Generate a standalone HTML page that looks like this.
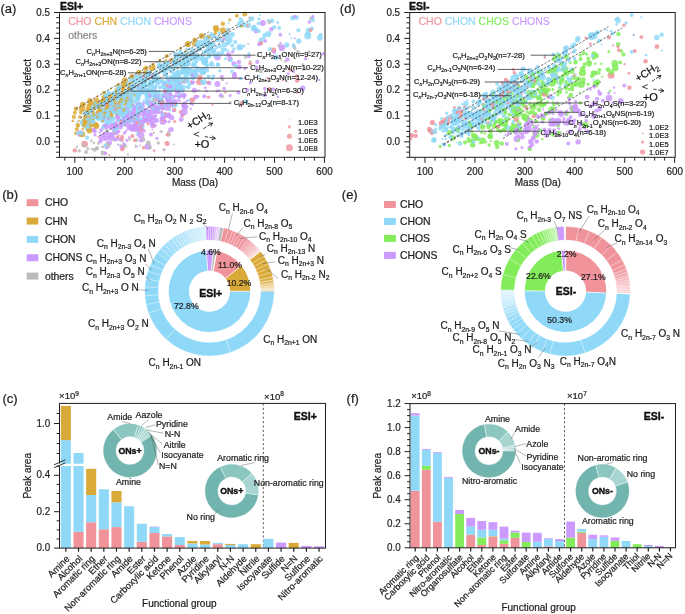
<!DOCTYPE html>
<html><head><meta charset="utf-8"><style>
html,body{margin:0;padding:0;background:#fff;}
svg{display:block;}
text{font-family:"Liberation Sans", sans-serif;}
svg{will-change:transform;}
</style></head><body>
<svg width="685" height="614" viewBox="0 0 685 614" font-family='"Liberation Sans", sans-serif'>
<rect x="0" y="0" width="685" height="614" fill="#fff"/>
<g fill-opacity="0.85">
<circle cx="168.5" cy="91.1" r="3.70" fill="#8FD8F8"/>
<circle cx="132.4" cy="78.4" r="3.69" fill="#8FD8F8"/>
<circle cx="122.2" cy="121.4" r="3.68" fill="#8FD8F8"/>
<circle cx="156.2" cy="110.8" r="3.67" fill="#CC99FF"/>
<circle cx="203.0" cy="71.2" r="3.65" fill="#8FD8F8"/>
<circle cx="226.4" cy="34.9" r="3.64" fill="#8FD8F8"/>
<circle cx="141.0" cy="125.9" r="3.63" fill="#8FD8F8"/>
<circle cx="181.3" cy="80.4" r="3.63" fill="#8FD8F8"/>
<circle cx="170.4" cy="87.5" r="3.62" fill="#8FD8F8"/>
<circle cx="124.4" cy="114.7" r="3.62" fill="#8FD8F8"/>
<circle cx="186.0" cy="80.2" r="3.60" fill="#8FD8F8"/>
<circle cx="581.2" cy="84.5" r="3.60" fill="#82EC5A"/>
<circle cx="148.6" cy="91.3" r="3.58" fill="#8FD8F8"/>
<circle cx="147.7" cy="119.3" r="3.58" fill="#CC99FF"/>
<circle cx="126.2" cy="83.9" r="3.58" fill="#8FD8F8"/>
<circle cx="459.8" cy="113.0" r="3.58" fill="#F0939B"/>
<circle cx="494.6" cy="97.8" r="3.58" fill="#8FD8F8"/>
<circle cx="593.9" cy="35.7" r="3.58" fill="#8FD8F8"/>
<circle cx="127.6" cy="102.2" r="3.57" fill="#8FD8F8"/>
<circle cx="536.0" cy="134.4" r="3.55" fill="#82EC5A"/>
<circle cx="97.3" cy="114.5" r="3.55" fill="#8FD8F8"/>
<circle cx="147.4" cy="73.7" r="3.55" fill="#8FD8F8"/>
<circle cx="202.5" cy="71.0" r="3.55" fill="#8FD8F8"/>
<circle cx="582.6" cy="72.7" r="3.55" fill="#82EC5A"/>
<circle cx="551.6" cy="110.4" r="3.54" fill="#82EC5A"/>
<circle cx="514.1" cy="78.1" r="3.53" fill="#8FD8F8"/>
<circle cx="144.3" cy="78.6" r="3.53" fill="#8FD8F8"/>
<circle cx="591.4" cy="36.5" r="3.53" fill="#8FD8F8"/>
<circle cx="194.0" cy="73.7" r="3.53" fill="#CC99FF"/>
<circle cx="521.5" cy="101.8" r="3.53" fill="#82EC5A"/>
<circle cx="469.5" cy="125.6" r="3.52" fill="#8FD8F8"/>
<circle cx="517.1" cy="138.7" r="3.51" fill="#CC99FF"/>
<circle cx="614.9" cy="63.4" r="3.51" fill="#82EC5A"/>
<circle cx="553.0" cy="121.2" r="3.51" fill="#CC99FF"/>
<circle cx="446.5" cy="120.4" r="3.49" fill="#F0939B"/>
<circle cx="174.2" cy="78.8" r="3.49" fill="#8FD8F8"/>
<circle cx="240.6" cy="24.2" r="3.49" fill="#8FD8F8"/>
<circle cx="611.1" cy="75.3" r="3.48" fill="#F0939B"/>
<circle cx="178.2" cy="85.3" r="3.48" fill="#CC99FF"/>
<circle cx="475.0" cy="116.1" r="3.48" fill="#8FD8F8"/>
<circle cx="102.3" cy="137.6" r="3.47" fill="#CC99FF"/>
<circle cx="307.7" cy="35.9" r="3.46" fill="#8FD8F8"/>
<circle cx="454.4" cy="119.4" r="3.46" fill="#8FD8F8"/>
<circle cx="526.0" cy="130.8" r="3.45" fill="#CC99FF"/>
<circle cx="184.2" cy="111.7" r="3.45" fill="#CC99FF"/>
<circle cx="541.7" cy="92.3" r="3.45" fill="#82EC5A"/>
<circle cx="131.6" cy="113.7" r="3.45" fill="#CC99FF"/>
<circle cx="172.5" cy="88.4" r="3.44" fill="#8FD8F8"/>
<circle cx="467.1" cy="125.4" r="3.44" fill="#8FD8F8"/>
<circle cx="525.9" cy="117.4" r="3.44" fill="#82EC5A"/>
<circle cx="457.1" cy="120.3" r="3.44" fill="#8FD8F8"/>
<circle cx="511.9" cy="129.3" r="3.43" fill="#82EC5A"/>
<circle cx="168.5" cy="99.3" r="3.42" fill="#CC99FF"/>
<circle cx="552.2" cy="83.2" r="3.41" fill="#82EC5A"/>
<circle cx="528.4" cy="128.8" r="3.40" fill="#CC99FF"/>
<circle cx="585.2" cy="124.8" r="3.40" fill="#82EC5A"/>
<circle cx="527.2" cy="125.1" r="3.40" fill="#CC99FF"/>
<circle cx="453.8" cy="122.0" r="3.39" fill="#8FD8F8"/>
<circle cx="281.8" cy="47.6" r="3.38" fill="#CC99FF"/>
<circle cx="139.9" cy="129.9" r="3.38" fill="#F0939B"/>
<circle cx="147.9" cy="146.4" r="3.38" fill="#CC99FF"/>
<circle cx="136.5" cy="126.4" r="3.38" fill="#CC99FF"/>
<circle cx="95.1" cy="105.7" r="3.37" fill="#8FD8F8"/>
<circle cx="83.3" cy="122.4" r="3.37" fill="#8FD8F8"/>
<circle cx="152.8" cy="117.5" r="3.37" fill="#CC99FF"/>
<circle cx="523.6" cy="88.8" r="3.37" fill="#8FD8F8"/>
<circle cx="174.6" cy="104.3" r="3.37" fill="#8FD8F8"/>
<circle cx="530.5" cy="71.7" r="3.37" fill="#8FD8F8"/>
<circle cx="162.8" cy="121.5" r="3.37" fill="#CC99FF"/>
<circle cx="111.7" cy="137.5" r="3.37" fill="#CC99FF"/>
<circle cx="80.2" cy="133.6" r="3.36" fill="#CC99FF"/>
<circle cx="487.1" cy="113.4" r="3.36" fill="#8FD8F8"/>
<circle cx="229.3" cy="40.0" r="3.36" fill="#8FD8F8"/>
<circle cx="193.2" cy="76.0" r="3.35" fill="#8FD8F8"/>
<circle cx="180.3" cy="87.4" r="3.35" fill="#8FD8F8"/>
<circle cx="84.6" cy="144.1" r="3.34" fill="#F0939B"/>
<circle cx="192.1" cy="56.6" r="3.34" fill="#8FD8F8"/>
<circle cx="464.8" cy="123.7" r="3.34" fill="#8FD8F8"/>
<circle cx="182.9" cy="64.0" r="3.32" fill="#8FD8F8"/>
<circle cx="167.5" cy="107.6" r="3.31" fill="#CC99FF"/>
<circle cx="114.6" cy="125.4" r="3.31" fill="#CC99FF"/>
<circle cx="112.0" cy="110.8" r="3.30" fill="#8FD8F8"/>
<circle cx="482.7" cy="140.8" r="3.30" fill="#82EC5A"/>
<circle cx="105.7" cy="99.6" r="3.30" fill="#8FD8F8"/>
<circle cx="609.0" cy="98.0" r="3.30" fill="#CC99FF"/>
<circle cx="615.3" cy="68.1" r="3.30" fill="#82EC5A"/>
<circle cx="141.1" cy="135.5" r="3.30" fill="#CC99FF"/>
<circle cx="209.4" cy="44.1" r="3.29" fill="#8FD8F8"/>
<circle cx="125.2" cy="120.7" r="3.29" fill="#CC99FF"/>
<circle cx="479.8" cy="122.2" r="3.29" fill="#8FD8F8"/>
<circle cx="508.9" cy="88.0" r="3.29" fill="#8FD8F8"/>
<circle cx="239.8" cy="47.3" r="3.27" fill="#8FD8F8"/>
<circle cx="471.7" cy="124.9" r="3.27" fill="#82EC5A"/>
<circle cx="512.9" cy="100.9" r="3.27" fill="#82EC5A"/>
<circle cx="217.6" cy="57.3" r="3.27" fill="#CC99FF"/>
<circle cx="558.2" cy="121.0" r="3.27" fill="#CC99FF"/>
<circle cx="495.6" cy="106.4" r="3.26" fill="#8FD8F8"/>
<circle cx="199.4" cy="82.1" r="3.25" fill="#F0939B"/>
<circle cx="125.7" cy="109.6" r="3.25" fill="#CC99FF"/>
<circle cx="140.6" cy="88.5" r="3.24" fill="#8FD8F8"/>
<circle cx="129.6" cy="127.2" r="3.24" fill="#CC99FF"/>
<circle cx="519.0" cy="129.6" r="3.24" fill="#82EC5A"/>
<circle cx="176.0" cy="62.9" r="3.24" fill="#8FD8F8"/>
<circle cx="206.3" cy="39.1" r="3.22" fill="#8FD8F8"/>
<circle cx="164.7" cy="115.2" r="3.21" fill="#F0939B"/>
<circle cx="442.1" cy="123.5" r="3.21" fill="#F0939B"/>
<circle cx="534.1" cy="94.1" r="3.21" fill="#82EC5A"/>
<circle cx="532.8" cy="93.0" r="3.20" fill="#8FD8F8"/>
<circle cx="517.1" cy="87.0" r="3.20" fill="#8FD8F8"/>
<circle cx="161.3" cy="102.1" r="3.20" fill="#CC99FF"/>
<circle cx="504.3" cy="87.1" r="3.20" fill="#8FD8F8"/>
<circle cx="544.9" cy="93.6" r="3.20" fill="#F0939B"/>
<circle cx="595.8" cy="83.9" r="3.20" fill="#82EC5A"/>
<circle cx="134.0" cy="127.5" r="3.19" fill="#CC99FF"/>
<circle cx="81.9" cy="108.8" r="3.17" fill="#DAAA38"/>
<circle cx="537.7" cy="78.8" r="3.17" fill="#82EC5A"/>
<circle cx="176.4" cy="54.8" r="3.17" fill="#8FD8F8"/>
<circle cx="532.6" cy="95.4" r="3.16" fill="#82EC5A"/>
<circle cx="213.3" cy="51.0" r="3.16" fill="#8FD8F8"/>
<circle cx="121.3" cy="97.9" r="3.16" fill="#DAAA38"/>
<circle cx="114.9" cy="93.4" r="3.15" fill="#8FD8F8"/>
<circle cx="174.1" cy="78.2" r="3.13" fill="#8FD8F8"/>
<circle cx="138.3" cy="108.0" r="3.13" fill="#8FD8F8"/>
<circle cx="123.8" cy="84.5" r="3.13" fill="#DAAA38"/>
<circle cx="466.1" cy="114.0" r="3.13" fill="#8FD8F8"/>
<circle cx="204.6" cy="61.3" r="3.13" fill="#8FD8F8"/>
<circle cx="268.3" cy="34.0" r="3.12" fill="#8FD8F8"/>
<circle cx="222.8" cy="30.3" r="3.12" fill="#DAAA38"/>
<circle cx="216.3" cy="29.1" r="3.12" fill="#DAAA38"/>
<circle cx="95.8" cy="125.0" r="3.11" fill="#DAAA38"/>
<circle cx="89.3" cy="130.3" r="3.10" fill="#DAAA38"/>
<circle cx="117.8" cy="108.8" r="3.10" fill="#DAAA38"/>
<circle cx="589.0" cy="63.4" r="3.10" fill="#82EC5A"/>
<circle cx="144.3" cy="82.3" r="3.10" fill="#8FD8F8"/>
<circle cx="120.8" cy="96.7" r="3.09" fill="#DAAA38"/>
<circle cx="131.5" cy="118.1" r="3.09" fill="#8FD8F8"/>
<circle cx="555.2" cy="59.0" r="3.09" fill="#82EC5A"/>
<circle cx="187.8" cy="44.0" r="3.08" fill="#DAAA38"/>
<circle cx="86.8" cy="112.8" r="3.08" fill="#DAAA38"/>
<circle cx="532.1" cy="84.4" r="3.08" fill="#82EC5A"/>
<circle cx="91.8" cy="123.4" r="3.08" fill="#DAAA38"/>
<circle cx="86.3" cy="118.1" r="3.08" fill="#DAAA38"/>
<circle cx="490.1" cy="117.3" r="3.07" fill="#8FD8F8"/>
<circle cx="541.6" cy="75.7" r="3.07" fill="#8FD8F8"/>
<circle cx="93.3" cy="106.7" r="3.07" fill="#8FD8F8"/>
<circle cx="247.8" cy="25.3" r="3.06" fill="#8FD8F8"/>
<circle cx="98.8" cy="112.8" r="3.05" fill="#DAAA38"/>
<circle cx="520.1" cy="92.7" r="3.05" fill="#F0939B"/>
<circle cx="91.8" cy="116.9" r="3.04" fill="#DAAA38"/>
<circle cx="82.3" cy="134.3" r="3.04" fill="#DAAA38"/>
<circle cx="90.9" cy="103.2" r="3.04" fill="#DAAA38"/>
<circle cx="112.8" cy="111.3" r="3.04" fill="#DAAA38"/>
<circle cx="262.9" cy="23.0" r="3.03" fill="#CC99FF"/>
<circle cx="134.3" cy="93.8" r="3.03" fill="#DAAA38"/>
<circle cx="532.2" cy="82.0" r="3.01" fill="#8FD8F8"/>
<circle cx="524.2" cy="117.1" r="3.00" fill="#82EC5A"/>
<circle cx="515.9" cy="130.3" r="3.00" fill="#CC99FF"/>
<circle cx="122.3" cy="93.8" r="3.00" fill="#DAAA38"/>
<circle cx="92.3" cy="118.1" r="3.00" fill="#DAAA38"/>
<circle cx="217.4" cy="83.9" r="2.99" fill="#CC99FF"/>
<circle cx="124.8" cy="80.5" r="2.99" fill="#DAAA38"/>
<circle cx="126.4" cy="116.2" r="2.98" fill="#8FD8F8"/>
<circle cx="444.6" cy="123.3" r="2.98" fill="#8FD8F8"/>
<circle cx="319.9" cy="37.7" r="2.97" fill="#8FD8F8"/>
<circle cx="508.3" cy="101.0" r="2.97" fill="#8FD8F8"/>
<circle cx="516.9" cy="85.8" r="2.97" fill="#82EC5A"/>
<circle cx="82.9" cy="104.7" r="2.95" fill="#DAAA38"/>
<circle cx="558.3" cy="56.1" r="2.95" fill="#82EC5A"/>
<circle cx="218.1" cy="39.4" r="2.95" fill="#8FD8F8"/>
<circle cx="501.9" cy="123.5" r="2.95" fill="#82EC5A"/>
<circle cx="94.5" cy="116.6" r="2.95" fill="#8FD8F8"/>
<circle cx="474.9" cy="136.7" r="2.94" fill="#82EC5A"/>
<circle cx="573.8" cy="109.6" r="2.94" fill="#CC99FF"/>
<circle cx="163.9" cy="95.4" r="2.93" fill="#8FD8F8"/>
<circle cx="566.4" cy="73.2" r="2.93" fill="#82EC5A"/>
<circle cx="99.3" cy="114.1" r="2.93" fill="#DAAA38"/>
<circle cx="86.8" cy="119.4" r="2.93" fill="#DAAA38"/>
<circle cx="84.6" cy="124.6" r="2.92" fill="#8FD8F8"/>
<circle cx="485.7" cy="98.5" r="2.92" fill="#F0939B"/>
<circle cx="96.3" cy="126.2" r="2.91" fill="#DAAA38"/>
<circle cx="89.8" cy="125.0" r="2.91" fill="#DAAA38"/>
<circle cx="201.8" cy="35.9" r="2.91" fill="#DAAA38"/>
<circle cx="493.6" cy="117.4" r="2.91" fill="#8FD8F8"/>
<circle cx="156.6" cy="80.8" r="2.91" fill="#8FD8F8"/>
<circle cx="153.0" cy="125.4" r="2.90" fill="#CC99FF"/>
<circle cx="512.0" cy="100.0" r="2.90" fill="#8FD8F8"/>
<circle cx="474.6" cy="124.5" r="2.89" fill="#8FD8F8"/>
<circle cx="144.4" cy="113.1" r="2.89" fill="#CC99FF"/>
<circle cx="137.7" cy="81.0" r="2.87" fill="#8FD8F8"/>
<circle cx="137.4" cy="121.4" r="2.87" fill="#CC99FF"/>
<circle cx="620.8" cy="101.1" r="2.87" fill="#CC99FF"/>
<circle cx="496.7" cy="142.9" r="2.87" fill="#82EC5A"/>
<circle cx="500.0" cy="120.7" r="2.86" fill="#82EC5A"/>
<circle cx="151.8" cy="68.3" r="2.86" fill="#DAAA38"/>
<circle cx="105.3" cy="114.1" r="2.85" fill="#DAAA38"/>
<circle cx="215.8" cy="27.8" r="2.85" fill="#DAAA38"/>
<circle cx="520.0" cy="110.7" r="2.85" fill="#82EC5A"/>
<circle cx="120.1" cy="106.8" r="2.84" fill="#8FD8F8"/>
<circle cx="479.1" cy="112.5" r="2.84" fill="#8FD8F8"/>
<circle cx="106.3" cy="110.0" r="2.84" fill="#DAAA38"/>
<circle cx="499.5" cy="108.4" r="2.84" fill="#82EC5A"/>
<circle cx="133.6" cy="111.6" r="2.84" fill="#CC99FF"/>
<circle cx="148.6" cy="116.7" r="2.82" fill="#8FD8F8"/>
<circle cx="504.2" cy="91.2" r="2.82" fill="#8FD8F8"/>
<circle cx="96.8" cy="103.2" r="2.81" fill="#DAAA38"/>
<circle cx="131.4" cy="127.2" r="2.80" fill="#CC99FF"/>
<circle cx="180.3" cy="54.4" r="2.80" fill="#8FD8F8"/>
<circle cx="146.0" cy="73.8" r="2.80" fill="#8FD8F8"/>
<circle cx="113.7" cy="106.1" r="2.80" fill="#8FD8F8"/>
<circle cx="168.5" cy="115.2" r="2.80" fill="#CC99FF"/>
<circle cx="117.5" cy="113.9" r="2.79" fill="#8FD8F8"/>
<circle cx="125.2" cy="99.9" r="2.79" fill="#8FD8F8"/>
<circle cx="177.1" cy="89.7" r="2.79" fill="#8FD8F8"/>
<circle cx="211.8" cy="36.1" r="2.79" fill="#8FD8F8"/>
<circle cx="560.1" cy="112.8" r="2.79" fill="#CC99FF"/>
<circle cx="575.4" cy="106.5" r="2.79" fill="#CC99FF"/>
<circle cx="559.3" cy="60.4" r="2.79" fill="#8FD8F8"/>
<circle cx="496.3" cy="105.8" r="2.79" fill="#8FD8F8"/>
<circle cx="100.8" cy="104.7" r="2.79" fill="#DAAA38"/>
<circle cx="516.1" cy="119.4" r="2.79" fill="#F0939B"/>
<circle cx="555.2" cy="81.1" r="2.78" fill="#82EC5A"/>
<circle cx="204.2" cy="62.4" r="2.78" fill="#8FD8F8"/>
<circle cx="593.6" cy="73.2" r="2.78" fill="#82EC5A"/>
<circle cx="275.9" cy="57.4" r="2.78" fill="#8FD8F8"/>
<circle cx="153.6" cy="76.3" r="2.78" fill="#8FD8F8"/>
<circle cx="168.2" cy="103.4" r="2.78" fill="#CC99FF"/>
<circle cx="559.0" cy="133.9" r="2.78" fill="#CC99FF"/>
<circle cx="484.5" cy="95.2" r="2.78" fill="#8FD8F8"/>
<circle cx="569.8" cy="80.5" r="2.77" fill="#8FD8F8"/>
<circle cx="184.8" cy="56.8" r="2.77" fill="#8FD8F8"/>
<circle cx="489.6" cy="124.8" r="2.77" fill="#82EC5A"/>
<circle cx="526.2" cy="77.6" r="2.77" fill="#82EC5A"/>
<circle cx="169.1" cy="68.3" r="2.77" fill="#8FD8F8"/>
<circle cx="147.3" cy="99.4" r="2.77" fill="#8FD8F8"/>
<circle cx="111.7" cy="111.4" r="2.77" fill="#8FD8F8"/>
<circle cx="543.0" cy="91.1" r="2.77" fill="#82EC5A"/>
<circle cx="568.5" cy="122.0" r="2.77" fill="#82EC5A"/>
<circle cx="151.0" cy="82.7" r="2.77" fill="#8FD8F8"/>
<circle cx="103.1" cy="110.4" r="2.77" fill="#8FD8F8"/>
<circle cx="498.7" cy="96.7" r="2.77" fill="#8FD8F8"/>
<circle cx="503.6" cy="101.9" r="2.76" fill="#82EC5A"/>
<circle cx="452.7" cy="138.0" r="2.76" fill="#82EC5A"/>
<circle cx="543.0" cy="116.3" r="2.76" fill="#CC99FF"/>
<circle cx="546.4" cy="132.8" r="2.76" fill="#CC99FF"/>
<circle cx="165.6" cy="87.7" r="2.76" fill="#8FD8F8"/>
<circle cx="482.7" cy="127.0" r="2.76" fill="#82EC5A"/>
<circle cx="551.0" cy="123.9" r="2.76" fill="#CC99FF"/>
<circle cx="140.7" cy="76.2" r="2.76" fill="#8FD8F8"/>
<circle cx="106.9" cy="115.0" r="2.75" fill="#8FD8F8"/>
<circle cx="106.0" cy="126.5" r="2.75" fill="#CC99FF"/>
<circle cx="119.2" cy="110.9" r="2.75" fill="#8FD8F8"/>
<circle cx="518.5" cy="124.9" r="2.75" fill="#82EC5A"/>
<circle cx="132.2" cy="128.8" r="2.75" fill="#CC99FF"/>
<circle cx="509.8" cy="97.0" r="2.74" fill="#8FD8F8"/>
<circle cx="120.3" cy="101.9" r="2.74" fill="#DAAA38"/>
<circle cx="575.7" cy="83.5" r="2.74" fill="#82EC5A"/>
<circle cx="109.8" cy="135.0" r="2.74" fill="#CC99FF"/>
<circle cx="114.3" cy="101.9" r="2.74" fill="#DAAA38"/>
<circle cx="490.5" cy="136.4" r="2.74" fill="#82EC5A"/>
<circle cx="199.9" cy="77.4" r="2.73" fill="#F0939B"/>
<circle cx="135.3" cy="115.2" r="2.73" fill="#CC99FF"/>
<circle cx="457.1" cy="115.9" r="2.73" fill="#8FD8F8"/>
<circle cx="137.6" cy="118.9" r="2.73" fill="#CC99FF"/>
<circle cx="516.7" cy="110.6" r="2.73" fill="#82EC5A"/>
<circle cx="453.5" cy="129.5" r="2.72" fill="#8FD8F8"/>
<circle cx="302.7" cy="88.3" r="2.72" fill="#CC99FF"/>
<circle cx="561.9" cy="78.2" r="2.72" fill="#82EC5A"/>
<circle cx="465.9" cy="103.6" r="2.72" fill="#8FD8F8"/>
<circle cx="523.2" cy="69.1" r="2.72" fill="#8FD8F8"/>
<circle cx="521.1" cy="74.0" r="2.72" fill="#8FD8F8"/>
<circle cx="506.8" cy="96.4" r="2.72" fill="#8FD8F8"/>
<circle cx="84.8" cy="120.9" r="2.72" fill="#DAAA38"/>
<circle cx="146.4" cy="110.8" r="2.72" fill="#CC99FF"/>
<circle cx="150.7" cy="82.5" r="2.71" fill="#8FD8F8"/>
<circle cx="519.9" cy="113.0" r="2.71" fill="#82EC5A"/>
<circle cx="618.1" cy="20.7" r="2.71" fill="#8FD8F8"/>
<circle cx="530.7" cy="141.8" r="2.71" fill="#CC99FF"/>
<circle cx="163.3" cy="115.7" r="2.71" fill="#CC99FF"/>
<circle cx="87.4" cy="128.3" r="2.71" fill="#8FD8F8"/>
<circle cx="148.7" cy="113.6" r="2.71" fill="#CC99FF"/>
<circle cx="564.7" cy="52.4" r="2.71" fill="#8FD8F8"/>
<circle cx="529.3" cy="82.8" r="2.71" fill="#8FD8F8"/>
<circle cx="170.9" cy="84.7" r="2.71" fill="#8FD8F8"/>
<circle cx="162.6" cy="106.9" r="2.70" fill="#F0939B"/>
<circle cx="483.8" cy="117.4" r="2.70" fill="#8FD8F8"/>
<circle cx="196.1" cy="74.7" r="2.70" fill="#8FD8F8"/>
<circle cx="115.5" cy="132.6" r="2.70" fill="#CC99FF"/>
<circle cx="167.4" cy="89.9" r="2.70" fill="#8FD8F8"/>
<circle cx="656.8" cy="37.4" r="2.70" fill="#8FD8F8"/>
<circle cx="185.2" cy="107.4" r="2.70" fill="#CC99FF"/>
<circle cx="566.4" cy="47.9" r="2.70" fill="#8FD8F8"/>
<circle cx="203.3" cy="43.3" r="2.70" fill="#8FD8F8"/>
<circle cx="582.4" cy="69.2" r="2.70" fill="#82EC5A"/>
<circle cx="472.7" cy="145.0" r="2.69" fill="#82EC5A"/>
<circle cx="493.4" cy="92.1" r="2.69" fill="#8FD8F8"/>
<circle cx="476.5" cy="138.4" r="2.69" fill="#82EC5A"/>
<circle cx="487.7" cy="100.5" r="2.69" fill="#8FD8F8"/>
<circle cx="86.7" cy="113.2" r="2.69" fill="#8FD8F8"/>
<circle cx="234.5" cy="76.0" r="2.69" fill="#CC99FF"/>
<circle cx="104.6" cy="134.8" r="2.69" fill="#CC99FF"/>
<circle cx="518.5" cy="92.4" r="2.69" fill="#8FD8F8"/>
<circle cx="473.6" cy="135.6" r="2.69" fill="#82EC5A"/>
<circle cx="146.5" cy="90.8" r="2.68" fill="#8FD8F8"/>
<circle cx="486.6" cy="106.2" r="2.68" fill="#8FD8F8"/>
<circle cx="199.1" cy="48.8" r="2.68" fill="#8FD8F8"/>
<circle cx="511.4" cy="81.8" r="2.68" fill="#8FD8F8"/>
<circle cx="157.8" cy="109.6" r="2.68" fill="#8FD8F8"/>
<circle cx="518.3" cy="112.7" r="2.68" fill="#8FD8F8"/>
<circle cx="171.0" cy="129.6" r="2.68" fill="#CC99FF"/>
<circle cx="208.0" cy="37.2" r="2.68" fill="#8FD8F8"/>
<circle cx="506.8" cy="92.3" r="2.68" fill="#8FD8F8"/>
<circle cx="273.5" cy="50.1" r="2.67" fill="#F0939B"/>
<circle cx="534.0" cy="93.6" r="2.67" fill="#8FD8F8"/>
<circle cx="516.3" cy="111.2" r="2.67" fill="#82EC5A"/>
<circle cx="139.0" cy="89.1" r="2.67" fill="#CC99FF"/>
<circle cx="495.4" cy="96.1" r="2.67" fill="#8FD8F8"/>
<circle cx="545.7" cy="85.1" r="2.67" fill="#82EC5A"/>
<circle cx="432.8" cy="131.8" r="2.67" fill="#F0939B"/>
<circle cx="204.3" cy="82.3" r="2.67" fill="#8FD8F8"/>
<circle cx="194.0" cy="64.0" r="2.66" fill="#8FD8F8"/>
<circle cx="479.2" cy="101.8" r="2.66" fill="#8FD8F8"/>
<circle cx="516.8" cy="112.7" r="2.66" fill="#82EC5A"/>
<circle cx="507.5" cy="93.6" r="2.66" fill="#82EC5A"/>
<circle cx="138.8" cy="72.4" r="2.66" fill="#DAAA38"/>
<circle cx="89.3" cy="106.0" r="2.66" fill="#DAAA38"/>
<circle cx="135.2" cy="108.1" r="2.66" fill="#CC99FF"/>
<circle cx="568.8" cy="120.9" r="2.66" fill="#CC99FF"/>
<circle cx="578.1" cy="141.9" r="2.66" fill="#CC99FF"/>
<circle cx="534.1" cy="106.9" r="2.66" fill="#82EC5A"/>
<circle cx="298.8" cy="41.1" r="2.66" fill="#8FD8F8"/>
<circle cx="186.4" cy="78.9" r="2.66" fill="#8FD8F8"/>
<circle cx="507.6" cy="84.2" r="2.66" fill="#8FD8F8"/>
<circle cx="178.9" cy="90.2" r="2.66" fill="#CC99FF"/>
<circle cx="165.5" cy="89.9" r="2.66" fill="#8FD8F8"/>
<circle cx="552.2" cy="70.4" r="2.65" fill="#82EC5A"/>
<circle cx="89.9" cy="100.7" r="2.65" fill="#DAAA38"/>
<circle cx="176.6" cy="81.4" r="2.65" fill="#8FD8F8"/>
<circle cx="109.8" cy="99.1" r="2.65" fill="#DAAA38"/>
<circle cx="515.7" cy="100.8" r="2.64" fill="#82EC5A"/>
<circle cx="197.6" cy="42.7" r="2.64" fill="#8FD8F8"/>
<circle cx="102.4" cy="120.3" r="2.64" fill="#8FD8F8"/>
<circle cx="144.2" cy="91.9" r="2.64" fill="#8FD8F8"/>
<circle cx="543.1" cy="78.0" r="2.64" fill="#8FD8F8"/>
<circle cx="593.6" cy="116.1" r="2.64" fill="#CC99FF"/>
<circle cx="224.5" cy="44.6" r="2.63" fill="#8FD8F8"/>
<circle cx="99.4" cy="106.3" r="2.63" fill="#8FD8F8"/>
<circle cx="131.2" cy="95.2" r="2.63" fill="#8FD8F8"/>
<circle cx="129.6" cy="99.3" r="2.63" fill="#8FD8F8"/>
<circle cx="194.4" cy="90.3" r="2.63" fill="#CC99FF"/>
<circle cx="578.0" cy="110.6" r="2.63" fill="#CC99FF"/>
<circle cx="189.4" cy="70.8" r="2.63" fill="#8FD8F8"/>
<circle cx="144.4" cy="84.8" r="2.62" fill="#8FD8F8"/>
<circle cx="499.5" cy="109.3" r="2.62" fill="#8FD8F8"/>
<circle cx="611.3" cy="72.1" r="2.62" fill="#82EC5A"/>
<circle cx="593.9" cy="103.9" r="2.62" fill="#CC99FF"/>
<circle cx="145.8" cy="68.3" r="2.62" fill="#DAAA38"/>
<circle cx="212.9" cy="44.4" r="2.62" fill="#8FD8F8"/>
<circle cx="152.1" cy="122.8" r="2.62" fill="#CC99FF"/>
<circle cx="519.9" cy="89.5" r="2.61" fill="#8FD8F8"/>
<circle cx="175.2" cy="101.5" r="2.61" fill="#CC99FF"/>
<circle cx="432.4" cy="122.5" r="2.61" fill="#F0939B"/>
<circle cx="597.6" cy="81.9" r="2.61" fill="#82EC5A"/>
<circle cx="116.5" cy="127.6" r="2.61" fill="#8FD8F8"/>
<circle cx="108.8" cy="96.7" r="2.61" fill="#DAAA38"/>
<circle cx="286.8" cy="44.9" r="2.60" fill="#8FD8F8"/>
<circle cx="179.3" cy="88.0" r="2.60" fill="#8FD8F8"/>
<circle cx="594.1" cy="53.8" r="2.60" fill="#82EC5A"/>
<circle cx="507.6" cy="127.6" r="2.60" fill="#8FD8F8"/>
<circle cx="578.7" cy="79.0" r="2.60" fill="#82EC5A"/>
<circle cx="449.2" cy="132.5" r="2.60" fill="#82EC5A"/>
<circle cx="131.7" cy="88.9" r="2.60" fill="#8FD8F8"/>
<circle cx="473.0" cy="141.0" r="2.60" fill="#8FD8F8"/>
<circle cx="578.0" cy="38.6" r="2.60" fill="#8FD8F8"/>
<circle cx="182.6" cy="89.3" r="2.60" fill="#8FD8F8"/>
<circle cx="492.5" cy="119.0" r="2.60" fill="#8FD8F8"/>
<circle cx="119.3" cy="106.0" r="2.59" fill="#DAAA38"/>
<circle cx="524.3" cy="89.8" r="2.59" fill="#8FD8F8"/>
<circle cx="183.7" cy="105.1" r="2.59" fill="#CC99FF"/>
<circle cx="505.6" cy="123.2" r="2.59" fill="#82EC5A"/>
<circle cx="518.2" cy="105.3" r="2.59" fill="#8FD8F8"/>
<circle cx="232.3" cy="34.6" r="2.59" fill="#8FD8F8"/>
<circle cx="171.7" cy="117.7" r="2.59" fill="#CC99FF"/>
<circle cx="107.2" cy="96.0" r="2.58" fill="#8FD8F8"/>
<circle cx="184.6" cy="69.3" r="2.58" fill="#8FD8F8"/>
<circle cx="192.3" cy="99.9" r="2.58" fill="#F0939B"/>
<circle cx="101.1" cy="101.9" r="2.58" fill="#8FD8F8"/>
<circle cx="489.9" cy="136.3" r="2.58" fill="#82EC5A"/>
<circle cx="572.0" cy="69.8" r="2.58" fill="#8FD8F8"/>
<circle cx="187.9" cy="60.2" r="2.57" fill="#8FD8F8"/>
<circle cx="499.7" cy="90.3" r="2.57" fill="#8FD8F8"/>
<circle cx="549.9" cy="96.8" r="2.57" fill="#CC99FF"/>
<circle cx="88.8" cy="129.0" r="2.57" fill="#DAAA38"/>
<circle cx="541.9" cy="73.4" r="2.57" fill="#8FD8F8"/>
<circle cx="491.1" cy="102.6" r="2.57" fill="#82EC5A"/>
<circle cx="90.8" cy="120.9" r="2.57" fill="#DAAA38"/>
<circle cx="430.2" cy="130.6" r="2.57" fill="#F0939B"/>
<circle cx="99.7" cy="114.5" r="2.57" fill="#8FD8F8"/>
<circle cx="261.2" cy="40.1" r="2.57" fill="#8FD8F8"/>
<circle cx="566.3" cy="113.2" r="2.56" fill="#82EC5A"/>
<circle cx="228.5" cy="54.5" r="2.56" fill="#CC99FF"/>
<circle cx="144.8" cy="120.4" r="2.56" fill="#CC99FF"/>
<circle cx="120.9" cy="111.7" r="2.56" fill="#CC99FF"/>
<circle cx="542.4" cy="89.9" r="2.56" fill="#8FD8F8"/>
<circle cx="187.9" cy="63.7" r="2.56" fill="#8FD8F8"/>
<circle cx="101.6" cy="118.5" r="2.55" fill="#8FD8F8"/>
<circle cx="165.3" cy="73.2" r="2.55" fill="#8FD8F8"/>
<circle cx="99.8" cy="108.8" r="2.55" fill="#DAAA38"/>
<circle cx="502.0" cy="105.3" r="2.55" fill="#8FD8F8"/>
<circle cx="488.4" cy="112.5" r="2.55" fill="#8FD8F8"/>
<circle cx="526.8" cy="119.6" r="2.54" fill="#82EC5A"/>
<circle cx="99.0" cy="115.7" r="2.54" fill="#8FD8F8"/>
<circle cx="114.3" cy="129.4" r="2.54" fill="#CC99FF"/>
<circle cx="95.9" cy="100.7" r="2.54" fill="#DAAA38"/>
<circle cx="507.2" cy="119.1" r="2.54" fill="#82EC5A"/>
<circle cx="164.4" cy="84.5" r="2.54" fill="#8FD8F8"/>
<circle cx="513.9" cy="88.2" r="2.54" fill="#F0939B"/>
<circle cx="230.1" cy="58.9" r="2.54" fill="#CC99FF"/>
<circle cx="572.8" cy="122.6" r="2.54" fill="#CC99FF"/>
<circle cx="192.9" cy="58.3" r="2.54" fill="#8FD8F8"/>
<circle cx="178.2" cy="75.8" r="2.53" fill="#8FD8F8"/>
<circle cx="520.4" cy="91.0" r="2.53" fill="#8FD8F8"/>
<circle cx="411.5" cy="135.5" r="2.53" fill="#F0939B"/>
<circle cx="239.1" cy="66.8" r="2.53" fill="#CC99FF"/>
<circle cx="527.2" cy="97.6" r="2.53" fill="#8FD8F8"/>
<circle cx="117.3" cy="89.8" r="2.53" fill="#DAAA38"/>
<circle cx="122.5" cy="120.9" r="2.53" fill="#CC99FF"/>
<circle cx="142.8" cy="139.6" r="2.53" fill="#BBBBBB"/>
<circle cx="167.1" cy="143.5" r="2.53" fill="#F0939B"/>
<circle cx="91.4" cy="110.5" r="2.52" fill="#8FD8F8"/>
<circle cx="124.5" cy="122.7" r="2.52" fill="#CC99FF"/>
<circle cx="566.3" cy="56.8" r="2.52" fill="#82EC5A"/>
<circle cx="433.6" cy="140.6" r="2.52" fill="#8FD8F8"/>
<circle cx="156.2" cy="120.5" r="2.52" fill="#CC99FF"/>
<circle cx="110.4" cy="104.2" r="2.52" fill="#8FD8F8"/>
<circle cx="234.0" cy="63.7" r="2.52" fill="#CC99FF"/>
<circle cx="194.8" cy="40.0" r="2.51" fill="#DAAA38"/>
<circle cx="112.2" cy="98.9" r="2.51" fill="#8FD8F8"/>
<circle cx="476.4" cy="114.3" r="2.51" fill="#8FD8F8"/>
<circle cx="554.8" cy="69.2" r="2.51" fill="#8FD8F8"/>
<circle cx="117.9" cy="116.4" r="2.51" fill="#F0939B"/>
<circle cx="154.6" cy="87.3" r="2.51" fill="#8FD8F8"/>
<circle cx="459.3" cy="108.3" r="2.51" fill="#8FD8F8"/>
<circle cx="565.3" cy="68.8" r="2.51" fill="#82EC5A"/>
<circle cx="108.6" cy="118.2" r="2.50" fill="#CC99FF"/>
<circle cx="110.6" cy="103.4" r="2.50" fill="#8FD8F8"/>
<circle cx="504.3" cy="103.0" r="2.50" fill="#8FD8F8"/>
<circle cx="209.1" cy="43.8" r="2.50" fill="#8FD8F8"/>
<circle cx="179.1" cy="95.8" r="2.50" fill="#CC99FF"/>
<circle cx="256.1" cy="31.0" r="2.50" fill="#CC99FF"/>
<circle cx="244.8" cy="14.1" r="2.50" fill="#DAAA38"/>
<circle cx="110.5" cy="109.2" r="2.50" fill="#8FD8F8"/>
<circle cx="508.6" cy="89.7" r="2.50" fill="#F0939B"/>
<circle cx="312.4" cy="19.5" r="2.50" fill="#8FD8F8"/>
<circle cx="475.7" cy="118.7" r="2.49" fill="#8FD8F8"/>
<circle cx="561.4" cy="81.6" r="2.49" fill="#82EC5A"/>
<circle cx="558.2" cy="121.9" r="2.49" fill="#CC99FF"/>
<circle cx="165.9" cy="95.8" r="2.49" fill="#CC99FF"/>
<circle cx="502.6" cy="93.3" r="2.49" fill="#F0939B"/>
<circle cx="515.1" cy="108.2" r="2.49" fill="#82EC5A"/>
<circle cx="177.1" cy="72.9" r="2.49" fill="#8FD8F8"/>
<circle cx="510.8" cy="108.6" r="2.49" fill="#8FD8F8"/>
<circle cx="499.3" cy="100.5" r="2.48" fill="#8FD8F8"/>
<circle cx="157.5" cy="96.5" r="2.48" fill="#CC99FF"/>
<circle cx="131.9" cy="102.1" r="2.48" fill="#8FD8F8"/>
<circle cx="161.7" cy="107.2" r="2.48" fill="#CC99FF"/>
<circle cx="133.7" cy="86.9" r="2.48" fill="#8FD8F8"/>
<circle cx="165.3" cy="91.3" r="2.48" fill="#CC99FF"/>
<circle cx="446.4" cy="123.7" r="2.48" fill="#8FD8F8"/>
<circle cx="596.5" cy="55.8" r="2.48" fill="#82EC5A"/>
<circle cx="113.3" cy="118.8" r="2.48" fill="#8FD8F8"/>
<circle cx="181.2" cy="119.6" r="2.48" fill="#CC99FF"/>
<circle cx="107.3" cy="138.3" r="2.47" fill="#CC99FF"/>
<circle cx="137.5" cy="76.6" r="2.47" fill="#8FD8F8"/>
<circle cx="157.0" cy="93.3" r="2.47" fill="#8FD8F8"/>
<circle cx="510.5" cy="88.8" r="2.47" fill="#8FD8F8"/>
<circle cx="151.8" cy="112.2" r="2.47" fill="#CC99FF"/>
<circle cx="583.4" cy="79.6" r="2.47" fill="#82EC5A"/>
<circle cx="131.8" cy="76.4" r="2.47" fill="#DAAA38"/>
<circle cx="176.9" cy="90.0" r="2.47" fill="#CC99FF"/>
<circle cx="129.1" cy="97.2" r="2.46" fill="#F0939B"/>
<circle cx="143.0" cy="84.2" r="2.46" fill="#8FD8F8"/>
<circle cx="140.9" cy="106.0" r="2.46" fill="#8FD8F8"/>
<circle cx="165.1" cy="63.4" r="2.46" fill="#8FD8F8"/>
<circle cx="109.8" cy="116.9" r="2.46" fill="#DAAA38"/>
<circle cx="505.4" cy="93.4" r="2.46" fill="#8FD8F8"/>
<circle cx="107.9" cy="98.3" r="2.46" fill="#8FD8F8"/>
<circle cx="192.7" cy="77.8" r="2.46" fill="#8FD8F8"/>
<circle cx="102.3" cy="101.9" r="2.46" fill="#DAAA38"/>
<circle cx="554.7" cy="132.8" r="2.46" fill="#CC99FF"/>
<circle cx="106.8" cy="104.7" r="2.46" fill="#DAAA38"/>
<circle cx="561.1" cy="114.9" r="2.45" fill="#CC99FF"/>
<circle cx="529.5" cy="81.9" r="2.45" fill="#82EC5A"/>
<circle cx="454.6" cy="112.9" r="2.45" fill="#8FD8F8"/>
<circle cx="259.5" cy="43.9" r="2.45" fill="#CC99FF"/>
<circle cx="548.7" cy="79.6" r="2.45" fill="#82EC5A"/>
<circle cx="195.6" cy="97.2" r="2.44" fill="#CC99FF"/>
<circle cx="138.6" cy="104.7" r="2.44" fill="#8FD8F8"/>
<circle cx="450.7" cy="117.0" r="2.44" fill="#F0939B"/>
<circle cx="92.2" cy="122.2" r="2.44" fill="#8FD8F8"/>
<circle cx="148.9" cy="95.4" r="2.44" fill="#CC99FF"/>
<circle cx="292.7" cy="18.0" r="2.44" fill="#8FD8F8"/>
<circle cx="120.6" cy="127.0" r="2.44" fill="#CC99FF"/>
<circle cx="559.8" cy="91.9" r="2.44" fill="#82EC5A"/>
<circle cx="599.5" cy="108.9" r="2.44" fill="#CC99FF"/>
<circle cx="130.2" cy="97.3" r="2.44" fill="#8FD8F8"/>
<circle cx="160.4" cy="99.9" r="2.43" fill="#CC99FF"/>
<circle cx="538.4" cy="103.5" r="2.43" fill="#82EC5A"/>
<circle cx="608.0" cy="69.6" r="2.43" fill="#82EC5A"/>
<circle cx="138.7" cy="95.3" r="2.43" fill="#8FD8F8"/>
<circle cx="223.1" cy="49.7" r="2.43" fill="#8FD8F8"/>
<circle cx="562.3" cy="64.1" r="2.43" fill="#82EC5A"/>
<circle cx="540.6" cy="86.2" r="2.43" fill="#82EC5A"/>
<circle cx="107.3" cy="97.1" r="2.43" fill="#8FD8F8"/>
<circle cx="587.2" cy="97.1" r="2.43" fill="#CC99FF"/>
<circle cx="490.8" cy="108.8" r="2.42" fill="#8FD8F8"/>
<circle cx="102.8" cy="153.0" r="2.42" fill="#BBBBBB"/>
<circle cx="544.2" cy="90.2" r="2.42" fill="#82EC5A"/>
<circle cx="137.2" cy="114.6" r="2.42" fill="#8FD8F8"/>
<circle cx="308.2" cy="30.2" r="2.42" fill="#8FD8F8"/>
<circle cx="521.4" cy="74.1" r="2.42" fill="#8FD8F8"/>
<circle cx="599.9" cy="93.6" r="2.42" fill="#CC99FF"/>
<circle cx="518.7" cy="90.5" r="2.42" fill="#8FD8F8"/>
<circle cx="128.6" cy="107.6" r="2.42" fill="#8FD8F8"/>
<circle cx="151.5" cy="106.5" r="2.42" fill="#CC99FF"/>
<circle cx="122.9" cy="96.6" r="2.42" fill="#8FD8F8"/>
<circle cx="111.8" cy="108.8" r="2.42" fill="#DAAA38"/>
<circle cx="159.5" cy="81.9" r="2.42" fill="#8FD8F8"/>
<circle cx="183.2" cy="95.1" r="2.42" fill="#CC99FF"/>
<circle cx="574.5" cy="77.5" r="2.42" fill="#82EC5A"/>
<circle cx="522.4" cy="137.1" r="2.41" fill="#CC99FF"/>
<circle cx="152.7" cy="109.2" r="2.41" fill="#CC99FF"/>
<circle cx="534.6" cy="128.9" r="2.41" fill="#CC99FF"/>
<circle cx="166.3" cy="69.1" r="2.41" fill="#8FD8F8"/>
<circle cx="104.1" cy="112.3" r="2.41" fill="#8FD8F8"/>
<circle cx="167.6" cy="92.3" r="2.41" fill="#8FD8F8"/>
<circle cx="148.3" cy="143.0" r="2.41" fill="#BBBBBB"/>
<circle cx="118.3" cy="89.0" r="2.41" fill="#8FD8F8"/>
<circle cx="558.2" cy="69.1" r="2.40" fill="#8FD8F8"/>
<circle cx="167.6" cy="78.4" r="2.40" fill="#8FD8F8"/>
<circle cx="153.6" cy="103.3" r="2.40" fill="#8FD8F8"/>
<circle cx="556.9" cy="77.6" r="2.40" fill="#82EC5A"/>
<circle cx="514.0" cy="90.5" r="2.40" fill="#8FD8F8"/>
<circle cx="567.4" cy="85.1" r="2.40" fill="#82EC5A"/>
<circle cx="132.4" cy="88.5" r="2.40" fill="#8FD8F8"/>
<circle cx="501.2" cy="100.6" r="2.40" fill="#82EC5A"/>
<circle cx="539.4" cy="97.5" r="2.40" fill="#82EC5A"/>
<circle cx="179.7" cy="73.3" r="2.39" fill="#8FD8F8"/>
<circle cx="656.9" cy="46.7" r="2.39" fill="#F0939B"/>
<circle cx="484.6" cy="95.7" r="2.39" fill="#8FD8F8"/>
<circle cx="480.9" cy="119.0" r="2.39" fill="#F0939B"/>
<circle cx="126.8" cy="120.4" r="2.39" fill="#8FD8F8"/>
<circle cx="210.0" cy="49.4" r="2.39" fill="#8FD8F8"/>
<circle cx="580.2" cy="114.7" r="2.39" fill="#CC99FF"/>
<circle cx="253.6" cy="27.3" r="2.39" fill="#8FD8F8"/>
<circle cx="107.7" cy="143.7" r="2.39" fill="#BBBBBB"/>
<circle cx="136.6" cy="116.4" r="2.39" fill="#CC99FF"/>
<circle cx="241.5" cy="103.5" r="2.39" fill="#F0939B"/>
<circle cx="111.6" cy="124.4" r="2.39" fill="#CC99FF"/>
<circle cx="209.2" cy="83.1" r="2.38" fill="#CC99FF"/>
<circle cx="124.1" cy="123.4" r="2.38" fill="#8FD8F8"/>
<circle cx="575.6" cy="62.2" r="2.38" fill="#82EC5A"/>
<circle cx="458.7" cy="127.0" r="2.38" fill="#8FD8F8"/>
<circle cx="246.2" cy="101.7" r="2.37" fill="#8FD8F8"/>
<circle cx="252.1" cy="18.7" r="2.37" fill="#8FD8F8"/>
<circle cx="124.6" cy="124.5" r="2.37" fill="#8FD8F8"/>
<circle cx="297.3" cy="80.5" r="2.37" fill="#F0939B"/>
<circle cx="108.5" cy="93.1" r="2.37" fill="#8FD8F8"/>
<circle cx="296.5" cy="17.6" r="2.37" fill="#8FD8F8"/>
<circle cx="516.0" cy="83.9" r="2.36" fill="#F0939B"/>
<circle cx="564.4" cy="67.2" r="2.36" fill="#8FD8F8"/>
<circle cx="191.8" cy="71.0" r="2.36" fill="#8FD8F8"/>
<circle cx="593.8" cy="57.6" r="2.36" fill="#82EC5A"/>
<circle cx="484.2" cy="113.3" r="2.36" fill="#8FD8F8"/>
<circle cx="535.0" cy="134.0" r="2.36" fill="#CC99FF"/>
<circle cx="532.7" cy="75.5" r="2.36" fill="#8FD8F8"/>
<circle cx="136.3" cy="118.7" r="2.36" fill="#8FD8F8"/>
<circle cx="157.5" cy="99.2" r="2.36" fill="#8FD8F8"/>
<circle cx="539.0" cy="109.8" r="2.36" fill="#82EC5A"/>
<circle cx="559.0" cy="133.1" r="2.36" fill="#82EC5A"/>
<circle cx="122.9" cy="147.3" r="2.35" fill="#F0939B"/>
<circle cx="217.6" cy="55.1" r="2.35" fill="#8FD8F8"/>
<circle cx="533.2" cy="138.2" r="2.35" fill="#CC99FF"/>
<circle cx="109.8" cy="142.9" r="2.34" fill="#CC99FF"/>
<circle cx="128.7" cy="102.3" r="2.34" fill="#8FD8F8"/>
<circle cx="484.1" cy="106.4" r="2.34" fill="#8FD8F8"/>
<circle cx="154.3" cy="91.7" r="2.34" fill="#8FD8F8"/>
<circle cx="253.2" cy="29.2" r="2.34" fill="#8FD8F8"/>
<circle cx="443.3" cy="126.7" r="2.33" fill="#8FD8F8"/>
<circle cx="555.7" cy="69.5" r="2.33" fill="#82EC5A"/>
<circle cx="178.0" cy="86.5" r="2.33" fill="#8FD8F8"/>
<circle cx="570.9" cy="95.2" r="2.33" fill="#82EC5A"/>
<circle cx="128.5" cy="118.1" r="2.33" fill="#CC99FF"/>
<circle cx="618.1" cy="44.4" r="2.33" fill="#82EC5A"/>
<circle cx="108.5" cy="112.2" r="2.33" fill="#8FD8F8"/>
<circle cx="147.0" cy="96.3" r="2.33" fill="#8FD8F8"/>
<circle cx="532.7" cy="111.9" r="2.33" fill="#82EC5A"/>
<circle cx="478.7" cy="118.3" r="2.32" fill="#8FD8F8"/>
<circle cx="528.8" cy="85.9" r="2.32" fill="#8FD8F8"/>
<circle cx="128.3" cy="122.0" r="2.32" fill="#CC99FF"/>
<circle cx="106.6" cy="116.5" r="2.32" fill="#8FD8F8"/>
<circle cx="572.2" cy="46.6" r="2.31" fill="#8FD8F8"/>
<circle cx="111.3" cy="119.1" r="2.31" fill="#8FD8F8"/>
<circle cx="502.0" cy="92.0" r="2.31" fill="#F0939B"/>
<circle cx="580.6" cy="124.5" r="2.31" fill="#CC99FF"/>
<circle cx="127.7" cy="116.1" r="2.31" fill="#CC99FF"/>
<circle cx="220.9" cy="95.5" r="2.31" fill="#CC99FF"/>
<circle cx="147.8" cy="103.3" r="2.31" fill="#8FD8F8"/>
<circle cx="470.9" cy="114.4" r="2.31" fill="#8FD8F8"/>
<circle cx="513.9" cy="99.9" r="2.31" fill="#8FD8F8"/>
<circle cx="572.0" cy="88.9" r="2.31" fill="#82EC5A"/>
<circle cx="538.9" cy="72.3" r="2.31" fill="#8FD8F8"/>
<circle cx="197.7" cy="56.4" r="2.31" fill="#8FD8F8"/>
<circle cx="142.6" cy="87.1" r="2.30" fill="#8FD8F8"/>
<circle cx="443.0" cy="121.5" r="2.30" fill="#F0939B"/>
<circle cx="170.9" cy="95.2" r="2.30" fill="#CC99FF"/>
<circle cx="271.3" cy="29.2" r="2.30" fill="#CC99FF"/>
<circle cx="542.7" cy="105.4" r="2.29" fill="#82EC5A"/>
<circle cx="152.3" cy="82.0" r="2.29" fill="#8FD8F8"/>
<circle cx="502.0" cy="100.6" r="2.29" fill="#8FD8F8"/>
<circle cx="536.7" cy="141.5" r="2.29" fill="#CC99FF"/>
<circle cx="204.0" cy="52.5" r="2.29" fill="#8FD8F8"/>
<circle cx="571.2" cy="71.8" r="2.29" fill="#82EC5A"/>
<circle cx="487.6" cy="112.4" r="2.29" fill="#8FD8F8"/>
<circle cx="170.4" cy="85.7" r="2.29" fill="#8FD8F8"/>
<circle cx="209.4" cy="55.1" r="2.28" fill="#8FD8F8"/>
<circle cx="529.6" cy="148.1" r="2.28" fill="#CC99FF"/>
<circle cx="94.6" cy="131.1" r="2.28" fill="#CC99FF"/>
<circle cx="557.9" cy="125.1" r="2.28" fill="#82EC5A"/>
<circle cx="168.6" cy="81.7" r="2.28" fill="#8FD8F8"/>
<circle cx="170.9" cy="60.6" r="2.27" fill="#F0939B"/>
<circle cx="155.8" cy="95.0" r="2.27" fill="#8FD8F8"/>
<circle cx="145.7" cy="90.1" r="2.27" fill="#8FD8F8"/>
<circle cx="139.9" cy="92.7" r="2.27" fill="#8FD8F8"/>
<circle cx="645.6" cy="61.2" r="2.27" fill="#F0939B"/>
<circle cx="525.7" cy="106.7" r="2.27" fill="#F0939B"/>
<circle cx="494.9" cy="121.6" r="2.27" fill="#8FD8F8"/>
<circle cx="109.6" cy="108.3" r="2.27" fill="#8FD8F8"/>
<circle cx="130.9" cy="106.4" r="2.27" fill="#8FD8F8"/>
<circle cx="571.5" cy="107.3" r="2.27" fill="#CC99FF"/>
<circle cx="163.4" cy="70.5" r="2.26" fill="#8FD8F8"/>
<circle cx="151.4" cy="84.7" r="2.26" fill="#8FD8F8"/>
<circle cx="260.9" cy="71.0" r="2.26" fill="#BBBBBB"/>
<circle cx="549.4" cy="130.2" r="2.26" fill="#CC99FF"/>
<circle cx="122.8" cy="108.2" r="2.26" fill="#8FD8F8"/>
<circle cx="548.4" cy="89.8" r="2.26" fill="#82EC5A"/>
<circle cx="75.9" cy="108.8" r="2.25" fill="#DAAA38"/>
<circle cx="462.9" cy="125.5" r="2.25" fill="#8FD8F8"/>
<circle cx="132.5" cy="117.6" r="2.25" fill="#CC99FF"/>
<circle cx="548.0" cy="82.3" r="2.25" fill="#8FD8F8"/>
<circle cx="208.5" cy="76.7" r="2.25" fill="#8FD8F8"/>
<circle cx="565.7" cy="88.1" r="2.24" fill="#82EC5A"/>
<circle cx="454.3" cy="110.6" r="2.24" fill="#8FD8F8"/>
<circle cx="168.8" cy="134.5" r="2.24" fill="#BBBBBB"/>
<circle cx="122.8" cy="88.6" r="2.24" fill="#DAAA38"/>
<circle cx="496.6" cy="100.8" r="2.24" fill="#8FD8F8"/>
<circle cx="114.4" cy="102.9" r="2.24" fill="#8FD8F8"/>
<circle cx="466.9" cy="131.3" r="2.24" fill="#8FD8F8"/>
<circle cx="272.0" cy="20.7" r="2.24" fill="#8FD8F8"/>
<circle cx="543.0" cy="83.3" r="2.23" fill="#8FD8F8"/>
<circle cx="123.0" cy="98.0" r="2.23" fill="#8FD8F8"/>
<circle cx="154.0" cy="108.8" r="2.23" fill="#CC99FF"/>
<circle cx="173.2" cy="101.6" r="2.23" fill="#CC99FF"/>
<circle cx="157.5" cy="79.8" r="2.23" fill="#8FD8F8"/>
<circle cx="111.4" cy="103.4" r="2.23" fill="#CC99FF"/>
<circle cx="143.7" cy="115.2" r="2.23" fill="#CC99FF"/>
<circle cx="472.1" cy="121.9" r="2.23" fill="#8FD8F8"/>
<circle cx="109.5" cy="122.1" r="2.23" fill="#8FD8F8"/>
<circle cx="308.7" cy="34.0" r="2.22" fill="#8FD8F8"/>
<circle cx="238.9" cy="61.9" r="2.22" fill="#CC99FF"/>
<circle cx="151.1" cy="102.3" r="2.22" fill="#CC99FF"/>
<circle cx="134.0" cy="92.1" r="2.22" fill="#8FD8F8"/>
<circle cx="529.9" cy="98.2" r="2.22" fill="#8FD8F8"/>
<circle cx="81.5" cy="133.2" r="2.22" fill="#8FD8F8"/>
<circle cx="163.1" cy="66.6" r="2.21" fill="#8FD8F8"/>
<circle cx="629.4" cy="87.8" r="2.21" fill="#F0939B"/>
<circle cx="149.7" cy="105.9" r="2.21" fill="#CC99FF"/>
<circle cx="110.8" cy="116.1" r="2.21" fill="#8FD8F8"/>
<circle cx="106.0" cy="104.9" r="2.21" fill="#CC99FF"/>
<circle cx="618.4" cy="34.1" r="2.21" fill="#82EC5A"/>
<circle cx="526.5" cy="85.6" r="2.21" fill="#8FD8F8"/>
<circle cx="105.8" cy="108.8" r="2.21" fill="#DAAA38"/>
<circle cx="144.8" cy="113.5" r="2.21" fill="#CC99FF"/>
<circle cx="544.2" cy="85.3" r="2.21" fill="#82EC5A"/>
<circle cx="590.5" cy="34.5" r="2.21" fill="#8FD8F8"/>
<circle cx="87.8" cy="108.8" r="2.21" fill="#DAAA38"/>
<circle cx="499.9" cy="110.7" r="2.21" fill="#8FD8F8"/>
<circle cx="552.7" cy="97.7" r="2.21" fill="#8FD8F8"/>
<circle cx="77.8" cy="125.0" r="2.21" fill="#DAAA38"/>
<circle cx="177.8" cy="74.9" r="2.20" fill="#8FD8F8"/>
<circle cx="135.3" cy="125.1" r="2.20" fill="#CC99FF"/>
<circle cx="126.8" cy="117.8" r="2.20" fill="#CC99FF"/>
<circle cx="130.8" cy="104.7" r="2.20" fill="#DAAA38"/>
<circle cx="497.1" cy="100.0" r="2.20" fill="#8FD8F8"/>
<circle cx="432.4" cy="132.0" r="2.20" fill="#8FD8F8"/>
<circle cx="491.9" cy="102.1" r="2.20" fill="#8FD8F8"/>
<circle cx="563.7" cy="67.7" r="2.20" fill="#82EC5A"/>
<circle cx="513.8" cy="115.8" r="2.20" fill="#82EC5A"/>
<circle cx="126.5" cy="95.6" r="2.20" fill="#8FD8F8"/>
<circle cx="136.2" cy="140.1" r="2.19" fill="#BBBBBB"/>
<circle cx="525.8" cy="85.2" r="2.19" fill="#8FD8F8"/>
<circle cx="535.7" cy="83.0" r="2.19" fill="#82EC5A"/>
<circle cx="505.7" cy="84.3" r="2.19" fill="#8FD8F8"/>
<circle cx="178.9" cy="57.6" r="2.19" fill="#8FD8F8"/>
<circle cx="182.4" cy="115.1" r="2.19" fill="#F0939B"/>
<circle cx="451.3" cy="115.9" r="2.19" fill="#8FD8F8"/>
<circle cx="552.9" cy="70.3" r="2.19" fill="#82EC5A"/>
<circle cx="222.8" cy="23.8" r="2.19" fill="#DAAA38"/>
<circle cx="74.8" cy="150.4" r="2.19" fill="#F0939B"/>
<circle cx="521.0" cy="97.4" r="2.19" fill="#8FD8F8"/>
<circle cx="179.1" cy="96.4" r="2.19" fill="#CC99FF"/>
<circle cx="174.0" cy="78.6" r="2.19" fill="#8FD8F8"/>
<circle cx="100.3" cy="141.2" r="2.19" fill="#CC99FF"/>
<circle cx="185.6" cy="65.1" r="2.19" fill="#8FD8F8"/>
<circle cx="661.7" cy="34.7" r="2.18" fill="#8FD8F8"/>
<circle cx="141.3" cy="107.8" r="2.18" fill="#8FD8F8"/>
<circle cx="115.2" cy="139.6" r="2.18" fill="#CC99FF"/>
<circle cx="533.2" cy="82.7" r="2.18" fill="#8FD8F8"/>
<circle cx="151.3" cy="90.2" r="2.18" fill="#8FD8F8"/>
<circle cx="92.4" cy="116.4" r="2.18" fill="#8FD8F8"/>
<circle cx="184.5" cy="103.4" r="2.18" fill="#CC99FF"/>
<circle cx="565.0" cy="48.7" r="2.18" fill="#8FD8F8"/>
<circle cx="202.6" cy="57.9" r="2.18" fill="#8FD8F8"/>
<circle cx="554.3" cy="65.5" r="2.17" fill="#8FD8F8"/>
<circle cx="541.0" cy="103.4" r="2.17" fill="#82EC5A"/>
<circle cx="144.4" cy="92.7" r="2.17" fill="#8FD8F8"/>
<circle cx="174.2" cy="110.0" r="2.17" fill="#F0939B"/>
<circle cx="129.7" cy="115.6" r="2.17" fill="#8FD8F8"/>
<circle cx="177.9" cy="89.5" r="2.17" fill="#8FD8F8"/>
<circle cx="97.2" cy="117.4" r="2.17" fill="#8FD8F8"/>
<circle cx="138.0" cy="99.4" r="2.17" fill="#8FD8F8"/>
<circle cx="501.8" cy="143.5" r="2.17" fill="#82EC5A"/>
<circle cx="115.6" cy="102.8" r="2.17" fill="#8FD8F8"/>
<circle cx="83.8" cy="125.0" r="2.17" fill="#DAAA38"/>
<circle cx="130.7" cy="96.0" r="2.17" fill="#8FD8F8"/>
<circle cx="429.2" cy="128.9" r="2.17" fill="#F0939B"/>
<circle cx="566.6" cy="71.3" r="2.17" fill="#82EC5A"/>
<circle cx="114.8" cy="106.4" r="2.16" fill="#8FD8F8"/>
<circle cx="546.4" cy="92.3" r="2.16" fill="#82EC5A"/>
<circle cx="142.2" cy="85.8" r="2.16" fill="#8FD8F8"/>
<circle cx="577.1" cy="40.4" r="2.16" fill="#8FD8F8"/>
<circle cx="122.2" cy="149.3" r="2.16" fill="#F0939B"/>
<circle cx="471.0" cy="140.7" r="2.16" fill="#82EC5A"/>
<circle cx="503.9" cy="116.1" r="2.16" fill="#8FD8F8"/>
<circle cx="514.1" cy="87.3" r="2.16" fill="#8FD8F8"/>
<circle cx="103.0" cy="118.3" r="2.16" fill="#8FD8F8"/>
<circle cx="188.3" cy="74.4" r="2.16" fill="#8FD8F8"/>
<circle cx="136.1" cy="98.1" r="2.16" fill="#8FD8F8"/>
<circle cx="126.9" cy="91.5" r="2.16" fill="#8FD8F8"/>
<circle cx="149.4" cy="72.7" r="2.16" fill="#8FD8F8"/>
<circle cx="467.1" cy="118.6" r="2.16" fill="#8FD8F8"/>
<circle cx="141.4" cy="125.3" r="2.16" fill="#F0939B"/>
<circle cx="107.0" cy="125.2" r="2.16" fill="#CC99FF"/>
<circle cx="118.3" cy="85.7" r="2.16" fill="#DAAA38"/>
<circle cx="532.3" cy="74.7" r="2.15" fill="#82EC5A"/>
<circle cx="160.3" cy="67.4" r="2.15" fill="#8FD8F8"/>
<circle cx="597.1" cy="98.8" r="2.15" fill="#CC99FF"/>
<circle cx="135.3" cy="128.4" r="2.15" fill="#CC99FF"/>
<circle cx="199.4" cy="45.6" r="2.15" fill="#8FD8F8"/>
<circle cx="87.2" cy="123.2" r="2.15" fill="#8FD8F8"/>
<circle cx="552.0" cy="111.5" r="2.15" fill="#CC99FF"/>
<circle cx="523.7" cy="101.5" r="2.15" fill="#82EC5A"/>
<circle cx="115.9" cy="112.7" r="2.15" fill="#8FD8F8"/>
<circle cx="554.5" cy="124.4" r="2.15" fill="#CC99FF"/>
<circle cx="533.1" cy="78.1" r="2.15" fill="#8FD8F8"/>
<circle cx="529.9" cy="112.8" r="2.15" fill="#82EC5A"/>
<circle cx="154.2" cy="96.2" r="2.15" fill="#8FD8F8"/>
<circle cx="583.4" cy="53.1" r="2.14" fill="#82EC5A"/>
<circle cx="568.4" cy="120.4" r="2.14" fill="#CC99FF"/>
<circle cx="85.3" cy="122.2" r="2.14" fill="#DAAA38"/>
<circle cx="167.8" cy="63.6" r="2.14" fill="#8FD8F8"/>
<circle cx="220.0" cy="46.0" r="2.14" fill="#8FD8F8"/>
<circle cx="109.3" cy="97.9" r="2.14" fill="#DAAA38"/>
<circle cx="257.3" cy="61.9" r="2.14" fill="#CC99FF"/>
<circle cx="125.4" cy="102.8" r="2.14" fill="#8FD8F8"/>
<circle cx="116.8" cy="112.8" r="2.14" fill="#DAAA38"/>
<circle cx="574.2" cy="44.4" r="2.14" fill="#8FD8F8"/>
<circle cx="86.9" cy="118.5" r="2.14" fill="#8FD8F8"/>
<circle cx="548.4" cy="79.8" r="2.14" fill="#8FD8F8"/>
<circle cx="138.0" cy="108.3" r="2.14" fill="#8FD8F8"/>
<circle cx="596.0" cy="73.0" r="2.14" fill="#82EC5A"/>
<circle cx="115.6" cy="127.5" r="2.14" fill="#CC99FF"/>
<circle cx="460.0" cy="143.7" r="2.14" fill="#8FD8F8"/>
<circle cx="110.8" cy="112.8" r="2.14" fill="#DAAA38"/>
<circle cx="119.2" cy="91.8" r="2.14" fill="#8FD8F8"/>
<circle cx="287.4" cy="59.5" r="2.14" fill="#CC99FF"/>
<circle cx="274.0" cy="27.3" r="2.14" fill="#8FD8F8"/>
<circle cx="119.4" cy="86.3" r="2.14" fill="#8FD8F8"/>
<circle cx="570.3" cy="131.4" r="2.14" fill="#CC99FF"/>
<circle cx="154.1" cy="106.9" r="2.14" fill="#CC99FF"/>
<circle cx="532.3" cy="84.6" r="2.14" fill="#8FD8F8"/>
<circle cx="105.2" cy="95.0" r="2.14" fill="#8FD8F8"/>
<circle cx="188.3" cy="45.2" r="2.14" fill="#DAAA38"/>
<circle cx="158.4" cy="108.3" r="2.13" fill="#CC99FF"/>
<circle cx="563.9" cy="68.6" r="2.13" fill="#82EC5A"/>
<circle cx="193.8" cy="44.0" r="2.13" fill="#DAAA38"/>
<circle cx="170.3" cy="67.7" r="2.13" fill="#8FD8F8"/>
<circle cx="124.0" cy="95.9" r="2.13" fill="#8FD8F8"/>
<circle cx="478.6" cy="115.9" r="2.13" fill="#8FD8F8"/>
<circle cx="519.9" cy="100.5" r="2.13" fill="#8FD8F8"/>
<circle cx="514.0" cy="100.7" r="2.13" fill="#8FD8F8"/>
<circle cx="120.5" cy="103.4" r="2.13" fill="#8FD8F8"/>
<circle cx="450.4" cy="137.0" r="2.13" fill="#8FD8F8"/>
<circle cx="192.2" cy="83.1" r="2.13" fill="#8FD8F8"/>
<circle cx="184.4" cy="60.7" r="2.13" fill="#8FD8F8"/>
<circle cx="166.8" cy="56.2" r="2.13" fill="#DAAA38"/>
<circle cx="162.6" cy="114.4" r="2.13" fill="#8FD8F8"/>
<circle cx="497.1" cy="147.0" r="2.13" fill="#82EC5A"/>
<circle cx="533.9" cy="116.2" r="2.13" fill="#F0939B"/>
<circle cx="415.8" cy="135.9" r="2.13" fill="#F0939B"/>
<circle cx="114.8" cy="103.2" r="2.13" fill="#DAAA38"/>
<circle cx="121.5" cy="105.6" r="2.13" fill="#8FD8F8"/>
<circle cx="148.7" cy="119.5" r="2.13" fill="#CC99FF"/>
<circle cx="508.1" cy="97.9" r="2.12" fill="#82EC5A"/>
<circle cx="207.2" cy="50.5" r="2.12" fill="#8FD8F8"/>
<circle cx="533.1" cy="76.0" r="2.12" fill="#82EC5A"/>
<circle cx="147.7" cy="111.7" r="2.12" fill="#8FD8F8"/>
<circle cx="128.2" cy="93.6" r="2.12" fill="#8FD8F8"/>
<circle cx="169.8" cy="104.9" r="2.12" fill="#CC99FF"/>
<circle cx="183.9" cy="71.8" r="2.12" fill="#8FD8F8"/>
<circle cx="126.7" cy="112.5" r="2.12" fill="#8FD8F8"/>
<circle cx="538.1" cy="72.5" r="2.12" fill="#82EC5A"/>
<circle cx="502.6" cy="102.4" r="2.12" fill="#8FD8F8"/>
<circle cx="234.5" cy="73.8" r="2.12" fill="#CC99FF"/>
<circle cx="140.7" cy="110.7" r="2.12" fill="#8FD8F8"/>
<circle cx="141.0" cy="140.5" r="2.12" fill="#CC99FF"/>
<circle cx="161.9" cy="101.2" r="2.12" fill="#F0939B"/>
<circle cx="112.5" cy="104.2" r="2.11" fill="#8FD8F8"/>
<circle cx="624.3" cy="85.5" r="2.11" fill="#CC99FF"/>
<circle cx="192.8" cy="50.2" r="2.11" fill="#8FD8F8"/>
<circle cx="173.5" cy="79.6" r="2.11" fill="#8FD8F8"/>
<circle cx="238.6" cy="92.5" r="2.11" fill="#CC99FF"/>
<circle cx="196.6" cy="55.6" r="2.11" fill="#8FD8F8"/>
<circle cx="515.1" cy="86.4" r="2.11" fill="#8FD8F8"/>
<circle cx="491.8" cy="115.8" r="2.11" fill="#82EC5A"/>
<circle cx="561.9" cy="70.0" r="2.11" fill="#8FD8F8"/>
<circle cx="505.1" cy="111.9" r="2.11" fill="#82EC5A"/>
<circle cx="490.1" cy="104.1" r="2.11" fill="#8FD8F8"/>
<circle cx="542.7" cy="89.5" r="2.11" fill="#82EC5A"/>
<circle cx="187.1" cy="57.9" r="2.10" fill="#8FD8F8"/>
<circle cx="154.1" cy="90.6" r="2.10" fill="#8FD8F8"/>
<circle cx="87.1" cy="137.7" r="2.10" fill="#8FD8F8"/>
<circle cx="599.1" cy="40.8" r="2.10" fill="#8FD8F8"/>
<circle cx="126.3" cy="101.9" r="2.10" fill="#DAAA38"/>
<circle cx="486.8" cy="113.3" r="2.10" fill="#8FD8F8"/>
<circle cx="182.3" cy="53.5" r="2.10" fill="#8FD8F8"/>
<circle cx="214.1" cy="35.7" r="2.10" fill="#8FD8F8"/>
<circle cx="208.9" cy="56.7" r="2.10" fill="#8FD8F8"/>
<circle cx="461.6" cy="136.0" r="2.10" fill="#8FD8F8"/>
<circle cx="594.3" cy="86.6" r="2.09" fill="#CC99FF"/>
<circle cx="164.2" cy="106.8" r="2.09" fill="#8FD8F8"/>
<circle cx="174.5" cy="60.4" r="2.09" fill="#8FD8F8"/>
<circle cx="623.5" cy="54.5" r="2.09" fill="#82EC5A"/>
<circle cx="162.8" cy="119.4" r="2.09" fill="#F0939B"/>
<circle cx="185.2" cy="60.6" r="2.09" fill="#8FD8F8"/>
<circle cx="609.0" cy="37.5" r="2.09" fill="#F0939B"/>
<circle cx="221.8" cy="53.3" r="2.09" fill="#8FD8F8"/>
<circle cx="293.8" cy="46.4" r="2.09" fill="#8FD8F8"/>
<circle cx="121.5" cy="146.8" r="2.09" fill="#CC99FF"/>
<circle cx="161.5" cy="118.2" r="2.09" fill="#CC99FF"/>
<circle cx="512.4" cy="129.0" r="2.08" fill="#82EC5A"/>
<circle cx="139.3" cy="115.0" r="2.08" fill="#CC99FF"/>
<circle cx="140.3" cy="104.1" r="2.08" fill="#8FD8F8"/>
<circle cx="102.6" cy="103.4" r="2.08" fill="#8FD8F8"/>
<circle cx="269.3" cy="22.1" r="2.08" fill="#BBBBBB"/>
<circle cx="200.0" cy="58.9" r="2.08" fill="#8FD8F8"/>
<circle cx="132.0" cy="118.9" r="2.08" fill="#CC99FF"/>
<circle cx="530.2" cy="70.5" r="2.08" fill="#8FD8F8"/>
<circle cx="486.0" cy="101.6" r="2.08" fill="#8FD8F8"/>
<circle cx="120.7" cy="139.7" r="2.08" fill="#CC99FF"/>
<circle cx="140.1" cy="122.1" r="2.08" fill="#8FD8F8"/>
<circle cx="73.8" cy="116.9" r="2.08" fill="#DAAA38"/>
<circle cx="156.1" cy="99.6" r="2.08" fill="#F0939B"/>
<circle cx="204.3" cy="96.3" r="2.08" fill="#CC99FF"/>
<circle cx="507.7" cy="105.7" r="2.08" fill="#8FD8F8"/>
<circle cx="171.8" cy="60.2" r="2.08" fill="#DAAA38"/>
<circle cx="139.8" cy="91.6" r="2.07" fill="#8FD8F8"/>
<circle cx="191.8" cy="82.4" r="2.07" fill="#CC99FF"/>
<circle cx="517.2" cy="83.9" r="2.07" fill="#8FD8F8"/>
<circle cx="478.9" cy="113.7" r="2.07" fill="#8FD8F8"/>
<circle cx="100.3" cy="110.0" r="2.07" fill="#DAAA38"/>
<circle cx="457.5" cy="131.0" r="2.07" fill="#8FD8F8"/>
<circle cx="515.1" cy="125.9" r="2.07" fill="#82EC5A"/>
<circle cx="446.2" cy="129.5" r="2.07" fill="#8FD8F8"/>
<circle cx="186.9" cy="68.2" r="2.07" fill="#8FD8F8"/>
<circle cx="123.3" cy="111.5" r="2.07" fill="#8FD8F8"/>
<circle cx="137.3" cy="94.9" r="2.07" fill="#8FD8F8"/>
<circle cx="494.2" cy="126.4" r="2.07" fill="#82EC5A"/>
<circle cx="514.8" cy="107.2" r="2.07" fill="#82EC5A"/>
<circle cx="103.3" cy="102.5" r="2.07" fill="#8FD8F8"/>
<circle cx="205.6" cy="64.0" r="2.07" fill="#8FD8F8"/>
<circle cx="592.0" cy="76.1" r="2.06" fill="#82EC5A"/>
<circle cx="505.4" cy="125.8" r="2.06" fill="#82EC5A"/>
<circle cx="94.7" cy="149.8" r="2.06" fill="#BBBBBB"/>
<circle cx="164.6" cy="67.2" r="2.06" fill="#8FD8F8"/>
<circle cx="206.4" cy="45.4" r="2.06" fill="#8FD8F8"/>
<circle cx="510.6" cy="97.3" r="2.06" fill="#8FD8F8"/>
<circle cx="513.7" cy="101.1" r="2.06" fill="#82EC5A"/>
<circle cx="101.3" cy="130.0" r="2.06" fill="#CC99FF"/>
<circle cx="173.5" cy="69.1" r="2.06" fill="#8FD8F8"/>
<circle cx="111.9" cy="134.4" r="2.06" fill="#CC99FF"/>
<circle cx="500.6" cy="131.1" r="2.06" fill="#82EC5A"/>
<circle cx="254.5" cy="26.9" r="2.06" fill="#8FD8F8"/>
<circle cx="153.3" cy="108.6" r="2.05" fill="#8FD8F8"/>
<circle cx="116.9" cy="95.0" r="2.05" fill="#8FD8F8"/>
<circle cx="563.0" cy="66.6" r="2.05" fill="#8FD8F8"/>
<circle cx="74.9" cy="112.8" r="2.05" fill="#DAAA38"/>
<circle cx="298.4" cy="30.2" r="2.05" fill="#8FD8F8"/>
<circle cx="114.8" cy="96.7" r="2.05" fill="#DAAA38"/>
<circle cx="124.5" cy="145.1" r="2.05" fill="#BBBBBB"/>
<circle cx="551.8" cy="74.8" r="2.05" fill="#8FD8F8"/>
<circle cx="184.1" cy="80.9" r="2.05" fill="#F0939B"/>
<circle cx="556.3" cy="75.9" r="2.05" fill="#8FD8F8"/>
<circle cx="119.9" cy="121.9" r="2.05" fill="#F0939B"/>
<circle cx="459.7" cy="120.6" r="2.05" fill="#8FD8F8"/>
<circle cx="488.7" cy="117.1" r="2.04" fill="#8FD8F8"/>
<circle cx="516.0" cy="132.9" r="2.04" fill="#CC99FF"/>
<circle cx="490.5" cy="131.4" r="2.04" fill="#82EC5A"/>
<circle cx="122.1" cy="136.7" r="2.04" fill="#F0939B"/>
<circle cx="115.6" cy="123.5" r="2.04" fill="#CC99FF"/>
<circle cx="98.3" cy="118.1" r="2.04" fill="#DAAA38"/>
<circle cx="125.9" cy="96.0" r="2.04" fill="#8FD8F8"/>
<circle cx="501.2" cy="112.7" r="2.04" fill="#8FD8F8"/>
<circle cx="131.3" cy="106.0" r="2.04" fill="#DAAA38"/>
<circle cx="602.9" cy="100.7" r="2.04" fill="#CC99FF"/>
<circle cx="587.2" cy="131.3" r="2.04" fill="#CC99FF"/>
<circle cx="516.2" cy="75.2" r="2.04" fill="#8FD8F8"/>
<circle cx="546.2" cy="113.9" r="2.04" fill="#82EC5A"/>
<circle cx="108.6" cy="146.1" r="2.04" fill="#BBBBBB"/>
<circle cx="156.4" cy="109.5" r="2.04" fill="#8FD8F8"/>
<circle cx="131.9" cy="129.8" r="2.04" fill="#CC99FF"/>
<circle cx="311.9" cy="28.5" r="2.03" fill="#8FD8F8"/>
<circle cx="139.6" cy="93.3" r="2.03" fill="#8FD8F8"/>
<circle cx="519.6" cy="96.4" r="2.03" fill="#8FD8F8"/>
<circle cx="105.7" cy="112.5" r="2.03" fill="#8FD8F8"/>
<circle cx="104.4" cy="125.5" r="2.03" fill="#CC99FF"/>
<circle cx="511.9" cy="99.3" r="2.03" fill="#8FD8F8"/>
<circle cx="532.3" cy="144.7" r="2.03" fill="#CC99FF"/>
<circle cx="440.5" cy="127.3" r="2.03" fill="#8FD8F8"/>
<circle cx="517.6" cy="115.8" r="2.03" fill="#82EC5A"/>
<circle cx="132.4" cy="136.1" r="2.03" fill="#F0939B"/>
<circle cx="235.2" cy="42.1" r="2.03" fill="#8FD8F8"/>
<circle cx="185.8" cy="52.1" r="2.03" fill="#DAAA38"/>
<circle cx="298.0" cy="52.1" r="2.03" fill="#BBBBBB"/>
<circle cx="130.4" cy="121.1" r="2.03" fill="#CC99FF"/>
<circle cx="119.0" cy="110.4" r="2.03" fill="#8FD8F8"/>
<circle cx="123.9" cy="109.0" r="2.03" fill="#8FD8F8"/>
<circle cx="161.6" cy="99.5" r="2.03" fill="#8FD8F8"/>
<circle cx="208.3" cy="37.2" r="2.03" fill="#DAAA38"/>
<circle cx="523.4" cy="105.5" r="2.02" fill="#82EC5A"/>
<circle cx="480.1" cy="101.7" r="2.02" fill="#8FD8F8"/>
<circle cx="502.6" cy="83.2" r="2.02" fill="#F0939B"/>
<circle cx="104.8" cy="119.1" r="2.02" fill="#8FD8F8"/>
<circle cx="113.8" cy="94.5" r="2.02" fill="#8FD8F8"/>
<circle cx="530.2" cy="104.2" r="2.02" fill="#82EC5A"/>
<circle cx="194.2" cy="70.5" r="2.02" fill="#8FD8F8"/>
<circle cx="194.3" cy="53.3" r="2.02" fill="#8FD8F8"/>
<circle cx="522.7" cy="76.9" r="2.02" fill="#8FD8F8"/>
<circle cx="565.1" cy="72.1" r="2.02" fill="#82EC5A"/>
<circle cx="212.9" cy="50.9" r="2.02" fill="#8FD8F8"/>
<circle cx="137.8" cy="97.2" r="2.02" fill="#8FD8F8"/>
<circle cx="110.8" cy="95.1" r="2.02" fill="#DAAA38"/>
<circle cx="188.6" cy="87.3" r="2.01" fill="#8FD8F8"/>
<circle cx="161.7" cy="87.0" r="2.01" fill="#8FD8F8"/>
<circle cx="464.4" cy="108.8" r="2.01" fill="#8FD8F8"/>
<circle cx="205.9" cy="62.5" r="2.01" fill="#8FD8F8"/>
<circle cx="532.2" cy="77.2" r="2.01" fill="#8FD8F8"/>
<circle cx="207.1" cy="70.5" r="2.01" fill="#8FD8F8"/>
<circle cx="151.0" cy="134.4" r="2.01" fill="#CC99FF"/>
<circle cx="502.0" cy="110.1" r="2.01" fill="#82EC5A"/>
<circle cx="496.2" cy="102.8" r="2.01" fill="#8FD8F8"/>
<circle cx="136.5" cy="106.8" r="2.01" fill="#8FD8F8"/>
<circle cx="507.0" cy="81.3" r="2.01" fill="#F0939B"/>
<circle cx="473.1" cy="107.2" r="2.01" fill="#8FD8F8"/>
<circle cx="534.7" cy="104.3" r="2.01" fill="#82EC5A"/>
<circle cx="528.6" cy="92.3" r="2.01" fill="#82EC5A"/>
<circle cx="256.2" cy="28.9" r="2.01" fill="#8FD8F8"/>
<circle cx="103.3" cy="102.8" r="2.01" fill="#8FD8F8"/>
<circle cx="556.3" cy="66.8" r="2.00" fill="#82EC5A"/>
<circle cx="147.1" cy="102.6" r="2.00" fill="#CC99FF"/>
<circle cx="100.1" cy="117.7" r="2.00" fill="#8FD8F8"/>
<circle cx="143.3" cy="121.9" r="2.00" fill="#CC99FF"/>
<circle cx="247.3" cy="90.1" r="2.00" fill="#CC99FF"/>
<circle cx="497.3" cy="100.7" r="2.00" fill="#8FD8F8"/>
<circle cx="634.8" cy="51.0" r="2.00" fill="#F0939B"/>
<circle cx="95.3" cy="106.0" r="2.00" fill="#DAAA38"/>
<circle cx="548.9" cy="67.0" r="2.00" fill="#8FD8F8"/>
<circle cx="116.0" cy="129.9" r="2.00" fill="#8FD8F8"/>
<circle cx="524.1" cy="115.2" r="2.00" fill="#82EC5A"/>
<circle cx="227.9" cy="43.6" r="2.00" fill="#8FD8F8"/>
<circle cx="165.2" cy="82.3" r="2.00" fill="#8FD8F8"/>
<circle cx="519.0" cy="96.7" r="2.00" fill="#8FD8F8"/>
<circle cx="76.8" cy="129.0" r="2.00" fill="#DAAA38"/>
<circle cx="154.7" cy="91.5" r="2.00" fill="#8FD8F8"/>
<circle cx="128.8" cy="88.6" r="2.00" fill="#DAAA38"/>
<circle cx="568.3" cy="143.5" r="2.00" fill="#CC99FF"/>
<circle cx="156.2" cy="75.0" r="2.00" fill="#8FD8F8"/>
<circle cx="182.3" cy="70.1" r="1.99" fill="#8FD8F8"/>
<circle cx="552.9" cy="77.0" r="1.99" fill="#8FD8F8"/>
<circle cx="451.5" cy="126.6" r="1.99" fill="#8FD8F8"/>
<circle cx="513.9" cy="84.7" r="1.99" fill="#F0939B"/>
<circle cx="506.9" cy="89.2" r="1.99" fill="#8FD8F8"/>
<circle cx="129.8" cy="84.5" r="1.99" fill="#DAAA38"/>
<circle cx="617.7" cy="18.4" r="1.99" fill="#8FD8F8"/>
<circle cx="526.0" cy="102.1" r="1.99" fill="#8FD8F8"/>
<circle cx="537.4" cy="115.9" r="1.99" fill="#CC99FF"/>
<circle cx="118.4" cy="104.5" r="1.99" fill="#CC99FF"/>
<circle cx="579.7" cy="129.1" r="1.99" fill="#CC99FF"/>
<circle cx="548.5" cy="78.7" r="1.99" fill="#8FD8F8"/>
<circle cx="570.6" cy="117.2" r="1.99" fill="#CC99FF"/>
<circle cx="235.4" cy="65.6" r="1.99" fill="#8FD8F8"/>
<circle cx="135.4" cy="91.4" r="1.98" fill="#8FD8F8"/>
<circle cx="118.5" cy="131.6" r="1.98" fill="#CC99FF"/>
<circle cx="570.8" cy="84.6" r="1.98" fill="#82EC5A"/>
<circle cx="103.8" cy="99.1" r="1.98" fill="#DAAA38"/>
<circle cx="133.5" cy="105.8" r="1.98" fill="#8FD8F8"/>
<circle cx="107.8" cy="107.2" r="1.98" fill="#DAAA38"/>
<circle cx="151.9" cy="118.2" r="1.98" fill="#CC99FF"/>
<circle cx="134.3" cy="117.6" r="1.98" fill="#8FD8F8"/>
<circle cx="142.9" cy="106.4" r="1.98" fill="#CC99FF"/>
<circle cx="575.8" cy="84.9" r="1.98" fill="#82EC5A"/>
<circle cx="148.4" cy="115.9" r="1.98" fill="#CC99FF"/>
<circle cx="193.1" cy="65.4" r="1.98" fill="#8FD8F8"/>
<circle cx="113.8" cy="107.2" r="1.97" fill="#DAAA38"/>
<circle cx="552.7" cy="123.1" r="1.97" fill="#CC99FF"/>
<circle cx="128.3" cy="93.8" r="1.97" fill="#DAAA38"/>
<circle cx="118.2" cy="98.2" r="1.97" fill="#8FD8F8"/>
<circle cx="515.5" cy="97.8" r="1.97" fill="#8FD8F8"/>
<circle cx="118.8" cy="114.6" r="1.97" fill="#CC99FF"/>
<circle cx="505.0" cy="96.5" r="1.97" fill="#8FD8F8"/>
<circle cx="269.9" cy="49.0" r="1.97" fill="#8FD8F8"/>
<circle cx="207.9" cy="47.8" r="1.97" fill="#8FD8F8"/>
<circle cx="184.7" cy="56.0" r="1.97" fill="#8FD8F8"/>
<circle cx="103.0" cy="127.2" r="1.97" fill="#8FD8F8"/>
<circle cx="464.8" cy="126.4" r="1.97" fill="#8FD8F8"/>
<circle cx="595.9" cy="110.7" r="1.97" fill="#CC99FF"/>
<circle cx="520.5" cy="96.1" r="1.97" fill="#8FD8F8"/>
<circle cx="548.4" cy="71.9" r="1.96" fill="#82EC5A"/>
<circle cx="545.3" cy="90.0" r="1.96" fill="#82EC5A"/>
<circle cx="86.1" cy="152.0" r="1.96" fill="#BBBBBB"/>
<circle cx="462.2" cy="133.3" r="1.96" fill="#8FD8F8"/>
<circle cx="170.5" cy="86.5" r="1.96" fill="#CC99FF"/>
<circle cx="529.4" cy="94.5" r="1.96" fill="#82EC5A"/>
<circle cx="631.7" cy="51.9" r="1.96" fill="#8FD8F8"/>
<circle cx="641.4" cy="37.1" r="1.96" fill="#F0939B"/>
<circle cx="532.7" cy="91.9" r="1.96" fill="#8FD8F8"/>
<circle cx="88.3" cy="110.0" r="1.96" fill="#DAAA38"/>
<circle cx="467.3" cy="108.3" r="1.96" fill="#8FD8F8"/>
<circle cx="483.0" cy="109.6" r="1.96" fill="#8FD8F8"/>
<circle cx="88.4" cy="126.9" r="1.96" fill="#8FD8F8"/>
<circle cx="453.7" cy="129.8" r="1.96" fill="#8FD8F8"/>
<circle cx="513.5" cy="85.6" r="1.96" fill="#8FD8F8"/>
<circle cx="159.5" cy="92.0" r="1.96" fill="#8FD8F8"/>
<circle cx="479.7" cy="116.4" r="1.95" fill="#8FD8F8"/>
<circle cx="501.5" cy="95.4" r="1.95" fill="#F0939B"/>
<circle cx="568.5" cy="59.4" r="1.95" fill="#8FD8F8"/>
<circle cx="120.8" cy="125.1" r="1.95" fill="#CC99FF"/>
<circle cx="533.1" cy="81.4" r="1.95" fill="#F0939B"/>
<circle cx="157.0" cy="97.3" r="1.95" fill="#8FD8F8"/>
<circle cx="93.7" cy="129.8" r="1.95" fill="#CC99FF"/>
<circle cx="124.3" cy="110.0" r="1.95" fill="#DAAA38"/>
<circle cx="492.4" cy="106.5" r="1.95" fill="#8FD8F8"/>
<circle cx="176.3" cy="81.6" r="1.95" fill="#8FD8F8"/>
<circle cx="206.8" cy="65.7" r="1.95" fill="#8FD8F8"/>
<circle cx="494.0" cy="118.0" r="1.95" fill="#8FD8F8"/>
<circle cx="279.2" cy="27.9" r="1.95" fill="#8FD8F8"/>
<circle cx="538.8" cy="70.1" r="1.95" fill="#8FD8F8"/>
<circle cx="118.0" cy="118.1" r="1.95" fill="#CC99FF"/>
<circle cx="535.5" cy="133.6" r="1.94" fill="#CC99FF"/>
<circle cx="165.7" cy="91.4" r="1.94" fill="#F0939B"/>
<circle cx="320.6" cy="34.6" r="1.94" fill="#8FD8F8"/>
<circle cx="162.7" cy="118.3" r="1.94" fill="#CC99FF"/>
<circle cx="139.8" cy="112.3" r="1.94" fill="#CC99FF"/>
<circle cx="221.8" cy="76.7" r="1.94" fill="#CC99FF"/>
<circle cx="519.4" cy="127.0" r="1.94" fill="#8FD8F8"/>
<circle cx="521.9" cy="80.5" r="1.94" fill="#8FD8F8"/>
<circle cx="620.2" cy="62.4" r="1.94" fill="#82EC5A"/>
<circle cx="631.6" cy="15.1" r="1.94" fill="#8FD8F8"/>
<circle cx="599.3" cy="69.9" r="1.94" fill="#82EC5A"/>
<circle cx="123.7" cy="94.7" r="1.94" fill="#8FD8F8"/>
<circle cx="506.8" cy="144.0" r="1.94" fill="#CC99FF"/>
<circle cx="214.4" cy="55.2" r="1.94" fill="#8FD8F8"/>
<circle cx="497.7" cy="127.3" r="1.94" fill="#82EC5A"/>
<circle cx="547.2" cy="84.3" r="1.93" fill="#8FD8F8"/>
<circle cx="518.8" cy="124.4" r="1.93" fill="#CC99FF"/>
<circle cx="110.3" cy="127.5" r="1.93" fill="#CC99FF"/>
<circle cx="100.4" cy="116.9" r="1.93" fill="#8FD8F8"/>
<circle cx="177.8" cy="74.0" r="1.93" fill="#8FD8F8"/>
<circle cx="119.8" cy="100.7" r="1.93" fill="#DAAA38"/>
<circle cx="544.7" cy="104.0" r="1.93" fill="#82EC5A"/>
<circle cx="189.4" cy="84.2" r="1.93" fill="#8FD8F8"/>
<circle cx="182.6" cy="79.6" r="1.93" fill="#8FD8F8"/>
<circle cx="166.5" cy="75.6" r="1.93" fill="#8FD8F8"/>
<circle cx="122.5" cy="96.7" r="1.93" fill="#8FD8F8"/>
<circle cx="143.9" cy="130.8" r="1.93" fill="#CC99FF"/>
<circle cx="566.0" cy="52.7" r="1.93" fill="#8FD8F8"/>
<circle cx="111.6" cy="134.6" r="1.93" fill="#CC99FF"/>
<circle cx="435.4" cy="132.0" r="1.93" fill="#8FD8F8"/>
<circle cx="236.8" cy="15.7" r="1.93" fill="#DAAA38"/>
<circle cx="101.5" cy="104.8" r="1.92" fill="#8FD8F8"/>
<circle cx="217.8" cy="64.2" r="1.92" fill="#8FD8F8"/>
<circle cx="557.5" cy="78.5" r="1.92" fill="#8FD8F8"/>
<circle cx="101.8" cy="100.7" r="1.92" fill="#DAAA38"/>
<circle cx="495.3" cy="114.4" r="1.92" fill="#82EC5A"/>
<circle cx="212.6" cy="44.3" r="1.92" fill="#8FD8F8"/>
<circle cx="202.5" cy="56.4" r="1.92" fill="#8FD8F8"/>
<circle cx="553.9" cy="104.3" r="1.92" fill="#82EC5A"/>
<circle cx="193.0" cy="75.1" r="1.92" fill="#CC99FF"/>
<circle cx="532.2" cy="81.9" r="1.92" fill="#8FD8F8"/>
<circle cx="119.7" cy="113.4" r="1.92" fill="#8FD8F8"/>
<circle cx="117.4" cy="117.6" r="1.92" fill="#CC99FF"/>
<circle cx="96.7" cy="106.0" r="1.92" fill="#8FD8F8"/>
<circle cx="107.1" cy="132.3" r="1.92" fill="#CC99FF"/>
<circle cx="569.0" cy="97.3" r="1.92" fill="#82EC5A"/>
<circle cx="240.6" cy="19.2" r="1.92" fill="#8FD8F8"/>
<circle cx="498.2" cy="126.8" r="1.91" fill="#F0939B"/>
<circle cx="563.7" cy="121.8" r="1.91" fill="#CC99FF"/>
<circle cx="536.3" cy="126.8" r="1.91" fill="#CC99FF"/>
<circle cx="537.4" cy="66.9" r="1.91" fill="#8FD8F8"/>
<circle cx="466.3" cy="132.2" r="1.91" fill="#8FD8F8"/>
<circle cx="516.0" cy="102.4" r="1.91" fill="#8FD8F8"/>
<circle cx="111.9" cy="101.8" r="1.91" fill="#8FD8F8"/>
<circle cx="505.7" cy="79.6" r="1.91" fill="#F0939B"/>
<circle cx="155.2" cy="109.3" r="1.91" fill="#CC99FF"/>
<circle cx="250.3" cy="63.6" r="1.91" fill="#F0939B"/>
<circle cx="465.0" cy="114.2" r="1.91" fill="#8FD8F8"/>
<circle cx="153.8" cy="66.7" r="1.91" fill="#DAAA38"/>
<circle cx="181.9" cy="114.5" r="1.90" fill="#CC99FF"/>
<circle cx="116.1" cy="112.9" r="1.90" fill="#8FD8F8"/>
<circle cx="125.6" cy="124.6" r="1.90" fill="#CC99FF"/>
<circle cx="470.7" cy="117.1" r="1.90" fill="#8FD8F8"/>
<circle cx="621.4" cy="51.1" r="1.90" fill="#82EC5A"/>
<circle cx="552.9" cy="134.8" r="1.90" fill="#82EC5A"/>
<circle cx="109.8" cy="109.2" r="1.90" fill="#8FD8F8"/>
<circle cx="492.1" cy="93.7" r="1.90" fill="#82EC5A"/>
<circle cx="264.3" cy="34.8" r="1.90" fill="#8FD8F8"/>
<circle cx="158.8" cy="65.7" r="1.90" fill="#8FD8F8"/>
<circle cx="138.4" cy="95.4" r="1.90" fill="#8FD8F8"/>
<circle cx="169.8" cy="102.4" r="1.89" fill="#CC99FF"/>
<circle cx="153.5" cy="80.2" r="1.89" fill="#8FD8F8"/>
<circle cx="494.5" cy="98.0" r="1.89" fill="#8FD8F8"/>
<circle cx="218.5" cy="65.0" r="1.89" fill="#8FD8F8"/>
<circle cx="117.8" cy="99.2" r="1.89" fill="#8FD8F8"/>
<circle cx="131.4" cy="85.2" r="1.89" fill="#8FD8F8"/>
<circle cx="155.0" cy="96.5" r="1.89" fill="#8FD8F8"/>
<circle cx="464.9" cy="142.7" r="1.89" fill="#82EC5A"/>
<circle cx="131.8" cy="100.7" r="1.89" fill="#DAAA38"/>
<circle cx="161.7" cy="80.9" r="1.89" fill="#8FD8F8"/>
<circle cx="467.8" cy="132.7" r="1.89" fill="#8FD8F8"/>
<circle cx="310.7" cy="30.1" r="1.89" fill="#F0939B"/>
<circle cx="258.8" cy="31.2" r="1.89" fill="#8FD8F8"/>
<circle cx="144.4" cy="87.4" r="1.89" fill="#8FD8F8"/>
<circle cx="142.7" cy="119.4" r="1.89" fill="#CC99FF"/>
<circle cx="232.2" cy="45.5" r="1.89" fill="#8FD8F8"/>
<circle cx="135.0" cy="130.3" r="1.88" fill="#CC99FF"/>
<circle cx="191.1" cy="58.2" r="1.88" fill="#8FD8F8"/>
<circle cx="273.6" cy="89.3" r="1.88" fill="#CC99FF"/>
<circle cx="150.0" cy="96.5" r="1.88" fill="#CC99FF"/>
<circle cx="583.6" cy="82.7" r="1.88" fill="#82EC5A"/>
<circle cx="261.4" cy="43.1" r="1.88" fill="#F0939B"/>
<circle cx="120.6" cy="112.6" r="1.88" fill="#8FD8F8"/>
<circle cx="553.4" cy="80.0" r="1.88" fill="#82EC5A"/>
<circle cx="500.0" cy="122.4" r="1.88" fill="#82EC5A"/>
<circle cx="185.3" cy="73.2" r="1.88" fill="#8FD8F8"/>
<circle cx="508.7" cy="133.3" r="1.88" fill="#CC99FF"/>
<circle cx="93.1" cy="105.8" r="1.88" fill="#8FD8F8"/>
<circle cx="446.4" cy="130.1" r="1.88" fill="#8FD8F8"/>
<circle cx="103.9" cy="92.6" r="1.88" fill="#DAAA38"/>
<circle cx="138.5" cy="89.2" r="1.88" fill="#8FD8F8"/>
<circle cx="105.2" cy="125.3" r="1.88" fill="#CC99FF"/>
<circle cx="458.5" cy="128.3" r="1.88" fill="#8FD8F8"/>
<circle cx="195.1" cy="64.4" r="1.88" fill="#8FD8F8"/>
<circle cx="178.9" cy="77.7" r="1.88" fill="#8FD8F8"/>
<circle cx="107.8" cy="100.7" r="1.88" fill="#DAAA38"/>
<circle cx="463.6" cy="123.4" r="1.88" fill="#8FD8F8"/>
<circle cx="169.9" cy="105.0" r="1.88" fill="#8FD8F8"/>
<circle cx="111.8" cy="115.3" r="1.87" fill="#DAAA38"/>
<circle cx="258.4" cy="23.3" r="1.87" fill="#8FD8F8"/>
<circle cx="488.1" cy="104.2" r="1.87" fill="#8FD8F8"/>
<circle cx="529.8" cy="149.3" r="1.87" fill="#82EC5A"/>
<circle cx="83.7" cy="144.3" r="1.87" fill="#BBBBBB"/>
<circle cx="150.0" cy="147.5" r="1.87" fill="#BBBBBB"/>
<circle cx="120.4" cy="114.9" r="1.87" fill="#8FD8F8"/>
<circle cx="183.7" cy="68.2" r="1.87" fill="#8FD8F8"/>
<circle cx="213.4" cy="76.0" r="1.87" fill="#8FD8F8"/>
<circle cx="496.3" cy="114.9" r="1.87" fill="#8FD8F8"/>
<circle cx="503.8" cy="98.6" r="1.87" fill="#82EC5A"/>
<circle cx="133.8" cy="106.4" r="1.87" fill="#CC99FF"/>
<circle cx="490.7" cy="94.9" r="1.87" fill="#8FD8F8"/>
<circle cx="497.1" cy="84.0" r="1.87" fill="#8FD8F8"/>
<circle cx="618.7" cy="50.1" r="1.87" fill="#F0939B"/>
<circle cx="194.2" cy="55.5" r="1.87" fill="#8FD8F8"/>
<circle cx="75.8" cy="133.1" r="1.87" fill="#DAAA38"/>
<circle cx="512.8" cy="124.3" r="1.87" fill="#82EC5A"/>
<circle cx="613.0" cy="33.3" r="1.87" fill="#8FD8F8"/>
<circle cx="517.4" cy="77.0" r="1.87" fill="#8FD8F8"/>
<circle cx="144.8" cy="72.4" r="1.87" fill="#DAAA38"/>
<circle cx="106.6" cy="123.2" r="1.86" fill="#8FD8F8"/>
<circle cx="525.2" cy="84.4" r="1.86" fill="#8FD8F8"/>
<circle cx="119.3" cy="87.3" r="1.86" fill="#8FD8F8"/>
<circle cx="553.3" cy="54.3" r="1.86" fill="#8FD8F8"/>
<circle cx="137.7" cy="112.6" r="1.86" fill="#8FD8F8"/>
<circle cx="478.1" cy="117.5" r="1.86" fill="#8FD8F8"/>
<circle cx="493.4" cy="107.2" r="1.86" fill="#F0939B"/>
<circle cx="542.1" cy="82.1" r="1.86" fill="#82EC5A"/>
<circle cx="510.2" cy="94.4" r="1.86" fill="#8FD8F8"/>
<circle cx="470.3" cy="130.1" r="1.85" fill="#8FD8F8"/>
<circle cx="549.0" cy="67.0" r="1.85" fill="#8FD8F8"/>
<circle cx="290.1" cy="69.8" r="1.85" fill="#F0939B"/>
<circle cx="117.7" cy="137.3" r="1.85" fill="#F0939B"/>
<circle cx="105.4" cy="153.4" r="1.85" fill="#CC99FF"/>
<circle cx="186.0" cy="53.0" r="1.85" fill="#8FD8F8"/>
<circle cx="529.1" cy="121.0" r="1.85" fill="#CC99FF"/>
<circle cx="567.3" cy="123.8" r="1.85" fill="#CC99FF"/>
<circle cx="178.8" cy="90.2" r="1.85" fill="#8FD8F8"/>
<circle cx="489.7" cy="110.8" r="1.85" fill="#82EC5A"/>
<circle cx="280.4" cy="34.7" r="1.85" fill="#CC99FF"/>
<circle cx="304.1" cy="69.1" r="1.85" fill="#BBBBBB"/>
<circle cx="491.4" cy="115.4" r="1.85" fill="#8FD8F8"/>
<circle cx="514.9" cy="95.7" r="1.85" fill="#8FD8F8"/>
<circle cx="114.4" cy="108.6" r="1.85" fill="#CC99FF"/>
<circle cx="196.5" cy="45.2" r="1.84" fill="#8FD8F8"/>
<circle cx="140.3" cy="94.0" r="1.84" fill="#8FD8F8"/>
<circle cx="197.7" cy="70.4" r="1.84" fill="#8FD8F8"/>
<circle cx="588.2" cy="58.4" r="1.84" fill="#82EC5A"/>
<circle cx="443.2" cy="130.9" r="1.84" fill="#8FD8F8"/>
<circle cx="525.8" cy="80.7" r="1.84" fill="#8FD8F8"/>
<circle cx="565.4" cy="63.5" r="1.84" fill="#8FD8F8"/>
<circle cx="103.8" cy="111.7" r="1.84" fill="#8FD8F8"/>
<circle cx="512.6" cy="102.9" r="1.84" fill="#8FD8F8"/>
<circle cx="509.3" cy="114.6" r="1.84" fill="#82EC5A"/>
<circle cx="129.1" cy="91.6" r="1.84" fill="#8FD8F8"/>
<circle cx="105.1" cy="110.8" r="1.84" fill="#8FD8F8"/>
<circle cx="179.3" cy="63.2" r="1.84" fill="#8FD8F8"/>
<circle cx="555.8" cy="73.9" r="1.84" fill="#82EC5A"/>
<circle cx="96.8" cy="148.4" r="1.84" fill="#BBBBBB"/>
<circle cx="204.1" cy="70.3" r="1.83" fill="#8FD8F8"/>
<circle cx="478.9" cy="128.8" r="1.83" fill="#8FD8F8"/>
<circle cx="461.3" cy="118.0" r="1.83" fill="#8FD8F8"/>
<circle cx="158.5" cy="79.5" r="1.83" fill="#8FD8F8"/>
<circle cx="222.5" cy="79.4" r="1.83" fill="#BBBBBB"/>
<circle cx="538.5" cy="98.0" r="1.83" fill="#82EC5A"/>
<circle cx="574.4" cy="58.4" r="1.83" fill="#8FD8F8"/>
<circle cx="145.9" cy="118.8" r="1.83" fill="#CC99FF"/>
<circle cx="206.5" cy="59.6" r="1.83" fill="#8FD8F8"/>
<circle cx="296.5" cy="76.0" r="1.83" fill="#F0939B"/>
<circle cx="265.2" cy="40.9" r="1.83" fill="#CC99FF"/>
<circle cx="470.9" cy="113.2" r="1.83" fill="#8FD8F8"/>
<circle cx="158.2" cy="106.8" r="1.83" fill="#CC99FF"/>
<circle cx="92.8" cy="112.8" r="1.83" fill="#DAAA38"/>
<circle cx="179.2" cy="91.7" r="1.83" fill="#CC99FF"/>
<circle cx="174.0" cy="83.9" r="1.83" fill="#8FD8F8"/>
<circle cx="130.3" cy="111.1" r="1.83" fill="#8FD8F8"/>
<circle cx="148.3" cy="86.2" r="1.83" fill="#8FD8F8"/>
<circle cx="245.7" cy="57.1" r="1.83" fill="#BBBBBB"/>
<circle cx="542.3" cy="119.0" r="1.82" fill="#82EC5A"/>
<circle cx="165.5" cy="121.3" r="1.82" fill="#CC99FF"/>
<circle cx="592.5" cy="55.9" r="1.82" fill="#8FD8F8"/>
<circle cx="167.2" cy="99.3" r="1.82" fill="#8FD8F8"/>
<circle cx="511.8" cy="106.1" r="1.82" fill="#82EC5A"/>
<circle cx="227.8" cy="29.3" r="1.82" fill="#8FD8F8"/>
<circle cx="97.2" cy="148.0" r="1.82" fill="#BBBBBB"/>
<circle cx="501.5" cy="110.9" r="1.82" fill="#8FD8F8"/>
<circle cx="554.7" cy="75.0" r="1.82" fill="#8FD8F8"/>
<circle cx="239.6" cy="104.1" r="1.82" fill="#BBBBBB"/>
<circle cx="231.1" cy="60.3" r="1.82" fill="#8FD8F8"/>
<circle cx="190.8" cy="103.5" r="1.82" fill="#CC99FF"/>
<circle cx="134.2" cy="122.5" r="1.82" fill="#CC99FF"/>
<circle cx="94.8" cy="104.7" r="1.81" fill="#DAAA38"/>
<circle cx="534.5" cy="132.2" r="1.81" fill="#CC99FF"/>
<circle cx="241.1" cy="78.6" r="1.81" fill="#8FD8F8"/>
<circle cx="83.4" cy="106.0" r="1.81" fill="#DAAA38"/>
<circle cx="457.9" cy="130.7" r="1.81" fill="#82EC5A"/>
<circle cx="532.2" cy="124.6" r="1.81" fill="#CC99FF"/>
<circle cx="206.7" cy="61.9" r="1.81" fill="#8FD8F8"/>
<circle cx="488.1" cy="118.6" r="1.81" fill="#82EC5A"/>
<circle cx="159.6" cy="87.6" r="1.81" fill="#8FD8F8"/>
<circle cx="435.0" cy="139.9" r="1.81" fill="#8FD8F8"/>
<circle cx="487.7" cy="105.8" r="1.81" fill="#8FD8F8"/>
<circle cx="482.8" cy="120.6" r="1.81" fill="#8FD8F8"/>
<circle cx="530.9" cy="119.5" r="1.81" fill="#82EC5A"/>
<circle cx="488.6" cy="127.7" r="1.81" fill="#82EC5A"/>
<circle cx="112.9" cy="107.9" r="1.81" fill="#8FD8F8"/>
<circle cx="143.5" cy="147.7" r="1.80" fill="#F0939B"/>
<circle cx="459.5" cy="121.8" r="1.80" fill="#8FD8F8"/>
<circle cx="586.2" cy="120.7" r="1.80" fill="#CC99FF"/>
<circle cx="544.3" cy="129.4" r="1.80" fill="#CC99FF"/>
<circle cx="535.0" cy="114.0" r="1.80" fill="#82EC5A"/>
<circle cx="309.3" cy="22.0" r="1.80" fill="#CC99FF"/>
<circle cx="119.6" cy="94.9" r="1.80" fill="#8FD8F8"/>
<circle cx="463.9" cy="122.3" r="1.80" fill="#8FD8F8"/>
<circle cx="463.8" cy="115.2" r="1.80" fill="#8FD8F8"/>
<circle cx="121.1" cy="96.8" r="1.80" fill="#8FD8F8"/>
<circle cx="127.5" cy="105.0" r="1.80" fill="#8FD8F8"/>
<circle cx="598.2" cy="32.4" r="1.80" fill="#8FD8F8"/>
<circle cx="569.3" cy="98.7" r="1.79" fill="#CC99FF"/>
<circle cx="80.8" cy="112.8" r="1.79" fill="#DAAA38"/>
<circle cx="197.7" cy="46.3" r="1.79" fill="#8FD8F8"/>
<circle cx="114.4" cy="129.7" r="1.79" fill="#8FD8F8"/>
<circle cx="93.8" cy="115.3" r="1.79" fill="#DAAA38"/>
<circle cx="176.6" cy="79.1" r="1.79" fill="#8FD8F8"/>
<circle cx="185.1" cy="95.1" r="1.79" fill="#CC99FF"/>
<circle cx="155.2" cy="109.2" r="1.79" fill="#8FD8F8"/>
<circle cx="517.8" cy="91.3" r="1.79" fill="#8FD8F8"/>
<circle cx="501.2" cy="91.9" r="1.79" fill="#8FD8F8"/>
<circle cx="530.9" cy="94.9" r="1.79" fill="#82EC5A"/>
<circle cx="574.6" cy="120.3" r="1.79" fill="#CC99FF"/>
<circle cx="154.0" cy="78.2" r="1.79" fill="#8FD8F8"/>
<circle cx="140.8" cy="119.0" r="1.79" fill="#8FD8F8"/>
<circle cx="468.4" cy="138.5" r="1.79" fill="#82EC5A"/>
<circle cx="162.9" cy="108.8" r="1.79" fill="#CC99FF"/>
<circle cx="169.7" cy="84.0" r="1.79" fill="#8FD8F8"/>
<circle cx="215.3" cy="33.1" r="1.79" fill="#DAAA38"/>
<circle cx="495.5" cy="102.1" r="1.79" fill="#8FD8F8"/>
<circle cx="488.4" cy="123.1" r="1.79" fill="#F0939B"/>
<circle cx="520.4" cy="133.0" r="1.78" fill="#CC99FF"/>
<circle cx="593.0" cy="72.5" r="1.78" fill="#82EC5A"/>
<circle cx="231.9" cy="71.6" r="1.78" fill="#8FD8F8"/>
<circle cx="169.3" cy="87.1" r="1.78" fill="#CC99FF"/>
<circle cx="222.3" cy="40.6" r="1.78" fill="#8FD8F8"/>
<circle cx="159.4" cy="64.1" r="1.78" fill="#8FD8F8"/>
<circle cx="564.2" cy="54.2" r="1.78" fill="#8FD8F8"/>
<circle cx="512.6" cy="110.7" r="1.78" fill="#82EC5A"/>
<circle cx="130.3" cy="95.2" r="1.77" fill="#8FD8F8"/>
<circle cx="472.5" cy="114.6" r="1.77" fill="#8FD8F8"/>
<circle cx="106.6" cy="130.5" r="1.77" fill="#BBBBBB"/>
<circle cx="163.1" cy="68.3" r="1.77" fill="#8FD8F8"/>
<circle cx="137.7" cy="130.1" r="1.77" fill="#CC99FF"/>
<circle cx="309.1" cy="52.0" r="1.77" fill="#BBBBBB"/>
<circle cx="122.4" cy="118.0" r="1.77" fill="#8FD8F8"/>
<circle cx="147.2" cy="103.3" r="1.77" fill="#8FD8F8"/>
<circle cx="580.2" cy="102.8" r="1.77" fill="#82EC5A"/>
<circle cx="279.1" cy="45.5" r="1.77" fill="#BBBBBB"/>
<circle cx="173.0" cy="76.2" r="1.77" fill="#8FD8F8"/>
<circle cx="163.7" cy="83.3" r="1.77" fill="#8FD8F8"/>
<circle cx="265.5" cy="94.9" r="1.77" fill="#CC99FF"/>
<circle cx="196.6" cy="61.6" r="1.77" fill="#8FD8F8"/>
<circle cx="174.9" cy="75.0" r="1.77" fill="#8FD8F8"/>
<circle cx="172.2" cy="105.8" r="1.77" fill="#CC99FF"/>
<circle cx="535.4" cy="91.7" r="1.77" fill="#8FD8F8"/>
<circle cx="485.3" cy="122.6" r="1.77" fill="#8FD8F8"/>
<circle cx="171.3" cy="76.7" r="1.77" fill="#8FD8F8"/>
<circle cx="531.5" cy="93.7" r="1.76" fill="#82EC5A"/>
<circle cx="590.1" cy="106.2" r="1.76" fill="#CC99FF"/>
<circle cx="323.4" cy="53.7" r="1.76" fill="#CC99FF"/>
<circle cx="129.8" cy="105.5" r="1.76" fill="#8FD8F8"/>
<circle cx="186.6" cy="72.9" r="1.76" fill="#8FD8F8"/>
<circle cx="107.3" cy="106.0" r="1.76" fill="#DAAA38"/>
<circle cx="565.8" cy="68.8" r="1.76" fill="#8FD8F8"/>
<circle cx="178.2" cy="71.3" r="1.76" fill="#8FD8F8"/>
<circle cx="206.5" cy="50.7" r="1.76" fill="#8FD8F8"/>
<circle cx="185.0" cy="76.7" r="1.75" fill="#8FD8F8"/>
<circle cx="274.3" cy="52.3" r="1.75" fill="#CC99FF"/>
<circle cx="248.9" cy="56.4" r="1.75" fill="#CC99FF"/>
<circle cx="130.4" cy="102.7" r="1.75" fill="#8FD8F8"/>
<circle cx="305.6" cy="58.8" r="1.75" fill="#CC99FF"/>
<circle cx="514.3" cy="72.7" r="1.75" fill="#F0939B"/>
<circle cx="477.6" cy="105.1" r="1.75" fill="#8FD8F8"/>
<circle cx="264.8" cy="88.5" r="1.75" fill="#CC99FF"/>
<circle cx="566.0" cy="50.7" r="1.75" fill="#8FD8F8"/>
<circle cx="179.8" cy="90.0" r="1.75" fill="#8FD8F8"/>
<circle cx="554.2" cy="129.9" r="1.75" fill="#CC99FF"/>
<circle cx="143.7" cy="118.8" r="1.75" fill="#CC99FF"/>
<circle cx="264.0" cy="37.4" r="1.75" fill="#8FD8F8"/>
<circle cx="623.9" cy="25.2" r="1.75" fill="#F0939B"/>
<circle cx="124.5" cy="113.6" r="1.75" fill="#8FD8F8"/>
<circle cx="224.2" cy="88.5" r="1.75" fill="#CC99FF"/>
<circle cx="118.8" cy="104.7" r="1.75" fill="#DAAA38"/>
<circle cx="572.8" cy="85.8" r="1.75" fill="#82EC5A"/>
<circle cx="443.1" cy="144.1" r="1.75" fill="#8FD8F8"/>
<circle cx="173.0" cy="72.8" r="1.75" fill="#8FD8F8"/>
<circle cx="155.4" cy="108.7" r="1.75" fill="#CC99FF"/>
<circle cx="453.5" cy="119.6" r="1.74" fill="#8FD8F8"/>
<circle cx="269.5" cy="88.4" r="1.74" fill="#F0939B"/>
<circle cx="459.4" cy="120.3" r="1.74" fill="#8FD8F8"/>
<circle cx="557.0" cy="103.3" r="1.74" fill="#CC99FF"/>
<circle cx="489.1" cy="145.1" r="1.74" fill="#82EC5A"/>
<circle cx="144.6" cy="85.1" r="1.74" fill="#8FD8F8"/>
<circle cx="434.0" cy="138.8" r="1.74" fill="#8FD8F8"/>
<circle cx="143.8" cy="76.4" r="1.74" fill="#F0939B"/>
<circle cx="509.5" cy="99.9" r="1.74" fill="#8FD8F8"/>
<circle cx="498.2" cy="88.2" r="1.74" fill="#8FD8F8"/>
<circle cx="79.8" cy="116.9" r="1.74" fill="#DAAA38"/>
<circle cx="135.3" cy="101.9" r="1.74" fill="#8FD8F8"/>
<circle cx="137.0" cy="122.7" r="1.74" fill="#F0939B"/>
<circle cx="532.9" cy="84.7" r="1.73" fill="#8FD8F8"/>
<circle cx="567.9" cy="78.1" r="1.73" fill="#8FD8F8"/>
<circle cx="130.7" cy="125.3" r="1.73" fill="#CC99FF"/>
<circle cx="157.0" cy="110.4" r="1.73" fill="#CC99FF"/>
<circle cx="108.3" cy="101.9" r="1.73" fill="#DAAA38"/>
<circle cx="556.2" cy="60.7" r="1.73" fill="#8FD8F8"/>
<circle cx="158.3" cy="143.0" r="1.73" fill="#BBBBBB"/>
<circle cx="153.7" cy="99.4" r="1.73" fill="#BBBBBB"/>
<circle cx="122.1" cy="139.1" r="1.73" fill="#F0939B"/>
<circle cx="109.0" cy="113.6" r="1.73" fill="#8FD8F8"/>
<circle cx="536.6" cy="121.1" r="1.72" fill="#82EC5A"/>
<circle cx="535.0" cy="72.7" r="1.72" fill="#8FD8F8"/>
<circle cx="125.7" cy="95.2" r="1.72" fill="#8FD8F8"/>
<circle cx="294.9" cy="16.5" r="1.72" fill="#CC99FF"/>
<circle cx="538.7" cy="129.4" r="1.72" fill="#CC99FF"/>
<circle cx="153.3" cy="91.7" r="1.72" fill="#8FD8F8"/>
<circle cx="157.2" cy="98.1" r="1.72" fill="#8FD8F8"/>
<circle cx="248.9" cy="53.8" r="1.72" fill="#8FD8F8"/>
<circle cx="143.1" cy="85.7" r="1.72" fill="#8FD8F8"/>
<circle cx="503.2" cy="129.8" r="1.72" fill="#82EC5A"/>
<circle cx="200.7" cy="41.1" r="1.72" fill="#8FD8F8"/>
<circle cx="513.2" cy="121.7" r="1.72" fill="#8FD8F8"/>
<circle cx="553.2" cy="124.8" r="1.72" fill="#CC99FF"/>
<circle cx="310.9" cy="18.1" r="1.72" fill="#BBBBBB"/>
<circle cx="522.4" cy="134.1" r="1.72" fill="#CC99FF"/>
<circle cx="492.4" cy="104.3" r="1.72" fill="#F0939B"/>
<circle cx="578.8" cy="110.4" r="1.72" fill="#CC99FF"/>
<circle cx="440.0" cy="128.9" r="1.72" fill="#8FD8F8"/>
<circle cx="187.7" cy="69.8" r="1.72" fill="#8FD8F8"/>
<circle cx="141.3" cy="125.6" r="1.72" fill="#CC99FF"/>
<circle cx="143.6" cy="114.8" r="1.72" fill="#CC99FF"/>
<circle cx="124.5" cy="133.1" r="1.71" fill="#CC99FF"/>
<circle cx="171.6" cy="76.8" r="1.71" fill="#8FD8F8"/>
<circle cx="541.6" cy="99.4" r="1.71" fill="#82EC5A"/>
<circle cx="170.4" cy="94.5" r="1.71" fill="#CC99FF"/>
<circle cx="569.2" cy="60.8" r="1.71" fill="#8FD8F8"/>
<circle cx="565.4" cy="113.8" r="1.71" fill="#CC99FF"/>
<circle cx="505.5" cy="111.7" r="1.71" fill="#82EC5A"/>
<circle cx="131.0" cy="101.8" r="1.71" fill="#8FD8F8"/>
<circle cx="230.3" cy="102.7" r="1.71" fill="#BBBBBB"/>
<circle cx="494.7" cy="123.7" r="1.71" fill="#82EC5A"/>
<circle cx="141.8" cy="88.2" r="1.71" fill="#8FD8F8"/>
<circle cx="218.5" cy="53.0" r="1.71" fill="#8FD8F8"/>
<circle cx="542.6" cy="122.1" r="1.71" fill="#CC99FF"/>
<circle cx="167.2" cy="134.7" r="1.71" fill="#F0939B"/>
<circle cx="155.4" cy="76.6" r="1.71" fill="#8FD8F8"/>
<circle cx="145.5" cy="79.4" r="1.71" fill="#8FD8F8"/>
<circle cx="101.3" cy="106.0" r="1.71" fill="#DAAA38"/>
<circle cx="175.3" cy="80.9" r="1.71" fill="#8FD8F8"/>
<circle cx="169.0" cy="116.8" r="1.70" fill="#CC99FF"/>
<circle cx="446.8" cy="113.1" r="1.70" fill="#8FD8F8"/>
<circle cx="505.0" cy="82.7" r="1.70" fill="#8FD8F8"/>
<circle cx="256.6" cy="67.2" r="1.70" fill="#CC99FF"/>
<circle cx="232.6" cy="51.7" r="1.70" fill="#CC99FF"/>
<circle cx="497.8" cy="106.5" r="1.70" fill="#8FD8F8"/>
<circle cx="152.9" cy="76.1" r="1.70" fill="#8FD8F8"/>
<circle cx="565.9" cy="81.8" r="1.70" fill="#82EC5A"/>
<circle cx="131.6" cy="89.5" r="1.70" fill="#8FD8F8"/>
<circle cx="575.0" cy="50.2" r="1.70" fill="#8FD8F8"/>
<circle cx="114.6" cy="126.9" r="1.70" fill="#CC99FF"/>
<circle cx="164.0" cy="149.7" r="1.70" fill="#BBBBBB"/>
<circle cx="563.9" cy="118.8" r="1.70" fill="#CC99FF"/>
<circle cx="97.7" cy="119.1" r="1.70" fill="#8FD8F8"/>
<circle cx="558.4" cy="123.7" r="1.70" fill="#CC99FF"/>
<circle cx="415.6" cy="131.3" r="1.70" fill="#F0939B"/>
<circle cx="139.3" cy="108.4" r="1.69" fill="#CC99FF"/>
<circle cx="505.0" cy="130.5" r="1.69" fill="#82EC5A"/>
<circle cx="569.6" cy="103.3" r="1.69" fill="#CC99FF"/>
<circle cx="154.0" cy="102.6" r="1.69" fill="#8FD8F8"/>
<circle cx="105.3" cy="146.4" r="1.69" fill="#8FD8F8"/>
<circle cx="444.5" cy="145.1" r="1.69" fill="#8FD8F8"/>
<circle cx="574.1" cy="52.0" r="1.69" fill="#8FD8F8"/>
<circle cx="513.9" cy="112.5" r="1.69" fill="#82EC5A"/>
<circle cx="79.3" cy="150.8" r="1.69" fill="#BBBBBB"/>
<circle cx="442.1" cy="125.6" r="1.69" fill="#8FD8F8"/>
<circle cx="159.3" cy="99.7" r="1.69" fill="#8FD8F8"/>
<circle cx="117.3" cy="139.0" r="1.69" fill="#CC99FF"/>
<circle cx="512.8" cy="114.9" r="1.69" fill="#8FD8F8"/>
<circle cx="234.0" cy="49.1" r="1.69" fill="#8FD8F8"/>
<circle cx="153.2" cy="104.5" r="1.69" fill="#CC99FF"/>
<circle cx="563.5" cy="75.7" r="1.68" fill="#82EC5A"/>
<circle cx="534.6" cy="92.3" r="1.68" fill="#82EC5A"/>
<circle cx="568.7" cy="89.4" r="1.68" fill="#82EC5A"/>
<circle cx="530.6" cy="146.3" r="1.68" fill="#CC99FF"/>
<circle cx="77.5" cy="132.9" r="1.68" fill="#8FD8F8"/>
<circle cx="440.1" cy="146.6" r="1.68" fill="#82EC5A"/>
<circle cx="478.1" cy="111.0" r="1.68" fill="#8FD8F8"/>
<circle cx="137.6" cy="110.0" r="1.68" fill="#8FD8F8"/>
<circle cx="124.3" cy="101.7" r="1.68" fill="#8FD8F8"/>
<circle cx="500.4" cy="92.6" r="1.68" fill="#8FD8F8"/>
<circle cx="457.2" cy="112.5" r="1.68" fill="#F0939B"/>
<circle cx="180.5" cy="50.7" r="1.68" fill="#8FD8F8"/>
<circle cx="169.3" cy="94.1" r="1.68" fill="#CC99FF"/>
<circle cx="152.6" cy="81.5" r="1.68" fill="#8FD8F8"/>
<circle cx="197.0" cy="58.9" r="1.68" fill="#8FD8F8"/>
<circle cx="490.8" cy="132.0" r="1.68" fill="#82EC5A"/>
<circle cx="171.9" cy="103.2" r="1.68" fill="#CC99FF"/>
<circle cx="565.1" cy="85.0" r="1.67" fill="#8FD8F8"/>
<circle cx="455.3" cy="110.0" r="1.67" fill="#8FD8F8"/>
<circle cx="152.6" cy="75.9" r="1.67" fill="#CC99FF"/>
<circle cx="525.7" cy="86.3" r="1.67" fill="#8FD8F8"/>
<circle cx="162.1" cy="96.3" r="1.67" fill="#8FD8F8"/>
<circle cx="171.2" cy="79.6" r="1.67" fill="#8FD8F8"/>
<circle cx="90.4" cy="101.9" r="1.67" fill="#DAAA38"/>
<circle cx="219.8" cy="70.9" r="1.67" fill="#8FD8F8"/>
<circle cx="573.0" cy="110.0" r="1.67" fill="#CC99FF"/>
<circle cx="206.7" cy="66.0" r="1.67" fill="#8FD8F8"/>
<circle cx="177.9" cy="82.7" r="1.67" fill="#8FD8F8"/>
<circle cx="626.1" cy="23.0" r="1.67" fill="#8FD8F8"/>
<circle cx="139.3" cy="97.3" r="1.67" fill="#8FD8F8"/>
<circle cx="107.2" cy="115.7" r="1.67" fill="#8FD8F8"/>
<circle cx="129.1" cy="121.2" r="1.67" fill="#8FD8F8"/>
<circle cx="245.0" cy="68.3" r="1.67" fill="#CC99FF"/>
<circle cx="562.7" cy="58.0" r="1.66" fill="#8FD8F8"/>
<circle cx="515.8" cy="107.9" r="1.66" fill="#8FD8F8"/>
<circle cx="239.8" cy="48.1" r="1.66" fill="#8FD8F8"/>
<circle cx="123.8" cy="144.3" r="1.66" fill="#BBBBBB"/>
<circle cx="98.4" cy="119.1" r="1.66" fill="#8FD8F8"/>
<circle cx="498.1" cy="130.4" r="1.66" fill="#82EC5A"/>
<circle cx="250.0" cy="20.3" r="1.66" fill="#8FD8F8"/>
<circle cx="538.1" cy="83.2" r="1.66" fill="#8FD8F8"/>
<circle cx="142.3" cy="106.8" r="1.66" fill="#8FD8F8"/>
<circle cx="160.6" cy="71.9" r="1.66" fill="#8FD8F8"/>
<circle cx="128.8" cy="102.4" r="1.66" fill="#8FD8F8"/>
<circle cx="91.4" cy="114.6" r="1.66" fill="#8FD8F8"/>
<circle cx="208.4" cy="44.5" r="1.65" fill="#8FD8F8"/>
<circle cx="538.6" cy="116.9" r="1.65" fill="#CC99FF"/>
<circle cx="112.4" cy="111.1" r="1.65" fill="#8FD8F8"/>
<circle cx="94.2" cy="117.6" r="1.65" fill="#8FD8F8"/>
<circle cx="479.7" cy="121.3" r="1.65" fill="#8FD8F8"/>
<circle cx="518.4" cy="136.0" r="1.65" fill="#CC99FF"/>
<circle cx="104.8" cy="112.8" r="1.65" fill="#DAAA38"/>
<circle cx="182.6" cy="73.4" r="1.65" fill="#8FD8F8"/>
<circle cx="481.7" cy="116.6" r="1.65" fill="#8FD8F8"/>
<circle cx="479.0" cy="138.5" r="1.65" fill="#8FD8F8"/>
<circle cx="223.6" cy="39.0" r="1.65" fill="#CC99FF"/>
<circle cx="135.4" cy="128.7" r="1.65" fill="#CC99FF"/>
<circle cx="85.8" cy="116.9" r="1.65" fill="#DAAA38"/>
<circle cx="126.6" cy="91.8" r="1.65" fill="#8FD8F8"/>
<circle cx="169.0" cy="114.3" r="1.64" fill="#CC99FF"/>
<circle cx="180.3" cy="111.9" r="1.64" fill="#F0939B"/>
<circle cx="211.4" cy="65.4" r="1.64" fill="#8FD8F8"/>
<circle cx="208.5" cy="97.2" r="1.64" fill="#F0939B"/>
<circle cx="535.0" cy="80.8" r="1.64" fill="#F0939B"/>
<circle cx="546.1" cy="136.3" r="1.64" fill="#CC99FF"/>
<circle cx="106.4" cy="122.0" r="1.64" fill="#8FD8F8"/>
<circle cx="170.8" cy="103.3" r="1.64" fill="#CC99FF"/>
<circle cx="460.0" cy="132.9" r="1.64" fill="#8FD8F8"/>
<circle cx="201.5" cy="81.6" r="1.64" fill="#8FD8F8"/>
<circle cx="580.3" cy="59.5" r="1.64" fill="#82EC5A"/>
<circle cx="500.0" cy="86.9" r="1.64" fill="#8FD8F8"/>
<circle cx="502.8" cy="106.2" r="1.64" fill="#8FD8F8"/>
<circle cx="145.3" cy="77.9" r="1.64" fill="#8FD8F8"/>
<circle cx="596.8" cy="32.0" r="1.64" fill="#8FD8F8"/>
<circle cx="445.4" cy="135.3" r="1.64" fill="#8FD8F8"/>
<circle cx="95.0" cy="134.8" r="1.64" fill="#CC99FF"/>
<circle cx="142.2" cy="79.2" r="1.63" fill="#8FD8F8"/>
<circle cx="87.7" cy="148.6" r="1.63" fill="#BBBBBB"/>
<circle cx="447.7" cy="123.5" r="1.63" fill="#8FD8F8"/>
<circle cx="533.3" cy="83.9" r="1.63" fill="#82EC5A"/>
<circle cx="435.8" cy="129.1" r="1.63" fill="#8FD8F8"/>
<circle cx="161.2" cy="131.6" r="1.63" fill="#BBBBBB"/>
<circle cx="557.9" cy="124.2" r="1.63" fill="#CC99FF"/>
<circle cx="137.2" cy="86.6" r="1.63" fill="#8FD8F8"/>
<circle cx="449.3" cy="145.4" r="1.63" fill="#82EC5A"/>
<circle cx="517.1" cy="82.4" r="1.63" fill="#8FD8F8"/>
<circle cx="490.5" cy="123.7" r="1.63" fill="#8FD8F8"/>
<circle cx="166.2" cy="115.3" r="1.63" fill="#CC99FF"/>
<circle cx="117.8" cy="99.5" r="1.62" fill="#8FD8F8"/>
<circle cx="152.8" cy="64.3" r="1.62" fill="#DAAA38"/>
<circle cx="156.0" cy="119.7" r="1.62" fill="#CC99FF"/>
<circle cx="489.2" cy="102.9" r="1.62" fill="#8FD8F8"/>
<circle cx="124.4" cy="118.2" r="1.62" fill="#CC99FF"/>
<circle cx="580.2" cy="55.1" r="1.62" fill="#82EC5A"/>
<circle cx="167.4" cy="62.2" r="1.62" fill="#8FD8F8"/>
<circle cx="460.0" cy="116.9" r="1.62" fill="#F0939B"/>
<circle cx="496.2" cy="110.1" r="1.62" fill="#8FD8F8"/>
<circle cx="504.5" cy="128.5" r="1.62" fill="#82EC5A"/>
<circle cx="515.8" cy="148.8" r="1.62" fill="#CC99FF"/>
<circle cx="486.4" cy="93.2" r="1.61" fill="#8FD8F8"/>
<circle cx="216.9" cy="47.6" r="1.61" fill="#8FD8F8"/>
<circle cx="559.5" cy="87.8" r="1.61" fill="#82EC5A"/>
<circle cx="494.5" cy="108.1" r="1.61" fill="#82EC5A"/>
<circle cx="584.0" cy="114.1" r="1.61" fill="#CC99FF"/>
<circle cx="294.9" cy="48.4" r="1.61" fill="#BBBBBB"/>
<circle cx="140.8" cy="121.3" r="1.61" fill="#CC99FF"/>
<circle cx="106.7" cy="147.9" r="1.61" fill="#CC99FF"/>
<circle cx="134.1" cy="82.8" r="1.61" fill="#8FD8F8"/>
<circle cx="537.0" cy="97.2" r="1.61" fill="#82EC5A"/>
<circle cx="147.2" cy="96.2" r="1.61" fill="#8FD8F8"/>
<circle cx="153.6" cy="91.7" r="1.60" fill="#8FD8F8"/>
<circle cx="187.2" cy="71.7" r="1.60" fill="#8FD8F8"/>
<circle cx="132.7" cy="120.1" r="1.60" fill="#8FD8F8"/>
<circle cx="580.8" cy="58.5" r="1.60" fill="#82EC5A"/>
<circle cx="209.5" cy="47.0" r="1.60" fill="#8FD8F8"/>
<circle cx="141.4" cy="108.0" r="1.60" fill="#CC99FF"/>
<circle cx="528.8" cy="94.2" r="1.60" fill="#82EC5A"/>
<circle cx="176.1" cy="65.5" r="1.60" fill="#8FD8F8"/>
<circle cx="467.8" cy="112.6" r="1.60" fill="#8FD8F8"/>
<circle cx="527.6" cy="123.0" r="1.60" fill="#CC99FF"/>
<circle cx="561.9" cy="113.7" r="1.59" fill="#CC99FF"/>
<circle cx="124.9" cy="92.3" r="1.59" fill="#8FD8F8"/>
<circle cx="475.4" cy="139.1" r="1.59" fill="#82EC5A"/>
<circle cx="139.6" cy="129.4" r="1.59" fill="#CC99FF"/>
<circle cx="307.0" cy="33.0" r="1.59" fill="#8FD8F8"/>
<circle cx="230.1" cy="95.6" r="1.59" fill="#CC99FF"/>
<circle cx="455.7" cy="118.6" r="1.59" fill="#8FD8F8"/>
<circle cx="468.6" cy="141.6" r="1.59" fill="#82EC5A"/>
<circle cx="527.0" cy="108.3" r="1.59" fill="#F0939B"/>
<circle cx="196.1" cy="70.1" r="1.59" fill="#8FD8F8"/>
<circle cx="107.1" cy="110.9" r="1.59" fill="#8FD8F8"/>
<circle cx="520.2" cy="123.7" r="1.59" fill="#82EC5A"/>
<circle cx="130.5" cy="106.6" r="1.59" fill="#8FD8F8"/>
<circle cx="163.5" cy="68.1" r="1.59" fill="#8FD8F8"/>
<circle cx="107.3" cy="99.5" r="1.59" fill="#8FD8F8"/>
<circle cx="182.6" cy="79.2" r="1.59" fill="#8FD8F8"/>
<circle cx="172.4" cy="61.9" r="1.59" fill="#8FD8F8"/>
<circle cx="250.4" cy="82.8" r="1.59" fill="#CC99FF"/>
<circle cx="596.5" cy="33.4" r="1.58" fill="#8FD8F8"/>
<circle cx="435.8" cy="124.8" r="1.58" fill="#8FD8F8"/>
<circle cx="527.9" cy="83.1" r="1.58" fill="#8FD8F8"/>
<circle cx="550.5" cy="80.6" r="1.58" fill="#8FD8F8"/>
<circle cx="174.7" cy="121.5" r="1.58" fill="#F0939B"/>
<circle cx="112.7" cy="101.5" r="1.58" fill="#8FD8F8"/>
<circle cx="463.3" cy="129.4" r="1.58" fill="#8FD8F8"/>
<circle cx="457.4" cy="117.7" r="1.58" fill="#8FD8F8"/>
<circle cx="188.8" cy="63.9" r="1.58" fill="#8FD8F8"/>
<circle cx="599.0" cy="73.1" r="1.58" fill="#82EC5A"/>
<circle cx="529.9" cy="77.9" r="1.58" fill="#8FD8F8"/>
<circle cx="110.0" cy="93.2" r="1.58" fill="#8FD8F8"/>
<circle cx="190.3" cy="52.9" r="1.58" fill="#8FD8F8"/>
<circle cx="517.6" cy="110.0" r="1.58" fill="#CC99FF"/>
<circle cx="148.4" cy="104.8" r="1.58" fill="#8FD8F8"/>
<circle cx="549.1" cy="113.3" r="1.58" fill="#CC99FF"/>
<circle cx="90.1" cy="119.1" r="1.58" fill="#8FD8F8"/>
<circle cx="96.7" cy="116.4" r="1.58" fill="#8FD8F8"/>
<circle cx="487.5" cy="125.6" r="1.57" fill="#82EC5A"/>
<circle cx="219.2" cy="33.1" r="1.57" fill="#8FD8F8"/>
<circle cx="467.2" cy="130.6" r="1.57" fill="#8FD8F8"/>
<circle cx="481.3" cy="110.6" r="1.57" fill="#82EC5A"/>
<circle cx="552.8" cy="89.6" r="1.57" fill="#82EC5A"/>
<circle cx="480.7" cy="122.7" r="1.57" fill="#8FD8F8"/>
<circle cx="100.8" cy="107.8" r="1.57" fill="#8FD8F8"/>
<circle cx="497.6" cy="105.4" r="1.56" fill="#8FD8F8"/>
<circle cx="475.2" cy="114.2" r="1.56" fill="#8FD8F8"/>
<circle cx="174.9" cy="66.2" r="1.56" fill="#8FD8F8"/>
<circle cx="174.9" cy="96.0" r="1.56" fill="#CC99FF"/>
<circle cx="122.1" cy="105.4" r="1.56" fill="#8FD8F8"/>
<circle cx="222.6" cy="96.5" r="1.56" fill="#BBBBBB"/>
<circle cx="156.1" cy="85.8" r="1.56" fill="#8FD8F8"/>
<circle cx="132.1" cy="107.4" r="1.56" fill="#8FD8F8"/>
<circle cx="517.3" cy="95.9" r="1.56" fill="#82EC5A"/>
<circle cx="557.8" cy="94.9" r="1.56" fill="#82EC5A"/>
<circle cx="159.7" cy="112.5" r="1.56" fill="#CC99FF"/>
<circle cx="208.0" cy="82.3" r="1.56" fill="#F0939B"/>
<circle cx="499.3" cy="98.1" r="1.56" fill="#8FD8F8"/>
<circle cx="539.7" cy="96.4" r="1.56" fill="#82EC5A"/>
<circle cx="473.1" cy="101.9" r="1.56" fill="#8FD8F8"/>
<circle cx="480.6" cy="111.2" r="1.56" fill="#8FD8F8"/>
<circle cx="586.7" cy="54.1" r="1.56" fill="#82EC5A"/>
<circle cx="134.4" cy="140.2" r="1.56" fill="#F0939B"/>
<circle cx="130.4" cy="86.4" r="1.56" fill="#8FD8F8"/>
<circle cx="126.4" cy="105.0" r="1.55" fill="#8FD8F8"/>
<circle cx="189.4" cy="49.0" r="1.55" fill="#8FD8F8"/>
<circle cx="138.1" cy="89.9" r="1.55" fill="#8FD8F8"/>
<circle cx="123.3" cy="89.8" r="1.55" fill="#DAAA38"/>
<circle cx="209.9" cy="64.3" r="1.55" fill="#8FD8F8"/>
<circle cx="144.5" cy="86.8" r="1.55" fill="#8FD8F8"/>
<circle cx="312.8" cy="16.4" r="1.55" fill="#CC99FF"/>
<circle cx="111.6" cy="101.5" r="1.55" fill="#8FD8F8"/>
<circle cx="488.0" cy="108.9" r="1.55" fill="#8FD8F8"/>
<circle cx="469.1" cy="134.5" r="1.55" fill="#8FD8F8"/>
<circle cx="93.2" cy="107.3" r="1.55" fill="#8FD8F8"/>
<circle cx="169.1" cy="121.8" r="1.55" fill="#CC99FF"/>
<circle cx="510.5" cy="89.1" r="1.55" fill="#8FD8F8"/>
<circle cx="149.7" cy="110.9" r="1.55" fill="#CC99FF"/>
<circle cx="575.6" cy="101.4" r="1.55" fill="#CC99FF"/>
<circle cx="496.1" cy="105.9" r="1.55" fill="#8FD8F8"/>
<circle cx="97.8" cy="116.9" r="1.54" fill="#DAAA38"/>
<circle cx="145.4" cy="110.6" r="1.54" fill="#CC99FF"/>
<circle cx="173.0" cy="97.3" r="1.54" fill="#CC99FF"/>
<circle cx="293.7" cy="71.4" r="1.54" fill="#CC99FF"/>
<circle cx="187.7" cy="72.8" r="1.54" fill="#8FD8F8"/>
<circle cx="143.4" cy="103.6" r="1.54" fill="#CC99FF"/>
<circle cx="141.9" cy="108.7" r="1.54" fill="#8FD8F8"/>
<circle cx="533.2" cy="92.4" r="1.54" fill="#82EC5A"/>
<circle cx="121.8" cy="99.1" r="1.54" fill="#DAAA38"/>
<circle cx="133.1" cy="81.4" r="1.54" fill="#8FD8F8"/>
<circle cx="131.2" cy="102.4" r="1.54" fill="#8FD8F8"/>
<circle cx="188.9" cy="63.1" r="1.54" fill="#8FD8F8"/>
<circle cx="205.9" cy="58.2" r="1.54" fill="#8FD8F8"/>
<circle cx="566.9" cy="111.0" r="1.53" fill="#CC99FF"/>
<circle cx="180.8" cy="48.1" r="1.53" fill="#DAAA38"/>
<circle cx="212.6" cy="63.6" r="1.53" fill="#8FD8F8"/>
<circle cx="496.9" cy="121.8" r="1.53" fill="#82EC5A"/>
<circle cx="562.2" cy="62.2" r="1.53" fill="#8FD8F8"/>
<circle cx="532.9" cy="107.8" r="1.53" fill="#82EC5A"/>
<circle cx="498.5" cy="113.8" r="1.53" fill="#8FD8F8"/>
<circle cx="584.2" cy="64.0" r="1.53" fill="#82EC5A"/>
<circle cx="543.9" cy="119.0" r="1.53" fill="#82EC5A"/>
<circle cx="588.9" cy="61.8" r="1.53" fill="#82EC5A"/>
<circle cx="171.3" cy="81.0" r="1.53" fill="#8FD8F8"/>
<circle cx="183.2" cy="106.4" r="1.53" fill="#CC99FF"/>
<circle cx="166.0" cy="83.0" r="1.53" fill="#8FD8F8"/>
<circle cx="156.9" cy="138.3" r="1.53" fill="#CC99FF"/>
<circle cx="217.1" cy="91.0" r="1.53" fill="#CC99FF"/>
<circle cx="560.0" cy="86.9" r="1.52" fill="#8FD8F8"/>
<circle cx="244.1" cy="46.0" r="1.52" fill="#8FD8F8"/>
<circle cx="132.0" cy="114.1" r="1.52" fill="#CC99FF"/>
<circle cx="150.2" cy="91.6" r="1.52" fill="#8FD8F8"/>
<circle cx="132.0" cy="98.3" r="1.52" fill="#8FD8F8"/>
<circle cx="608.9" cy="51.6" r="1.52" fill="#82EC5A"/>
<circle cx="157.9" cy="98.7" r="1.52" fill="#CC99FF"/>
<circle cx="132.3" cy="80.8" r="1.52" fill="#8FD8F8"/>
<circle cx="161.1" cy="65.5" r="1.52" fill="#8FD8F8"/>
<circle cx="203.1" cy="73.6" r="1.52" fill="#8FD8F8"/>
<circle cx="588.1" cy="84.3" r="1.52" fill="#82EC5A"/>
<circle cx="458.7" cy="125.9" r="1.52" fill="#8FD8F8"/>
<circle cx="522.0" cy="147.5" r="1.51" fill="#CC99FF"/>
<circle cx="557.9" cy="71.2" r="1.51" fill="#8FD8F8"/>
<circle cx="185.5" cy="105.0" r="1.51" fill="#CC99FF"/>
<circle cx="137.3" cy="133.5" r="1.51" fill="#8FD8F8"/>
<circle cx="497.0" cy="102.0" r="1.51" fill="#82EC5A"/>
<circle cx="229.8" cy="19.7" r="1.51" fill="#DAAA38"/>
<circle cx="519.4" cy="107.7" r="1.51" fill="#82EC5A"/>
<circle cx="178.7" cy="94.2" r="1.51" fill="#8FD8F8"/>
<circle cx="268.2" cy="20.2" r="1.51" fill="#8FD8F8"/>
<circle cx="212.4" cy="79.1" r="1.51" fill="#8FD8F8"/>
<circle cx="135.3" cy="85.3" r="1.51" fill="#8FD8F8"/>
<circle cx="127.5" cy="116.1" r="1.51" fill="#CC99FF"/>
<circle cx="98.5" cy="119.4" r="1.51" fill="#8FD8F8"/>
<circle cx="288.2" cy="73.8" r="1.50" fill="#CC99FF"/>
<circle cx="481.5" cy="132.5" r="1.50" fill="#82EC5A"/>
<circle cx="96.7" cy="105.1" r="1.50" fill="#8FD8F8"/>
<circle cx="532.7" cy="138.1" r="1.50" fill="#CC99FF"/>
<circle cx="528.7" cy="118.2" r="1.50" fill="#CC99FF"/>
<circle cx="558.1" cy="103.8" r="1.50" fill="#82EC5A"/>
<circle cx="189.1" cy="60.7" r="1.50" fill="#8FD8F8"/>
<circle cx="552.7" cy="74.3" r="1.50" fill="#8FD8F8"/>
<circle cx="590.2" cy="43.7" r="1.50" fill="#F0939B"/>
<circle cx="167.1" cy="85.5" r="1.50" fill="#F0939B"/>
<circle cx="150.4" cy="86.6" r="1.50" fill="#8FD8F8"/>
<circle cx="585.8" cy="38.0" r="1.50" fill="#F0939B"/>
<circle cx="478.4" cy="139.6" r="1.50" fill="#82EC5A"/>
<circle cx="484.0" cy="109.8" r="1.50" fill="#F0939B"/>
<circle cx="537.7" cy="89.7" r="1.50" fill="#82EC5A"/>
<circle cx="167.4" cy="100.0" r="1.50" fill="#CC99FF"/>
<circle cx="126.8" cy="140.4" r="1.49" fill="#CC99FF"/>
<circle cx="111.3" cy="114.1" r="1.49" fill="#DAAA38"/>
<circle cx="225.6" cy="58.7" r="1.49" fill="#8FD8F8"/>
<circle cx="584.3" cy="66.8" r="1.49" fill="#82EC5A"/>
<circle cx="503.4" cy="102.7" r="1.49" fill="#8FD8F8"/>
<circle cx="194.5" cy="73.6" r="1.49" fill="#8FD8F8"/>
<circle cx="555.0" cy="71.8" r="1.49" fill="#8FD8F8"/>
<circle cx="153.7" cy="82.8" r="1.49" fill="#8FD8F8"/>
<circle cx="111.4" cy="99.2" r="1.49" fill="#8FD8F8"/>
<circle cx="93.8" cy="108.8" r="1.49" fill="#DAAA38"/>
<circle cx="487.1" cy="112.9" r="1.49" fill="#8FD8F8"/>
<circle cx="158.6" cy="96.2" r="1.48" fill="#8FD8F8"/>
<circle cx="513.4" cy="69.6" r="1.48" fill="#F0939B"/>
<circle cx="244.0" cy="25.8" r="1.48" fill="#8FD8F8"/>
<circle cx="158.4" cy="104.1" r="1.48" fill="#8FD8F8"/>
<circle cx="608.8" cy="93.1" r="1.48" fill="#CC99FF"/>
<circle cx="184.1" cy="97.6" r="1.48" fill="#CC99FF"/>
<circle cx="98.4" cy="143.6" r="1.48" fill="#BBBBBB"/>
<circle cx="548.8" cy="72.2" r="1.48" fill="#82EC5A"/>
<circle cx="499.0" cy="112.3" r="1.48" fill="#8FD8F8"/>
<circle cx="508.3" cy="101.1" r="1.48" fill="#8FD8F8"/>
<circle cx="138.8" cy="112.3" r="1.48" fill="#8FD8F8"/>
<circle cx="197.2" cy="67.6" r="1.48" fill="#8FD8F8"/>
<circle cx="159.8" cy="60.2" r="1.48" fill="#DAAA38"/>
<circle cx="277.6" cy="22.5" r="1.48" fill="#8FD8F8"/>
<circle cx="117.2" cy="120.6" r="1.47" fill="#CC99FF"/>
<circle cx="516.9" cy="108.7" r="1.47" fill="#82EC5A"/>
<circle cx="217.7" cy="64.0" r="1.47" fill="#8FD8F8"/>
<circle cx="95.1" cy="103.0" r="1.47" fill="#8FD8F8"/>
<circle cx="464.6" cy="115.5" r="1.47" fill="#8FD8F8"/>
<circle cx="264.0" cy="95.6" r="1.47" fill="#CC99FF"/>
<circle cx="574.0" cy="75.8" r="1.47" fill="#F0939B"/>
<circle cx="465.2" cy="118.4" r="1.47" fill="#F0939B"/>
<circle cx="172.2" cy="96.7" r="1.47" fill="#8FD8F8"/>
<circle cx="431.7" cy="133.5" r="1.47" fill="#F0939B"/>
<circle cx="558.6" cy="128.6" r="1.47" fill="#CC99FF"/>
<circle cx="134.4" cy="108.7" r="1.47" fill="#CC99FF"/>
<circle cx="441.4" cy="118.4" r="1.47" fill="#8FD8F8"/>
<circle cx="150.6" cy="122.3" r="1.46" fill="#CC99FF"/>
<circle cx="156.1" cy="71.2" r="1.46" fill="#8FD8F8"/>
<circle cx="165.0" cy="84.7" r="1.46" fill="#8FD8F8"/>
<circle cx="552.1" cy="119.3" r="1.46" fill="#CC99FF"/>
<circle cx="455.8" cy="122.3" r="1.46" fill="#8FD8F8"/>
<circle cx="499.5" cy="104.1" r="1.46" fill="#82EC5A"/>
<circle cx="535.7" cy="113.6" r="1.46" fill="#82EC5A"/>
<circle cx="147.9" cy="124.1" r="1.46" fill="#F0939B"/>
<circle cx="456.2" cy="129.9" r="1.46" fill="#8FD8F8"/>
<circle cx="617.9" cy="46.8" r="1.46" fill="#F0939B"/>
<circle cx="646.1" cy="55.1" r="1.45" fill="#8FD8F8"/>
<circle cx="447.7" cy="116.7" r="1.45" fill="#8FD8F8"/>
<circle cx="146.0" cy="95.2" r="1.45" fill="#8FD8F8"/>
<circle cx="102.8" cy="96.7" r="1.45" fill="#DAAA38"/>
<circle cx="193.8" cy="82.4" r="1.45" fill="#CC99FF"/>
<circle cx="166.5" cy="92.3" r="1.45" fill="#CC99FF"/>
<circle cx="628.9" cy="73.4" r="1.45" fill="#F0939B"/>
<circle cx="102.6" cy="146.9" r="1.44" fill="#BBBBBB"/>
<circle cx="125.3" cy="93.0" r="1.44" fill="#8FD8F8"/>
<circle cx="174.1" cy="100.8" r="1.44" fill="#CC99FF"/>
<circle cx="459.3" cy="108.4" r="1.44" fill="#F0939B"/>
<circle cx="531.2" cy="121.2" r="1.44" fill="#CC99FF"/>
<circle cx="94.3" cy="121.5" r="1.44" fill="#8FD8F8"/>
<circle cx="573.4" cy="69.8" r="1.44" fill="#82EC5A"/>
<circle cx="128.4" cy="110.7" r="1.44" fill="#CC99FF"/>
<circle cx="474.9" cy="112.5" r="1.43" fill="#8FD8F8"/>
<circle cx="206.5" cy="91.1" r="1.43" fill="#CC99FF"/>
<circle cx="547.6" cy="102.0" r="1.43" fill="#82EC5A"/>
<circle cx="143.5" cy="86.0" r="1.43" fill="#8FD8F8"/>
<circle cx="615.6" cy="19.5" r="1.43" fill="#8FD8F8"/>
<circle cx="176.3" cy="93.0" r="1.43" fill="#CC99FF"/>
<circle cx="227.7" cy="43.4" r="1.43" fill="#8FD8F8"/>
<circle cx="457.0" cy="135.7" r="1.43" fill="#8FD8F8"/>
<circle cx="525.2" cy="93.1" r="1.43" fill="#8FD8F8"/>
<circle cx="269.6" cy="90.8" r="1.43" fill="#F0939B"/>
<circle cx="110.3" cy="103.1" r="1.43" fill="#8FD8F8"/>
<circle cx="124.2" cy="144.1" r="1.43" fill="#CC99FF"/>
<circle cx="168.6" cy="97.3" r="1.43" fill="#8FD8F8"/>
<circle cx="118.6" cy="105.8" r="1.43" fill="#8FD8F8"/>
<circle cx="540.0" cy="85.6" r="1.43" fill="#8FD8F8"/>
<circle cx="186.7" cy="70.4" r="1.42" fill="#8FD8F8"/>
<circle cx="147.9" cy="86.0" r="1.42" fill="#8FD8F8"/>
<circle cx="181.2" cy="96.2" r="1.42" fill="#CC99FF"/>
<circle cx="162.5" cy="106.8" r="1.42" fill="#8FD8F8"/>
<circle cx="198.2" cy="96.4" r="1.42" fill="#CC99FF"/>
<circle cx="80.5" cy="132.7" r="1.42" fill="#8FD8F8"/>
<circle cx="448.1" cy="123.7" r="1.42" fill="#F0939B"/>
<circle cx="533.7" cy="86.5" r="1.42" fill="#82EC5A"/>
<circle cx="172.9" cy="62.0" r="1.42" fill="#8FD8F8"/>
<circle cx="453.4" cy="133.1" r="1.42" fill="#8FD8F8"/>
<circle cx="472.0" cy="131.9" r="1.42" fill="#82EC5A"/>
<circle cx="489.0" cy="124.8" r="1.42" fill="#8FD8F8"/>
<circle cx="127.3" cy="97.9" r="1.42" fill="#DAAA38"/>
<circle cx="545.0" cy="104.4" r="1.42" fill="#82EC5A"/>
<circle cx="598.6" cy="91.0" r="1.41" fill="#CC99FF"/>
<circle cx="463.0" cy="133.1" r="1.41" fill="#8FD8F8"/>
<circle cx="118.7" cy="121.1" r="1.41" fill="#8FD8F8"/>
<circle cx="245.1" cy="78.1" r="1.41" fill="#CC99FF"/>
<circle cx="108.1" cy="113.9" r="1.41" fill="#8FD8F8"/>
<circle cx="175.6" cy="96.2" r="1.41" fill="#CC99FF"/>
<circle cx="196.6" cy="70.5" r="1.40" fill="#8FD8F8"/>
<circle cx="195.0" cy="59.4" r="1.40" fill="#8FD8F8"/>
<circle cx="499.4" cy="103.5" r="1.40" fill="#8FD8F8"/>
<circle cx="164.4" cy="83.3" r="1.40" fill="#CC99FF"/>
<circle cx="119.1" cy="111.9" r="1.40" fill="#8FD8F8"/>
<circle cx="539.0" cy="75.2" r="1.40" fill="#8FD8F8"/>
<circle cx="192.0" cy="55.3" r="1.40" fill="#8FD8F8"/>
<circle cx="208.8" cy="53.4" r="1.40" fill="#8FD8F8"/>
<circle cx="154.2" cy="96.3" r="1.40" fill="#8FD8F8"/>
<circle cx="116.3" cy="93.8" r="1.40" fill="#DAAA38"/>
<circle cx="192.6" cy="58.6" r="1.39" fill="#8FD8F8"/>
<circle cx="456.4" cy="123.7" r="1.39" fill="#8FD8F8"/>
<circle cx="152.8" cy="87.5" r="1.39" fill="#8FD8F8"/>
<circle cx="556.2" cy="110.1" r="1.39" fill="#CC99FF"/>
<circle cx="185.3" cy="75.9" r="1.39" fill="#8FD8F8"/>
<circle cx="116.9" cy="95.8" r="1.39" fill="#8FD8F8"/>
<circle cx="526.8" cy="112.0" r="1.39" fill="#82EC5A"/>
<circle cx="184.7" cy="107.0" r="1.39" fill="#CC99FF"/>
<circle cx="571.0" cy="109.2" r="1.39" fill="#CC99FF"/>
<circle cx="466.2" cy="117.2" r="1.38" fill="#8FD8F8"/>
<circle cx="487.7" cy="104.7" r="1.38" fill="#8FD8F8"/>
<circle cx="171.3" cy="102.3" r="1.38" fill="#CC99FF"/>
<circle cx="85.8" cy="123.4" r="1.38" fill="#DAAA38"/>
<circle cx="122.2" cy="122.6" r="1.38" fill="#CC99FF"/>
<circle cx="513.7" cy="81.1" r="1.38" fill="#8FD8F8"/>
<circle cx="129.3" cy="137.6" r="1.38" fill="#CC99FF"/>
<circle cx="545.1" cy="94.0" r="1.38" fill="#82EC5A"/>
<circle cx="174.8" cy="60.9" r="1.38" fill="#8FD8F8"/>
<circle cx="545.1" cy="55.8" r="1.38" fill="#8FD8F8"/>
<circle cx="152.2" cy="95.8" r="1.38" fill="#8FD8F8"/>
<circle cx="543.6" cy="89.7" r="1.38" fill="#82EC5A"/>
<circle cx="148.4" cy="90.5" r="1.38" fill="#8FD8F8"/>
<circle cx="132.9" cy="100.1" r="1.38" fill="#8FD8F8"/>
<circle cx="112.0" cy="109.1" r="1.38" fill="#8FD8F8"/>
<circle cx="470.7" cy="112.4" r="1.38" fill="#8FD8F8"/>
<circle cx="138.5" cy="100.5" r="1.38" fill="#8FD8F8"/>
<circle cx="560.4" cy="84.4" r="1.38" fill="#82EC5A"/>
<circle cx="176.4" cy="78.5" r="1.37" fill="#8FD8F8"/>
<circle cx="473.2" cy="124.8" r="1.37" fill="#8FD8F8"/>
<circle cx="173.3" cy="110.9" r="1.37" fill="#CC99FF"/>
<circle cx="512.4" cy="93.8" r="1.37" fill="#82EC5A"/>
<circle cx="113.1" cy="113.2" r="1.37" fill="#8FD8F8"/>
<circle cx="549.6" cy="119.7" r="1.37" fill="#82EC5A"/>
<circle cx="106.0" cy="97.0" r="1.37" fill="#8FD8F8"/>
<circle cx="584.9" cy="64.0" r="1.37" fill="#82EC5A"/>
<circle cx="114.1" cy="100.2" r="1.37" fill="#8FD8F8"/>
<circle cx="186.6" cy="49.1" r="1.37" fill="#8FD8F8"/>
<circle cx="126.1" cy="100.4" r="1.37" fill="#8FD8F8"/>
<circle cx="249.6" cy="17.8" r="1.37" fill="#BBBBBB"/>
<circle cx="505.7" cy="110.7" r="1.36" fill="#8FD8F8"/>
<circle cx="464.2" cy="125.3" r="1.36" fill="#8FD8F8"/>
<circle cx="535.1" cy="94.6" r="1.36" fill="#8FD8F8"/>
<circle cx="127.4" cy="111.4" r="1.36" fill="#8FD8F8"/>
<circle cx="129.5" cy="139.6" r="1.36" fill="#BBBBBB"/>
<circle cx="211.2" cy="33.3" r="1.36" fill="#8FD8F8"/>
<circle cx="175.6" cy="59.4" r="1.36" fill="#8FD8F8"/>
<circle cx="584.6" cy="128.2" r="1.36" fill="#CC99FF"/>
<circle cx="227.9" cy="31.3" r="1.36" fill="#BBBBBB"/>
<circle cx="464.4" cy="106.7" r="1.36" fill="#F0939B"/>
<circle cx="154.1" cy="150.6" r="1.35" fill="#F0939B"/>
<circle cx="543.9" cy="94.6" r="1.35" fill="#F0939B"/>
<circle cx="480.1" cy="143.1" r="1.35" fill="#82EC5A"/>
<circle cx="477.4" cy="127.8" r="1.35" fill="#8FD8F8"/>
<circle cx="489.8" cy="123.8" r="1.35" fill="#8FD8F8"/>
<circle cx="503.4" cy="120.4" r="1.35" fill="#82EC5A"/>
<circle cx="158.7" cy="106.8" r="1.35" fill="#8FD8F8"/>
<circle cx="571.5" cy="107.6" r="1.35" fill="#82EC5A"/>
<circle cx="576.7" cy="78.7" r="1.35" fill="#82EC5A"/>
<circle cx="518.3" cy="140.2" r="1.35" fill="#82EC5A"/>
<circle cx="487.1" cy="101.0" r="1.35" fill="#8FD8F8"/>
<circle cx="570.4" cy="63.0" r="1.35" fill="#82EC5A"/>
<circle cx="558.2" cy="83.1" r="1.35" fill="#8FD8F8"/>
<circle cx="548.1" cy="81.4" r="1.35" fill="#8FD8F8"/>
<circle cx="156.6" cy="106.8" r="1.34" fill="#CC99FF"/>
<circle cx="458.0" cy="119.4" r="1.34" fill="#8FD8F8"/>
<circle cx="139.1" cy="93.4" r="1.34" fill="#8FD8F8"/>
<circle cx="258.7" cy="18.9" r="1.34" fill="#8FD8F8"/>
<circle cx="136.4" cy="94.9" r="1.34" fill="#8FD8F8"/>
<circle cx="204.1" cy="44.9" r="1.34" fill="#8FD8F8"/>
<circle cx="487.1" cy="108.6" r="1.34" fill="#8FD8F8"/>
<circle cx="172.9" cy="73.0" r="1.34" fill="#8FD8F8"/>
<circle cx="169.4" cy="104.5" r="1.34" fill="#CC99FF"/>
<circle cx="611.0" cy="31.2" r="1.34" fill="#8FD8F8"/>
<circle cx="170.5" cy="71.0" r="1.34" fill="#8FD8F8"/>
<circle cx="107.9" cy="121.3" r="1.33" fill="#8FD8F8"/>
<circle cx="194.2" cy="56.1" r="1.33" fill="#8FD8F8"/>
<circle cx="302.8" cy="64.4" r="1.33" fill="#BBBBBB"/>
<circle cx="285.2" cy="61.5" r="1.33" fill="#BBBBBB"/>
<circle cx="91.3" cy="140.8" r="1.33" fill="#BBBBBB"/>
<circle cx="178.8" cy="55.6" r="1.33" fill="#8FD8F8"/>
<circle cx="159.6" cy="68.0" r="1.33" fill="#8FD8F8"/>
<circle cx="242.7" cy="21.2" r="1.33" fill="#8FD8F8"/>
<circle cx="566.5" cy="92.4" r="1.33" fill="#82EC5A"/>
<circle cx="139.4" cy="103.2" r="1.32" fill="#CC99FF"/>
<circle cx="197.7" cy="54.1" r="1.32" fill="#8FD8F8"/>
<circle cx="154.2" cy="105.0" r="1.32" fill="#CC99FF"/>
<circle cx="454.1" cy="129.5" r="1.32" fill="#8FD8F8"/>
<circle cx="117.9" cy="84.5" r="1.32" fill="#DAAA38"/>
<circle cx="168.4" cy="132.0" r="1.32" fill="#BBBBBB"/>
<circle cx="447.2" cy="118.5" r="1.32" fill="#8FD8F8"/>
<circle cx="211.5" cy="62.1" r="1.31" fill="#8FD8F8"/>
<circle cx="590.5" cy="89.4" r="1.31" fill="#CC99FF"/>
<circle cx="491.3" cy="93.4" r="1.31" fill="#8FD8F8"/>
<circle cx="505.0" cy="113.7" r="1.31" fill="#82EC5A"/>
<circle cx="511.0" cy="112.0" r="1.31" fill="#8FD8F8"/>
<circle cx="571.6" cy="76.7" r="1.31" fill="#8FD8F8"/>
<circle cx="181.6" cy="61.9" r="1.31" fill="#8FD8F8"/>
<circle cx="538.4" cy="80.1" r="1.31" fill="#8FD8F8"/>
<circle cx="165.8" cy="60.2" r="1.31" fill="#DAAA38"/>
<circle cx="167.4" cy="99.0" r="1.30" fill="#CC99FF"/>
<circle cx="489.6" cy="99.6" r="1.30" fill="#8FD8F8"/>
<circle cx="177.4" cy="63.8" r="1.30" fill="#8FD8F8"/>
<circle cx="580.6" cy="82.9" r="1.30" fill="#82EC5A"/>
<circle cx="497.4" cy="125.8" r="1.30" fill="#F0939B"/>
<circle cx="84.6" cy="112.6" r="1.30" fill="#8FD8F8"/>
<circle cx="502.3" cy="98.6" r="1.30" fill="#8FD8F8"/>
<circle cx="82.8" cy="129.0" r="1.30" fill="#DAAA38"/>
<circle cx="120.1" cy="113.8" r="1.30" fill="#8FD8F8"/>
<circle cx="160.0" cy="95.4" r="1.30" fill="#8FD8F8"/>
<circle cx="161.7" cy="111.7" r="1.30" fill="#CC99FF"/>
<circle cx="157.1" cy="83.5" r="1.30" fill="#8FD8F8"/>
<circle cx="93.9" cy="143.1" r="1.30" fill="#BBBBBB"/>
<circle cx="155.2" cy="96.0" r="1.30" fill="#CC99FF"/>
<circle cx="484.7" cy="133.2" r="1.30" fill="#82EC5A"/>
<circle cx="580.2" cy="73.7" r="1.29" fill="#82EC5A"/>
<circle cx="97.9" cy="99.1" r="1.29" fill="#DAAA38"/>
<circle cx="606.4" cy="29.8" r="1.29" fill="#8FD8F8"/>
<circle cx="205.3" cy="87.8" r="1.29" fill="#CC99FF"/>
<circle cx="104.3" cy="106.7" r="1.29" fill="#8FD8F8"/>
<circle cx="501.8" cy="103.5" r="1.29" fill="#82EC5A"/>
<circle cx="483.9" cy="105.6" r="1.29" fill="#82EC5A"/>
<circle cx="163.1" cy="96.6" r="1.29" fill="#CC99FF"/>
<circle cx="152.1" cy="94.5" r="1.29" fill="#8FD8F8"/>
<circle cx="176.0" cy="74.3" r="1.28" fill="#8FD8F8"/>
<circle cx="164.9" cy="104.8" r="1.28" fill="#8FD8F8"/>
<circle cx="129.2" cy="104.5" r="1.28" fill="#8FD8F8"/>
<circle cx="517.5" cy="113.0" r="1.28" fill="#82EC5A"/>
<circle cx="72.8" cy="120.9" r="1.28" fill="#DAAA38"/>
<circle cx="583.1" cy="66.7" r="1.28" fill="#82EC5A"/>
<circle cx="544.8" cy="57.5" r="1.28" fill="#F0939B"/>
<circle cx="133.2" cy="122.1" r="1.28" fill="#8FD8F8"/>
<circle cx="104.9" cy="144.7" r="1.28" fill="#8FD8F8"/>
<circle cx="125.8" cy="100.7" r="1.28" fill="#DAAA38"/>
<circle cx="513.7" cy="86.6" r="1.28" fill="#8FD8F8"/>
<circle cx="551.1" cy="107.8" r="1.28" fill="#82EC5A"/>
<circle cx="241.8" cy="26.2" r="1.28" fill="#DAAA38"/>
<circle cx="464.4" cy="117.0" r="1.28" fill="#8FD8F8"/>
<circle cx="194.5" cy="65.2" r="1.28" fill="#8FD8F8"/>
<circle cx="541.3" cy="114.2" r="1.28" fill="#CC99FF"/>
<circle cx="595.2" cy="63.8" r="1.28" fill="#82EC5A"/>
<circle cx="516.4" cy="103.0" r="1.28" fill="#8FD8F8"/>
<circle cx="525.6" cy="100.9" r="1.28" fill="#82EC5A"/>
<circle cx="155.5" cy="86.9" r="1.28" fill="#8FD8F8"/>
<circle cx="250.2" cy="61.3" r="1.27" fill="#BBBBBB"/>
<circle cx="610.1" cy="91.1" r="1.27" fill="#82EC5A"/>
<circle cx="91.9" cy="148.9" r="1.27" fill="#BBBBBB"/>
<circle cx="573.9" cy="107.5" r="1.27" fill="#CC99FF"/>
<circle cx="545.1" cy="69.9" r="1.27" fill="#8FD8F8"/>
<circle cx="186.0" cy="86.9" r="1.27" fill="#8FD8F8"/>
<circle cx="472.8" cy="118.8" r="1.27" fill="#8FD8F8"/>
<circle cx="151.6" cy="119.3" r="1.27" fill="#CC99FF"/>
<circle cx="169.9" cy="100.7" r="1.27" fill="#CC99FF"/>
<circle cx="163.7" cy="82.8" r="1.26" fill="#8FD8F8"/>
<circle cx="140.8" cy="80.6" r="1.26" fill="#8FD8F8"/>
<circle cx="126.0" cy="118.7" r="1.26" fill="#8FD8F8"/>
<circle cx="504.8" cy="108.1" r="1.26" fill="#8FD8F8"/>
<circle cx="178.9" cy="99.7" r="1.26" fill="#CC99FF"/>
<circle cx="103.8" cy="116.9" r="1.26" fill="#DAAA38"/>
<circle cx="530.2" cy="73.5" r="1.26" fill="#8FD8F8"/>
<circle cx="190.4" cy="68.8" r="1.26" fill="#8FD8F8"/>
<circle cx="495.2" cy="111.4" r="1.26" fill="#8FD8F8"/>
<circle cx="148.6" cy="113.2" r="1.26" fill="#CC99FF"/>
<circle cx="168.4" cy="103.6" r="1.26" fill="#8FD8F8"/>
<circle cx="542.2" cy="138.9" r="1.25" fill="#82EC5A"/>
<circle cx="247.4" cy="25.6" r="1.25" fill="#F0939B"/>
<circle cx="125.6" cy="110.3" r="1.25" fill="#8FD8F8"/>
<circle cx="461.3" cy="129.5" r="1.25" fill="#8FD8F8"/>
<circle cx="166.8" cy="77.5" r="1.25" fill="#8FD8F8"/>
<circle cx="445.7" cy="139.1" r="1.25" fill="#8FD8F8"/>
<circle cx="187.3" cy="106.6" r="1.25" fill="#CC99FF"/>
<circle cx="508.0" cy="92.6" r="1.25" fill="#F0939B"/>
<circle cx="477.4" cy="123.2" r="1.25" fill="#8FD8F8"/>
<circle cx="454.4" cy="107.3" r="1.25" fill="#F0939B"/>
<circle cx="124.3" cy="85.7" r="1.25" fill="#DAAA38"/>
<circle cx="169.9" cy="110.3" r="1.25" fill="#8FD8F8"/>
<circle cx="212.2" cy="46.4" r="1.25" fill="#8FD8F8"/>
<circle cx="495.9" cy="122.3" r="1.24" fill="#82EC5A"/>
<circle cx="564.8" cy="124.2" r="1.24" fill="#CC99FF"/>
<circle cx="204.9" cy="72.6" r="1.24" fill="#8FD8F8"/>
<circle cx="116.9" cy="133.4" r="1.24" fill="#CC99FF"/>
<circle cx="108.1" cy="133.8" r="1.24" fill="#CC99FF"/>
<circle cx="161.1" cy="98.8" r="1.24" fill="#8FD8F8"/>
<circle cx="114.1" cy="112.3" r="1.24" fill="#8FD8F8"/>
<circle cx="451.8" cy="122.0" r="1.24" fill="#8FD8F8"/>
<circle cx="280.5" cy="42.9" r="1.24" fill="#CC99FF"/>
<circle cx="458.1" cy="109.4" r="1.24" fill="#8FD8F8"/>
<circle cx="293.7" cy="44.8" r="1.23" fill="#BBBBBB"/>
<circle cx="571.6" cy="110.5" r="1.23" fill="#82EC5A"/>
<circle cx="124.3" cy="146.0" r="1.23" fill="#BBBBBB"/>
<circle cx="135.6" cy="92.0" r="1.23" fill="#8FD8F8"/>
<circle cx="155.4" cy="105.3" r="1.23" fill="#CC99FF"/>
<circle cx="505.5" cy="118.7" r="1.23" fill="#82EC5A"/>
<circle cx="181.2" cy="70.9" r="1.23" fill="#8FD8F8"/>
<circle cx="225.6" cy="48.7" r="1.23" fill="#8FD8F8"/>
<circle cx="482.5" cy="125.7" r="1.23" fill="#82EC5A"/>
<circle cx="137.7" cy="130.5" r="1.23" fill="#CC99FF"/>
<circle cx="614.1" cy="87.6" r="1.23" fill="#CC99FF"/>
<circle cx="173.8" cy="79.6" r="1.23" fill="#8FD8F8"/>
<circle cx="143.9" cy="113.7" r="1.23" fill="#CC99FF"/>
<circle cx="496.2" cy="120.9" r="1.22" fill="#82EC5A"/>
<circle cx="113.8" cy="132.2" r="1.22" fill="#BBBBBB"/>
<circle cx="78.3" cy="126.2" r="1.22" fill="#DAAA38"/>
<circle cx="547.8" cy="95.9" r="1.22" fill="#82EC5A"/>
<circle cx="128.8" cy="94.2" r="1.22" fill="#8FD8F8"/>
<circle cx="106.6" cy="101.2" r="1.22" fill="#8FD8F8"/>
<circle cx="177.7" cy="79.9" r="1.22" fill="#8FD8F8"/>
<circle cx="601.3" cy="63.8" r="1.22" fill="#82EC5A"/>
<circle cx="540.8" cy="129.6" r="1.22" fill="#82EC5A"/>
<circle cx="174.6" cy="56.4" r="1.22" fill="#8FD8F8"/>
<circle cx="616.6" cy="24.2" r="1.22" fill="#8FD8F8"/>
<circle cx="102.6" cy="116.3" r="1.22" fill="#8FD8F8"/>
<circle cx="207.3" cy="38.4" r="1.22" fill="#8FD8F8"/>
<circle cx="473.4" cy="100.6" r="1.21" fill="#8FD8F8"/>
<circle cx="468.0" cy="123.5" r="1.21" fill="#8FD8F8"/>
<circle cx="456.2" cy="128.2" r="1.21" fill="#82EC5A"/>
<circle cx="478.7" cy="104.1" r="1.21" fill="#8FD8F8"/>
<circle cx="503.8" cy="121.3" r="1.21" fill="#8FD8F8"/>
<circle cx="102.8" cy="120.9" r="1.21" fill="#DAAA38"/>
<circle cx="127.0" cy="108.5" r="1.21" fill="#CC99FF"/>
<circle cx="167.9" cy="92.1" r="1.21" fill="#8FD8F8"/>
<circle cx="188.8" cy="99.9" r="1.20" fill="#8FD8F8"/>
<circle cx="120.6" cy="123.4" r="1.20" fill="#CC99FF"/>
<circle cx="462.4" cy="104.3" r="1.20" fill="#8FD8F8"/>
<circle cx="518.9" cy="112.4" r="1.20" fill="#82EC5A"/>
<circle cx="539.6" cy="130.6" r="1.20" fill="#82EC5A"/>
<circle cx="124.8" cy="104.7" r="1.20" fill="#DAAA38"/>
<circle cx="125.0" cy="113.6" r="1.20" fill="#8FD8F8"/>
<circle cx="533.8" cy="126.5" r="1.20" fill="#82EC5A"/>
<circle cx="533.1" cy="106.8" r="1.20" fill="#82EC5A"/>
<circle cx="184.2" cy="67.1" r="1.20" fill="#8FD8F8"/>
<circle cx="454.8" cy="124.9" r="1.20" fill="#8FD8F8"/>
<circle cx="134.9" cy="125.3" r="1.20" fill="#CC99FF"/>
<circle cx="84.3" cy="126.2" r="1.20" fill="#DAAA38"/>
<circle cx="204.6" cy="78.8" r="1.20" fill="#8FD8F8"/>
<circle cx="136.6" cy="103.0" r="1.20" fill="#8FD8F8"/>
<circle cx="515.7" cy="93.0" r="1.20" fill="#8FD8F8"/>
<circle cx="529.4" cy="90.7" r="1.19" fill="#82EC5A"/>
<circle cx="466.7" cy="116.0" r="1.19" fill="#8FD8F8"/>
<circle cx="76.8" cy="146.7" r="1.19" fill="#BBBBBB"/>
<circle cx="514.6" cy="91.1" r="1.19" fill="#8FD8F8"/>
<circle cx="508.1" cy="102.9" r="1.19" fill="#F0939B"/>
<circle cx="633.9" cy="34.9" r="1.19" fill="#F0939B"/>
<circle cx="113.6" cy="123.1" r="1.19" fill="#8FD8F8"/>
<circle cx="187.0" cy="101.0" r="1.19" fill="#CC99FF"/>
<circle cx="554.6" cy="81.5" r="1.19" fill="#82EC5A"/>
<circle cx="594.3" cy="101.8" r="1.19" fill="#CC99FF"/>
<circle cx="479.0" cy="126.3" r="1.19" fill="#8FD8F8"/>
<circle cx="163.8" cy="107.9" r="1.19" fill="#CC99FF"/>
<circle cx="490.7" cy="99.9" r="1.18" fill="#8FD8F8"/>
<circle cx="154.2" cy="96.0" r="1.18" fill="#8FD8F8"/>
<circle cx="466.1" cy="141.2" r="1.18" fill="#82EC5A"/>
<circle cx="225.4" cy="92.4" r="1.18" fill="#F0939B"/>
<circle cx="505.3" cy="108.9" r="1.18" fill="#82EC5A"/>
<circle cx="113.7" cy="122.2" r="1.18" fill="#8FD8F8"/>
<circle cx="176.3" cy="84.0" r="1.18" fill="#8FD8F8"/>
<circle cx="277.8" cy="96.7" r="1.18" fill="#CC99FF"/>
<circle cx="156.2" cy="116.1" r="1.18" fill="#CC99FF"/>
<circle cx="447.0" cy="125.3" r="1.18" fill="#8FD8F8"/>
<circle cx="319.4" cy="79.9" r="1.18" fill="#CC99FF"/>
<circle cx="99.8" cy="132.5" r="1.18" fill="#CC99FF"/>
<circle cx="184.2" cy="85.8" r="1.18" fill="#8FD8F8"/>
<circle cx="122.8" cy="141.6" r="1.17" fill="#BBBBBB"/>
<circle cx="201.9" cy="59.7" r="1.17" fill="#8FD8F8"/>
<circle cx="458.2" cy="113.8" r="1.17" fill="#8FD8F8"/>
<circle cx="488.3" cy="115.9" r="1.17" fill="#8FD8F8"/>
<circle cx="446.6" cy="120.5" r="1.17" fill="#8FD8F8"/>
<circle cx="529.0" cy="94.7" r="1.17" fill="#8FD8F8"/>
<circle cx="128.5" cy="113.3" r="1.17" fill="#CC99FF"/>
<circle cx="487.1" cy="113.0" r="1.17" fill="#8FD8F8"/>
<circle cx="125.9" cy="131.5" r="1.17" fill="#CC99FF"/>
<circle cx="188.3" cy="78.9" r="1.16" fill="#8FD8F8"/>
<circle cx="526.5" cy="94.6" r="1.16" fill="#8FD8F8"/>
<circle cx="190.8" cy="109.0" r="1.16" fill="#CC99FF"/>
<circle cx="535.9" cy="68.6" r="1.16" fill="#8FD8F8"/>
<circle cx="167.5" cy="89.0" r="1.16" fill="#8FD8F8"/>
<circle cx="153.4" cy="125.8" r="1.16" fill="#F0939B"/>
<circle cx="474.4" cy="116.2" r="1.16" fill="#8FD8F8"/>
<circle cx="96.9" cy="96.7" r="1.16" fill="#DAAA38"/>
<circle cx="174.8" cy="83.6" r="1.16" fill="#8FD8F8"/>
<circle cx="113.7" cy="95.9" r="1.16" fill="#8FD8F8"/>
<circle cx="505.5" cy="134.8" r="1.16" fill="#CC99FF"/>
<circle cx="131.8" cy="82.9" r="1.16" fill="#DAAA38"/>
<circle cx="490.9" cy="141.2" r="1.16" fill="#82EC5A"/>
<circle cx="162.8" cy="106.0" r="1.16" fill="#CC99FF"/>
<circle cx="156.6" cy="111.3" r="1.15" fill="#CC99FF"/>
<circle cx="482.0" cy="117.0" r="1.15" fill="#8FD8F8"/>
<circle cx="443.3" cy="126.6" r="1.15" fill="#8FD8F8"/>
<circle cx="165.2" cy="104.6" r="1.15" fill="#CC99FF"/>
<circle cx="134.1" cy="85.2" r="1.15" fill="#8FD8F8"/>
<circle cx="531.9" cy="87.3" r="1.15" fill="#82EC5A"/>
<circle cx="576.6" cy="107.6" r="1.15" fill="#CC99FF"/>
<circle cx="633.7" cy="34.9" r="1.15" fill="#8FD8F8"/>
<circle cx="553.3" cy="114.1" r="1.15" fill="#CC99FF"/>
<circle cx="518.2" cy="121.0" r="1.15" fill="#82EC5A"/>
<circle cx="135.8" cy="100.9" r="1.15" fill="#8FD8F8"/>
<circle cx="126.9" cy="83.1" r="1.15" fill="#8FD8F8"/>
<circle cx="181.6" cy="73.1" r="1.15" fill="#8FD8F8"/>
<circle cx="127.8" cy="116.0" r="1.14" fill="#CC99FF"/>
<circle cx="88.9" cy="104.7" r="1.14" fill="#DAAA38"/>
<circle cx="187.6" cy="87.5" r="1.14" fill="#8FD8F8"/>
<circle cx="536.5" cy="81.1" r="1.14" fill="#82EC5A"/>
<circle cx="127.3" cy="111.8" r="1.14" fill="#8FD8F8"/>
<circle cx="497.9" cy="98.7" r="1.14" fill="#8FD8F8"/>
<circle cx="293.5" cy="44.5" r="1.14" fill="#8FD8F8"/>
<circle cx="202.4" cy="83.8" r="1.14" fill="#8FD8F8"/>
<circle cx="145.1" cy="91.9" r="1.14" fill="#8FD8F8"/>
<circle cx="198.6" cy="90.3" r="1.13" fill="#CC99FF"/>
<circle cx="209.5" cy="47.7" r="1.13" fill="#8FD8F8"/>
<circle cx="282.8" cy="80.4" r="1.13" fill="#F0939B"/>
<circle cx="553.5" cy="107.4" r="1.13" fill="#82EC5A"/>
<circle cx="182.7" cy="92.7" r="1.13" fill="#8FD8F8"/>
<circle cx="105.0" cy="139.9" r="1.13" fill="#CC99FF"/>
<circle cx="214.3" cy="66.0" r="1.13" fill="#8FD8F8"/>
<circle cx="505.5" cy="110.5" r="1.13" fill="#82EC5A"/>
<circle cx="469.7" cy="126.8" r="1.13" fill="#8FD8F8"/>
<circle cx="192.8" cy="55.2" r="1.12" fill="#8FD8F8"/>
<circle cx="110.9" cy="88.6" r="1.12" fill="#DAAA38"/>
<circle cx="507.5" cy="117.6" r="1.12" fill="#8FD8F8"/>
<circle cx="478.3" cy="115.3" r="1.12" fill="#8FD8F8"/>
<circle cx="556.9" cy="56.6" r="1.12" fill="#8FD8F8"/>
<circle cx="143.7" cy="109.5" r="1.12" fill="#CC99FF"/>
<circle cx="82.4" cy="110.0" r="1.12" fill="#DAAA38"/>
<circle cx="449.3" cy="127.7" r="1.12" fill="#8FD8F8"/>
<circle cx="641.3" cy="17.3" r="1.12" fill="#8FD8F8"/>
<circle cx="192.8" cy="104.9" r="1.12" fill="#CC99FF"/>
<circle cx="186.5" cy="53.2" r="1.12" fill="#8FD8F8"/>
<circle cx="78.8" cy="120.9" r="1.12" fill="#DAAA38"/>
<circle cx="598.0" cy="111.3" r="1.12" fill="#CC99FF"/>
<circle cx="219.2" cy="90.4" r="1.12" fill="#CC99FF"/>
<circle cx="297.5" cy="92.9" r="1.12" fill="#F0939B"/>
<circle cx="445.5" cy="127.8" r="1.12" fill="#8FD8F8"/>
<circle cx="491.3" cy="121.6" r="1.12" fill="#8FD8F8"/>
<circle cx="517.8" cy="85.2" r="1.12" fill="#F0939B"/>
<circle cx="178.3" cy="62.7" r="1.12" fill="#8FD8F8"/>
<circle cx="588.0" cy="88.4" r="1.11" fill="#CC99FF"/>
<circle cx="496.5" cy="127.9" r="1.11" fill="#82EC5A"/>
<circle cx="557.2" cy="91.9" r="1.11" fill="#82EC5A"/>
<circle cx="485.3" cy="120.0" r="1.11" fill="#8FD8F8"/>
<circle cx="557.7" cy="52.9" r="1.11" fill="#8FD8F8"/>
<circle cx="163.0" cy="80.4" r="1.11" fill="#8FD8F8"/>
<circle cx="257.7" cy="56.1" r="1.11" fill="#BBBBBB"/>
<circle cx="455.2" cy="121.3" r="1.11" fill="#8FD8F8"/>
<circle cx="139.1" cy="132.8" r="1.11" fill="#CC99FF"/>
<circle cx="113.8" cy="100.7" r="1.11" fill="#DAAA38"/>
<circle cx="212.6" cy="105.1" r="1.11" fill="#F0939B"/>
<circle cx="140.7" cy="91.5" r="1.11" fill="#8FD8F8"/>
<circle cx="539.4" cy="96.1" r="1.11" fill="#8FD8F8"/>
<circle cx="217.0" cy="65.6" r="1.11" fill="#8FD8F8"/>
<circle cx="130.1" cy="104.0" r="1.11" fill="#8FD8F8"/>
<circle cx="142.6" cy="85.4" r="1.11" fill="#8FD8F8"/>
<circle cx="411.3" cy="139.2" r="1.10" fill="#F0939B"/>
<circle cx="486.2" cy="142.1" r="1.10" fill="#82EC5A"/>
<circle cx="207.1" cy="53.1" r="1.10" fill="#8FD8F8"/>
<circle cx="194.1" cy="70.4" r="1.10" fill="#8FD8F8"/>
<circle cx="127.9" cy="154.6" r="1.10" fill="#BBBBBB"/>
<circle cx="624.6" cy="64.2" r="1.10" fill="#F0939B"/>
<circle cx="557.5" cy="68.9" r="1.10" fill="#8FD8F8"/>
<circle cx="158.7" cy="76.7" r="1.10" fill="#8FD8F8"/>
<circle cx="602.2" cy="76.8" r="1.10" fill="#82EC5A"/>
<circle cx="498.1" cy="129.9" r="1.10" fill="#82EC5A"/>
<circle cx="175.0" cy="104.8" r="1.10" fill="#F0939B"/>
<circle cx="141.6" cy="109.2" r="1.10" fill="#8FD8F8"/>
<circle cx="459.7" cy="141.8" r="1.09" fill="#82EC5A"/>
<circle cx="228.4" cy="50.4" r="1.09" fill="#8FD8F8"/>
<circle cx="473.1" cy="114.5" r="1.09" fill="#8FD8F8"/>
<circle cx="133.1" cy="127.4" r="1.09" fill="#CC99FF"/>
<circle cx="185.5" cy="80.8" r="1.09" fill="#8FD8F8"/>
<circle cx="518.1" cy="82.3" r="1.09" fill="#8FD8F8"/>
<circle cx="612.6" cy="33.8" r="1.09" fill="#8FD8F8"/>
<circle cx="143.4" cy="100.8" r="1.09" fill="#8FD8F8"/>
<circle cx="575.7" cy="105.5" r="1.09" fill="#CC99FF"/>
<circle cx="151.8" cy="83.1" r="1.09" fill="#8FD8F8"/>
<circle cx="612.2" cy="103.1" r="1.09" fill="#CC99FF"/>
<circle cx="133.6" cy="121.0" r="1.09" fill="#CC99FF"/>
<circle cx="173.5" cy="100.8" r="1.08" fill="#8FD8F8"/>
<circle cx="137.6" cy="135.5" r="1.08" fill="#CC99FF"/>
<circle cx="144.5" cy="120.4" r="1.08" fill="#CC99FF"/>
<circle cx="267.3" cy="77.8" r="1.08" fill="#F0939B"/>
<circle cx="123.8" cy="101.4" r="1.08" fill="#8FD8F8"/>
<circle cx="188.0" cy="56.8" r="1.08" fill="#8FD8F8"/>
<circle cx="167.7" cy="81.1" r="1.08" fill="#8FD8F8"/>
<circle cx="461.9" cy="123.7" r="1.08" fill="#8FD8F8"/>
<circle cx="118.2" cy="144.7" r="1.08" fill="#CC99FF"/>
<circle cx="144.6" cy="101.6" r="1.08" fill="#8FD8F8"/>
<circle cx="467.2" cy="100.7" r="1.08" fill="#8FD8F8"/>
<circle cx="174.4" cy="74.8" r="1.08" fill="#8FD8F8"/>
<circle cx="187.1" cy="77.5" r="1.07" fill="#8FD8F8"/>
<circle cx="226.4" cy="50.9" r="1.07" fill="#8FD8F8"/>
<circle cx="532.3" cy="107.6" r="1.07" fill="#82EC5A"/>
<circle cx="128.3" cy="119.8" r="1.07" fill="#CC99FF"/>
<circle cx="533.6" cy="90.8" r="1.07" fill="#8FD8F8"/>
<circle cx="175.7" cy="103.4" r="1.07" fill="#CC99FF"/>
<circle cx="579.5" cy="92.5" r="1.07" fill="#82EC5A"/>
<circle cx="155.4" cy="95.8" r="1.07" fill="#CC99FF"/>
<circle cx="613.3" cy="45.4" r="1.07" fill="#F0939B"/>
<circle cx="539.7" cy="106.6" r="1.07" fill="#82EC5A"/>
<circle cx="134.2" cy="119.6" r="1.07" fill="#CC99FF"/>
<circle cx="548.2" cy="111.9" r="1.07" fill="#CC99FF"/>
<circle cx="537.4" cy="99.6" r="1.07" fill="#82EC5A"/>
<circle cx="159.3" cy="106.5" r="1.07" fill="#CC99FF"/>
<circle cx="120.3" cy="145.0" r="1.07" fill="#BBBBBB"/>
<circle cx="135.7" cy="147.0" r="1.07" fill="#BBBBBB"/>
<circle cx="126.4" cy="89.5" r="1.06" fill="#8FD8F8"/>
<circle cx="526.8" cy="106.8" r="1.06" fill="#82EC5A"/>
<circle cx="134.3" cy="118.5" r="1.06" fill="#F0939B"/>
<circle cx="555.0" cy="71.3" r="1.06" fill="#82EC5A"/>
<circle cx="538.2" cy="124.7" r="1.06" fill="#CC99FF"/>
<circle cx="179.7" cy="101.4" r="1.06" fill="#CC99FF"/>
<circle cx="138.8" cy="129.7" r="1.06" fill="#CC99FF"/>
<circle cx="489.7" cy="125.1" r="1.06" fill="#82EC5A"/>
<circle cx="483.3" cy="116.6" r="1.06" fill="#8FD8F8"/>
<circle cx="466.9" cy="123.1" r="1.06" fill="#8FD8F8"/>
<circle cx="259.5" cy="76.2" r="1.06" fill="#8FD8F8"/>
<circle cx="127.3" cy="108.7" r="1.06" fill="#8FD8F8"/>
<circle cx="129.6" cy="116.8" r="1.05" fill="#CC99FF"/>
<circle cx="552.9" cy="101.7" r="1.05" fill="#82EC5A"/>
<circle cx="193.4" cy="71.4" r="1.05" fill="#8FD8F8"/>
<circle cx="474.7" cy="113.0" r="1.05" fill="#8FD8F8"/>
<circle cx="475.6" cy="117.4" r="1.05" fill="#8FD8F8"/>
<circle cx="135.6" cy="145.6" r="1.05" fill="#BBBBBB"/>
<circle cx="150.2" cy="98.4" r="1.05" fill="#8FD8F8"/>
<circle cx="543.0" cy="109.4" r="1.04" fill="#CC99FF"/>
<circle cx="279.3" cy="56.0" r="1.04" fill="#CC99FF"/>
<circle cx="239.2" cy="78.5" r="1.04" fill="#CC99FF"/>
<circle cx="154.0" cy="76.1" r="1.04" fill="#8FD8F8"/>
<circle cx="141.7" cy="109.0" r="1.04" fill="#8FD8F8"/>
<circle cx="281.5" cy="60.2" r="1.04" fill="#BBBBBB"/>
<circle cx="507.3" cy="89.1" r="1.04" fill="#8FD8F8"/>
<circle cx="199.5" cy="69.3" r="1.04" fill="#8FD8F8"/>
<circle cx="289.6" cy="34.4" r="1.04" fill="#8FD8F8"/>
<circle cx="152.4" cy="98.8" r="1.04" fill="#8FD8F8"/>
<circle cx="519.7" cy="114.4" r="1.04" fill="#82EC5A"/>
<circle cx="126.4" cy="146.5" r="1.03" fill="#BBBBBB"/>
<circle cx="140.3" cy="145.5" r="1.03" fill="#BBBBBB"/>
<circle cx="156.5" cy="92.5" r="1.03" fill="#8FD8F8"/>
<circle cx="205.4" cy="70.6" r="1.03" fill="#8FD8F8"/>
<circle cx="442.3" cy="139.0" r="1.03" fill="#8FD8F8"/>
<circle cx="567.7" cy="67.9" r="1.03" fill="#82EC5A"/>
<circle cx="169.0" cy="80.4" r="1.03" fill="#CC99FF"/>
<circle cx="521.0" cy="98.1" r="1.03" fill="#82EC5A"/>
<circle cx="565.2" cy="62.9" r="1.03" fill="#8FD8F8"/>
<circle cx="161.9" cy="114.1" r="1.03" fill="#CC99FF"/>
<circle cx="129.9" cy="81.6" r="1.03" fill="#8FD8F8"/>
<circle cx="594.3" cy="117.4" r="1.02" fill="#CC99FF"/>
<circle cx="226.6" cy="83.2" r="1.02" fill="#CC99FF"/>
<circle cx="145.3" cy="114.4" r="1.02" fill="#CC99FF"/>
<circle cx="216.1" cy="55.1" r="1.02" fill="#8FD8F8"/>
<circle cx="469.3" cy="132.7" r="1.02" fill="#8FD8F8"/>
<circle cx="541.9" cy="69.4" r="1.02" fill="#8FD8F8"/>
<circle cx="154.5" cy="72.7" r="1.02" fill="#8FD8F8"/>
<circle cx="136.6" cy="104.1" r="1.02" fill="#CC99FF"/>
<circle cx="151.5" cy="89.2" r="1.02" fill="#8FD8F8"/>
<circle cx="293.0" cy="70.2" r="1.02" fill="#BBBBBB"/>
<circle cx="531.5" cy="81.2" r="1.02" fill="#8FD8F8"/>
<circle cx="535.6" cy="122.6" r="1.02" fill="#CC99FF"/>
<circle cx="661.9" cy="50.6" r="1.02" fill="#8FD8F8"/>
<circle cx="248.1" cy="43.7" r="1.01" fill="#BBBBBB"/>
<circle cx="137.1" cy="146.5" r="1.01" fill="#CC99FF"/>
<circle cx="158.6" cy="84.7" r="1.01" fill="#8FD8F8"/>
<circle cx="533.9" cy="78.4" r="1.01" fill="#8FD8F8"/>
<circle cx="530.3" cy="78.2" r="1.01" fill="#F0939B"/>
<circle cx="127.6" cy="116.4" r="1.01" fill="#CC99FF"/>
<circle cx="168.4" cy="102.7" r="1.01" fill="#CC99FF"/>
<circle cx="166.4" cy="76.1" r="1.01" fill="#8FD8F8"/>
<circle cx="502.1" cy="84.0" r="1.01" fill="#8FD8F8"/>
<circle cx="139.0" cy="90.2" r="1.01" fill="#8FD8F8"/>
<circle cx="178.0" cy="97.4" r="1.00" fill="#8FD8F8"/>
<circle cx="544.5" cy="76.4" r="1.00" fill="#8FD8F8"/>
<circle cx="88.9" cy="121.2" r="1.00" fill="#8FD8F8"/>
<circle cx="193.8" cy="81.4" r="1.00" fill="#CC99FF"/>
<circle cx="614.6" cy="92.7" r="1.00" fill="#CC99FF"/>
<circle cx="104.0" cy="118.3" r="1.00" fill="#CC99FF"/>
<circle cx="177.2" cy="84.9" r="1.00" fill="#8FD8F8"/>
<circle cx="516.3" cy="87.6" r="1.00" fill="#8FD8F8"/>
<circle cx="228.8" cy="40.5" r="1.00" fill="#8FD8F8"/>
<circle cx="542.0" cy="70.3" r="1.00" fill="#82EC5A"/>
<circle cx="256.6" cy="68.5" r="1.00" fill="#CC99FF"/>
<circle cx="574.0" cy="73.5" r="1.00" fill="#82EC5A"/>
<circle cx="491.4" cy="120.9" r="0.99" fill="#82EC5A"/>
<circle cx="154.8" cy="86.6" r="0.99" fill="#8FD8F8"/>
<circle cx="508.5" cy="97.7" r="0.99" fill="#8FD8F8"/>
<circle cx="158.7" cy="95.3" r="0.99" fill="#CC99FF"/>
<circle cx="476.3" cy="92.9" r="0.99" fill="#F0939B"/>
<circle cx="155.3" cy="115.4" r="0.99" fill="#CC99FF"/>
<circle cx="98.6" cy="117.2" r="0.99" fill="#8FD8F8"/>
<circle cx="151.9" cy="116.1" r="0.99" fill="#CC99FF"/>
<circle cx="173.6" cy="106.2" r="0.99" fill="#8FD8F8"/>
<circle cx="156.1" cy="93.9" r="0.99" fill="#8FD8F8"/>
<circle cx="144.8" cy="116.5" r="0.99" fill="#8FD8F8"/>
<circle cx="155.9" cy="90.5" r="0.99" fill="#CC99FF"/>
<circle cx="109.2" cy="155.1" r="0.99" fill="#F0939B"/>
<circle cx="569.2" cy="100.9" r="0.98" fill="#CC99FF"/>
<circle cx="537.7" cy="132.3" r="0.98" fill="#CC99FF"/>
<circle cx="207.7" cy="68.6" r="0.98" fill="#8FD8F8"/>
<circle cx="126.4" cy="130.6" r="0.98" fill="#CC99FF"/>
<circle cx="169.7" cy="91.4" r="0.98" fill="#8FD8F8"/>
<circle cx="85.2" cy="146.2" r="0.98" fill="#BBBBBB"/>
<circle cx="551.6" cy="75.1" r="0.98" fill="#8FD8F8"/>
<circle cx="511.3" cy="97.7" r="0.98" fill="#8FD8F8"/>
<circle cx="181.5" cy="69.5" r="0.98" fill="#8FD8F8"/>
<circle cx="264.7" cy="90.9" r="0.98" fill="#BBBBBB"/>
<circle cx="170.2" cy="97.9" r="0.97" fill="#CC99FF"/>
<circle cx="145.8" cy="101.8" r="0.97" fill="#8FD8F8"/>
<circle cx="561.8" cy="77.7" r="0.97" fill="#8FD8F8"/>
<circle cx="456.5" cy="142.6" r="0.97" fill="#8FD8F8"/>
<circle cx="156.2" cy="125.2" r="0.97" fill="#CC99FF"/>
<circle cx="113.0" cy="140.2" r="0.97" fill="#BBBBBB"/>
<circle cx="82.5" cy="126.6" r="0.97" fill="#8FD8F8"/>
<circle cx="111.9" cy="110.4" r="0.97" fill="#8FD8F8"/>
<circle cx="77.4" cy="121.9" r="0.97" fill="#8FD8F8"/>
<circle cx="560.1" cy="81.2" r="0.97" fill="#82EC5A"/>
<circle cx="182.3" cy="86.8" r="0.97" fill="#8FD8F8"/>
<circle cx="601.6" cy="44.6" r="0.97" fill="#8FD8F8"/>
<circle cx="179.0" cy="65.3" r="0.96" fill="#8FD8F8"/>
<circle cx="530.6" cy="109.3" r="0.96" fill="#82EC5A"/>
<circle cx="575.9" cy="74.4" r="0.96" fill="#8FD8F8"/>
<circle cx="571.5" cy="79.2" r="0.96" fill="#82EC5A"/>
<circle cx="549.3" cy="120.5" r="0.96" fill="#CC99FF"/>
<circle cx="529.5" cy="91.5" r="0.96" fill="#8FD8F8"/>
<circle cx="228.6" cy="23.0" r="0.96" fill="#8FD8F8"/>
<circle cx="494.4" cy="101.8" r="0.96" fill="#82EC5A"/>
<circle cx="134.1" cy="127.2" r="0.96" fill="#CC99FF"/>
<circle cx="118.1" cy="138.6" r="0.96" fill="#BBBBBB"/>
<circle cx="527.7" cy="87.5" r="0.96" fill="#F0939B"/>
<circle cx="586.0" cy="117.2" r="0.96" fill="#CC99FF"/>
<circle cx="153.8" cy="132.8" r="0.96" fill="#F0939B"/>
<circle cx="103.4" cy="127.0" r="0.96" fill="#8FD8F8"/>
<circle cx="593.6" cy="79.9" r="0.96" fill="#8FD8F8"/>
<circle cx="224.4" cy="54.8" r="0.96" fill="#8FD8F8"/>
<circle cx="485.1" cy="106.2" r="0.96" fill="#8FD8F8"/>
<circle cx="511.5" cy="115.2" r="0.96" fill="#82EC5A"/>
<circle cx="506.8" cy="101.2" r="0.95" fill="#8FD8F8"/>
<circle cx="450.6" cy="126.7" r="0.95" fill="#8FD8F8"/>
<circle cx="244.9" cy="55.7" r="0.95" fill="#8FD8F8"/>
<circle cx="191.2" cy="81.6" r="0.95" fill="#F0939B"/>
<circle cx="484.7" cy="119.7" r="0.95" fill="#82EC5A"/>
<circle cx="510.1" cy="104.5" r="0.95" fill="#8FD8F8"/>
<circle cx="199.6" cy="67.6" r="0.95" fill="#8FD8F8"/>
<circle cx="514.1" cy="84.5" r="0.95" fill="#8FD8F8"/>
<circle cx="120.9" cy="124.4" r="0.95" fill="#CC99FF"/>
<circle cx="144.6" cy="92.5" r="0.94" fill="#8FD8F8"/>
<circle cx="126.6" cy="95.0" r="0.94" fill="#8FD8F8"/>
<circle cx="116.7" cy="106.0" r="0.94" fill="#8FD8F8"/>
<circle cx="514.4" cy="132.0" r="0.94" fill="#82EC5A"/>
<circle cx="512.2" cy="97.5" r="0.94" fill="#82EC5A"/>
<circle cx="556.9" cy="75.7" r="0.94" fill="#8FD8F8"/>
<circle cx="534.3" cy="136.9" r="0.94" fill="#CC99FF"/>
<circle cx="597.8" cy="82.3" r="0.94" fill="#82EC5A"/>
<circle cx="165.5" cy="95.7" r="0.94" fill="#8FD8F8"/>
<circle cx="150.9" cy="115.4" r="0.93" fill="#CC99FF"/>
<circle cx="575.2" cy="109.1" r="0.93" fill="#CC99FF"/>
<circle cx="474.4" cy="108.7" r="0.93" fill="#8FD8F8"/>
<circle cx="294.8" cy="38.2" r="0.93" fill="#CC99FF"/>
<circle cx="260.3" cy="15.3" r="0.93" fill="#8FD8F8"/>
<circle cx="208.6" cy="48.8" r="0.93" fill="#8FD8F8"/>
<circle cx="503.0" cy="102.7" r="0.93" fill="#8FD8F8"/>
<circle cx="481.3" cy="110.9" r="0.93" fill="#8FD8F8"/>
<circle cx="566.8" cy="131.3" r="0.93" fill="#CC99FF"/>
<circle cx="126.7" cy="92.6" r="0.92" fill="#8FD8F8"/>
<circle cx="183.3" cy="90.2" r="0.92" fill="#CC99FF"/>
<circle cx="196.3" cy="95.7" r="0.92" fill="#F0939B"/>
<circle cx="176.1" cy="75.1" r="0.92" fill="#8FD8F8"/>
<circle cx="447.6" cy="127.5" r="0.92" fill="#8FD8F8"/>
<circle cx="551.4" cy="79.0" r="0.92" fill="#8FD8F8"/>
<circle cx="469.3" cy="121.4" r="0.92" fill="#82EC5A"/>
<circle cx="98.0" cy="136.9" r="0.92" fill="#F0939B"/>
<circle cx="102.3" cy="118.6" r="0.92" fill="#8FD8F8"/>
<circle cx="178.1" cy="92.5" r="0.92" fill="#CC99FF"/>
<circle cx="493.6" cy="112.6" r="0.92" fill="#8FD8F8"/>
<circle cx="291.4" cy="37.9" r="0.92" fill="#8FD8F8"/>
<circle cx="188.9" cy="51.8" r="0.92" fill="#8FD8F8"/>
<circle cx="486.6" cy="105.0" r="0.92" fill="#8FD8F8"/>
<circle cx="140.4" cy="103.3" r="0.92" fill="#8FD8F8"/>
<circle cx="179.4" cy="80.8" r="0.91" fill="#8FD8F8"/>
<circle cx="561.5" cy="69.2" r="0.91" fill="#82EC5A"/>
<circle cx="152.2" cy="129.6" r="0.91" fill="#CC99FF"/>
<circle cx="559.8" cy="66.1" r="0.91" fill="#8FD8F8"/>
<circle cx="89.4" cy="111.3" r="0.91" fill="#8FD8F8"/>
<circle cx="203.0" cy="46.7" r="0.91" fill="#8FD8F8"/>
<circle cx="177.9" cy="68.7" r="0.91" fill="#8FD8F8"/>
<circle cx="260.0" cy="18.6" r="0.91" fill="#8FD8F8"/>
<circle cx="151.2" cy="101.0" r="0.91" fill="#8FD8F8"/>
<circle cx="196.7" cy="67.0" r="0.91" fill="#8FD8F8"/>
<circle cx="559.8" cy="54.7" r="0.91" fill="#8FD8F8"/>
<circle cx="173.8" cy="144.6" r="0.91" fill="#BBBBBB"/>
<circle cx="520.4" cy="92.9" r="0.90" fill="#8FD8F8"/>
<circle cx="118.9" cy="135.4" r="0.90" fill="#F0939B"/>
<circle cx="121.3" cy="100.4" r="0.90" fill="#8FD8F8"/>
<circle cx="138.3" cy="114.3" r="0.90" fill="#8FD8F8"/>
</g>
<rect x="59.5" y="12.5" width="265.5" height="144.8" fill="none" stroke="#1e1e1e" stroke-width="1"/>
<line x1="56.20" y1="157.36" x2="59.50" y2="157.36" stroke="#1e1e1e" stroke-width="1"/>
<line x1="56.20" y1="152.19" x2="59.50" y2="152.19" stroke="#1e1e1e" stroke-width="1"/>
<line x1="56.20" y1="147.01" x2="59.50" y2="147.01" stroke="#1e1e1e" stroke-width="1"/>
<line x1="54.00" y1="141.84" x2="59.50" y2="141.84" stroke="#1e1e1e" stroke-width="1"/>
<text transform="translate(49.90,145.14) scale(0.85,1)" font-size="11.6" text-anchor="end" fill="#1e1e1e" stroke="#1e1e1e" stroke-width="0.22">0.0</text>
<line x1="56.20" y1="136.67" x2="59.50" y2="136.67" stroke="#1e1e1e" stroke-width="1"/>
<line x1="56.20" y1="131.49" x2="59.50" y2="131.49" stroke="#1e1e1e" stroke-width="1"/>
<line x1="56.20" y1="126.32" x2="59.50" y2="126.32" stroke="#1e1e1e" stroke-width="1"/>
<line x1="56.20" y1="121.14" x2="59.50" y2="121.14" stroke="#1e1e1e" stroke-width="1"/>
<line x1="54.00" y1="115.97" x2="59.50" y2="115.97" stroke="#1e1e1e" stroke-width="1"/>
<text transform="translate(49.90,119.27) scale(0.85,1)" font-size="11.6" text-anchor="end" fill="#1e1e1e" stroke="#1e1e1e" stroke-width="0.22">0.1</text>
<line x1="56.20" y1="110.80" x2="59.50" y2="110.80" stroke="#1e1e1e" stroke-width="1"/>
<line x1="56.20" y1="105.62" x2="59.50" y2="105.62" stroke="#1e1e1e" stroke-width="1"/>
<line x1="56.20" y1="100.45" x2="59.50" y2="100.45" stroke="#1e1e1e" stroke-width="1"/>
<line x1="56.20" y1="95.27" x2="59.50" y2="95.27" stroke="#1e1e1e" stroke-width="1"/>
<line x1="54.00" y1="90.10" x2="59.50" y2="90.10" stroke="#1e1e1e" stroke-width="1"/>
<text transform="translate(49.90,93.40) scale(0.85,1)" font-size="11.6" text-anchor="end" fill="#1e1e1e" stroke="#1e1e1e" stroke-width="0.22">0.2</text>
<line x1="56.20" y1="84.93" x2="59.50" y2="84.93" stroke="#1e1e1e" stroke-width="1"/>
<line x1="56.20" y1="79.75" x2="59.50" y2="79.75" stroke="#1e1e1e" stroke-width="1"/>
<line x1="56.20" y1="74.58" x2="59.50" y2="74.58" stroke="#1e1e1e" stroke-width="1"/>
<line x1="56.20" y1="69.40" x2="59.50" y2="69.40" stroke="#1e1e1e" stroke-width="1"/>
<line x1="54.00" y1="64.23" x2="59.50" y2="64.23" stroke="#1e1e1e" stroke-width="1"/>
<text transform="translate(49.90,67.53) scale(0.85,1)" font-size="11.6" text-anchor="end" fill="#1e1e1e" stroke="#1e1e1e" stroke-width="0.22">0.3</text>
<line x1="56.20" y1="59.06" x2="59.50" y2="59.06" stroke="#1e1e1e" stroke-width="1"/>
<line x1="56.20" y1="53.88" x2="59.50" y2="53.88" stroke="#1e1e1e" stroke-width="1"/>
<line x1="56.20" y1="48.71" x2="59.50" y2="48.71" stroke="#1e1e1e" stroke-width="1"/>
<line x1="56.20" y1="43.53" x2="59.50" y2="43.53" stroke="#1e1e1e" stroke-width="1"/>
<line x1="54.00" y1="38.36" x2="59.50" y2="38.36" stroke="#1e1e1e" stroke-width="1"/>
<text transform="translate(49.90,41.66) scale(0.85,1)" font-size="11.6" text-anchor="end" fill="#1e1e1e" stroke="#1e1e1e" stroke-width="0.22">0.4</text>
<line x1="56.20" y1="33.19" x2="59.50" y2="33.19" stroke="#1e1e1e" stroke-width="1"/>
<line x1="56.20" y1="28.01" x2="59.50" y2="28.01" stroke="#1e1e1e" stroke-width="1"/>
<line x1="56.20" y1="22.84" x2="59.50" y2="22.84" stroke="#1e1e1e" stroke-width="1"/>
<line x1="56.20" y1="17.66" x2="59.50" y2="17.66" stroke="#1e1e1e" stroke-width="1"/>
<line x1="54.00" y1="12.49" x2="59.50" y2="12.49" stroke="#1e1e1e" stroke-width="1"/>
<text transform="translate(49.90,15.79) scale(0.85,1)" font-size="11.6" text-anchor="end" fill="#1e1e1e" stroke="#1e1e1e" stroke-width="0.22">0.5</text>
<line x1="64.81" y1="157.30" x2="64.81" y2="160.60" stroke="#1e1e1e" stroke-width="1"/>
<line x1="74.80" y1="157.30" x2="74.80" y2="162.80" stroke="#1e1e1e" stroke-width="1"/>
<text transform="translate(74.80,174.90) scale(0.85,1)" font-size="11.6" text-anchor="middle" fill="#1e1e1e" stroke="#1e1e1e" stroke-width="0.22">100</text>
<line x1="84.79" y1="157.30" x2="84.79" y2="160.60" stroke="#1e1e1e" stroke-width="1"/>
<line x1="94.77" y1="157.30" x2="94.77" y2="160.60" stroke="#1e1e1e" stroke-width="1"/>
<line x1="104.76" y1="157.30" x2="104.76" y2="160.60" stroke="#1e1e1e" stroke-width="1"/>
<line x1="114.74" y1="157.30" x2="114.74" y2="160.60" stroke="#1e1e1e" stroke-width="1"/>
<line x1="124.73" y1="157.30" x2="124.73" y2="162.80" stroke="#1e1e1e" stroke-width="1"/>
<text transform="translate(124.73,174.90) scale(0.85,1)" font-size="11.6" text-anchor="middle" fill="#1e1e1e" stroke="#1e1e1e" stroke-width="0.22">200</text>
<line x1="134.72" y1="157.30" x2="134.72" y2="160.60" stroke="#1e1e1e" stroke-width="1"/>
<line x1="144.70" y1="157.30" x2="144.70" y2="160.60" stroke="#1e1e1e" stroke-width="1"/>
<line x1="154.69" y1="157.30" x2="154.69" y2="160.60" stroke="#1e1e1e" stroke-width="1"/>
<line x1="164.67" y1="157.30" x2="164.67" y2="160.60" stroke="#1e1e1e" stroke-width="1"/>
<line x1="174.66" y1="157.30" x2="174.66" y2="162.80" stroke="#1e1e1e" stroke-width="1"/>
<text transform="translate(174.66,174.90) scale(0.85,1)" font-size="11.6" text-anchor="middle" fill="#1e1e1e" stroke="#1e1e1e" stroke-width="0.22">300</text>
<line x1="184.65" y1="157.30" x2="184.65" y2="160.60" stroke="#1e1e1e" stroke-width="1"/>
<line x1="194.63" y1="157.30" x2="194.63" y2="160.60" stroke="#1e1e1e" stroke-width="1"/>
<line x1="204.62" y1="157.30" x2="204.62" y2="160.60" stroke="#1e1e1e" stroke-width="1"/>
<line x1="214.60" y1="157.30" x2="214.60" y2="160.60" stroke="#1e1e1e" stroke-width="1"/>
<line x1="224.59" y1="157.30" x2="224.59" y2="162.80" stroke="#1e1e1e" stroke-width="1"/>
<text transform="translate(224.59,174.90) scale(0.85,1)" font-size="11.6" text-anchor="middle" fill="#1e1e1e" stroke="#1e1e1e" stroke-width="0.22">400</text>
<line x1="234.58" y1="157.30" x2="234.58" y2="160.60" stroke="#1e1e1e" stroke-width="1"/>
<line x1="244.56" y1="157.30" x2="244.56" y2="160.60" stroke="#1e1e1e" stroke-width="1"/>
<line x1="254.55" y1="157.30" x2="254.55" y2="160.60" stroke="#1e1e1e" stroke-width="1"/>
<line x1="264.53" y1="157.30" x2="264.53" y2="160.60" stroke="#1e1e1e" stroke-width="1"/>
<line x1="274.52" y1="157.30" x2="274.52" y2="162.80" stroke="#1e1e1e" stroke-width="1"/>
<text transform="translate(274.52,174.90) scale(0.85,1)" font-size="11.6" text-anchor="middle" fill="#1e1e1e" stroke="#1e1e1e" stroke-width="0.22">500</text>
<line x1="284.51" y1="157.30" x2="284.51" y2="160.60" stroke="#1e1e1e" stroke-width="1"/>
<line x1="294.49" y1="157.30" x2="294.49" y2="160.60" stroke="#1e1e1e" stroke-width="1"/>
<line x1="304.48" y1="157.30" x2="304.48" y2="160.60" stroke="#1e1e1e" stroke-width="1"/>
<line x1="314.46" y1="157.30" x2="314.46" y2="160.60" stroke="#1e1e1e" stroke-width="1"/>
<line x1="324.45" y1="157.30" x2="324.45" y2="162.80" stroke="#1e1e1e" stroke-width="1"/>
<text transform="translate(324.45,174.90) scale(0.85,1)" font-size="11.6" text-anchor="middle" fill="#1e1e1e" stroke="#1e1e1e" stroke-width="0.22">600</text>
<text x="195.00" y="186.00" font-size="10" text-anchor="middle" fill="#1e1e1e" stroke="#1e1e1e" stroke-width="0.22">Mass (Da)</text>
<text x="31.50" y="85.80" font-size="10" text-anchor="middle" fill="#1e1e1e" stroke="#1e1e1e" stroke-width="0.22" transform="rotate(-90 31.5 85.8)">Mass defect</text>
<text x="60.00" y="10.20" font-size="10.5" text-anchor="start" fill="#111" stroke="#111" stroke-width="0.4" font-weight="bold">ESI+</text>
<text x="0.50" y="12.60" font-size="13" text-anchor="start" fill="#1e1e1e" stroke="#1e1e1e" stroke-width="0.22">(a)</text>
<rect x="409.7" y="12.5" width="265.50000000000006" height="144.8" fill="none" stroke="#1e1e1e" stroke-width="1"/>
<line x1="406.40" y1="157.36" x2="409.70" y2="157.36" stroke="#1e1e1e" stroke-width="1"/>
<line x1="406.40" y1="152.19" x2="409.70" y2="152.19" stroke="#1e1e1e" stroke-width="1"/>
<line x1="406.40" y1="147.01" x2="409.70" y2="147.01" stroke="#1e1e1e" stroke-width="1"/>
<line x1="404.20" y1="141.84" x2="409.70" y2="141.84" stroke="#1e1e1e" stroke-width="1"/>
<text transform="translate(400.10,145.14) scale(0.85,1)" font-size="11.6" text-anchor="end" fill="#1e1e1e" stroke="#1e1e1e" stroke-width="0.22">0.0</text>
<line x1="406.40" y1="136.67" x2="409.70" y2="136.67" stroke="#1e1e1e" stroke-width="1"/>
<line x1="406.40" y1="131.49" x2="409.70" y2="131.49" stroke="#1e1e1e" stroke-width="1"/>
<line x1="406.40" y1="126.32" x2="409.70" y2="126.32" stroke="#1e1e1e" stroke-width="1"/>
<line x1="406.40" y1="121.14" x2="409.70" y2="121.14" stroke="#1e1e1e" stroke-width="1"/>
<line x1="404.20" y1="115.97" x2="409.70" y2="115.97" stroke="#1e1e1e" stroke-width="1"/>
<text transform="translate(400.10,119.27) scale(0.85,1)" font-size="11.6" text-anchor="end" fill="#1e1e1e" stroke="#1e1e1e" stroke-width="0.22">0.1</text>
<line x1="406.40" y1="110.80" x2="409.70" y2="110.80" stroke="#1e1e1e" stroke-width="1"/>
<line x1="406.40" y1="105.62" x2="409.70" y2="105.62" stroke="#1e1e1e" stroke-width="1"/>
<line x1="406.40" y1="100.45" x2="409.70" y2="100.45" stroke="#1e1e1e" stroke-width="1"/>
<line x1="406.40" y1="95.27" x2="409.70" y2="95.27" stroke="#1e1e1e" stroke-width="1"/>
<line x1="404.20" y1="90.10" x2="409.70" y2="90.10" stroke="#1e1e1e" stroke-width="1"/>
<text transform="translate(400.10,93.40) scale(0.85,1)" font-size="11.6" text-anchor="end" fill="#1e1e1e" stroke="#1e1e1e" stroke-width="0.22">0.2</text>
<line x1="406.40" y1="84.93" x2="409.70" y2="84.93" stroke="#1e1e1e" stroke-width="1"/>
<line x1="406.40" y1="79.75" x2="409.70" y2="79.75" stroke="#1e1e1e" stroke-width="1"/>
<line x1="406.40" y1="74.58" x2="409.70" y2="74.58" stroke="#1e1e1e" stroke-width="1"/>
<line x1="406.40" y1="69.40" x2="409.70" y2="69.40" stroke="#1e1e1e" stroke-width="1"/>
<line x1="404.20" y1="64.23" x2="409.70" y2="64.23" stroke="#1e1e1e" stroke-width="1"/>
<text transform="translate(400.10,67.53) scale(0.85,1)" font-size="11.6" text-anchor="end" fill="#1e1e1e" stroke="#1e1e1e" stroke-width="0.22">0.3</text>
<line x1="406.40" y1="59.06" x2="409.70" y2="59.06" stroke="#1e1e1e" stroke-width="1"/>
<line x1="406.40" y1="53.88" x2="409.70" y2="53.88" stroke="#1e1e1e" stroke-width="1"/>
<line x1="406.40" y1="48.71" x2="409.70" y2="48.71" stroke="#1e1e1e" stroke-width="1"/>
<line x1="406.40" y1="43.53" x2="409.70" y2="43.53" stroke="#1e1e1e" stroke-width="1"/>
<line x1="404.20" y1="38.36" x2="409.70" y2="38.36" stroke="#1e1e1e" stroke-width="1"/>
<text transform="translate(400.10,41.66) scale(0.85,1)" font-size="11.6" text-anchor="end" fill="#1e1e1e" stroke="#1e1e1e" stroke-width="0.22">0.4</text>
<line x1="406.40" y1="33.19" x2="409.70" y2="33.19" stroke="#1e1e1e" stroke-width="1"/>
<line x1="406.40" y1="28.01" x2="409.70" y2="28.01" stroke="#1e1e1e" stroke-width="1"/>
<line x1="406.40" y1="22.84" x2="409.70" y2="22.84" stroke="#1e1e1e" stroke-width="1"/>
<line x1="406.40" y1="17.66" x2="409.70" y2="17.66" stroke="#1e1e1e" stroke-width="1"/>
<line x1="404.20" y1="12.49" x2="409.70" y2="12.49" stroke="#1e1e1e" stroke-width="1"/>
<text transform="translate(400.10,15.79) scale(0.85,1)" font-size="11.6" text-anchor="end" fill="#1e1e1e" stroke="#1e1e1e" stroke-width="0.22">0.5</text>
<line x1="415.01" y1="157.30" x2="415.01" y2="160.60" stroke="#1e1e1e" stroke-width="1"/>
<line x1="425.00" y1="157.30" x2="425.00" y2="162.80" stroke="#1e1e1e" stroke-width="1"/>
<text transform="translate(425.00,174.90) scale(0.85,1)" font-size="11.6" text-anchor="middle" fill="#1e1e1e" stroke="#1e1e1e" stroke-width="0.22">100</text>
<line x1="434.99" y1="157.30" x2="434.99" y2="160.60" stroke="#1e1e1e" stroke-width="1"/>
<line x1="444.97" y1="157.30" x2="444.97" y2="160.60" stroke="#1e1e1e" stroke-width="1"/>
<line x1="454.96" y1="157.30" x2="454.96" y2="160.60" stroke="#1e1e1e" stroke-width="1"/>
<line x1="464.94" y1="157.30" x2="464.94" y2="160.60" stroke="#1e1e1e" stroke-width="1"/>
<line x1="474.93" y1="157.30" x2="474.93" y2="162.80" stroke="#1e1e1e" stroke-width="1"/>
<text transform="translate(474.93,174.90) scale(0.85,1)" font-size="11.6" text-anchor="middle" fill="#1e1e1e" stroke="#1e1e1e" stroke-width="0.22">200</text>
<line x1="484.92" y1="157.30" x2="484.92" y2="160.60" stroke="#1e1e1e" stroke-width="1"/>
<line x1="494.90" y1="157.30" x2="494.90" y2="160.60" stroke="#1e1e1e" stroke-width="1"/>
<line x1="504.89" y1="157.30" x2="504.89" y2="160.60" stroke="#1e1e1e" stroke-width="1"/>
<line x1="514.87" y1="157.30" x2="514.87" y2="160.60" stroke="#1e1e1e" stroke-width="1"/>
<line x1="524.86" y1="157.30" x2="524.86" y2="162.80" stroke="#1e1e1e" stroke-width="1"/>
<text transform="translate(524.86,174.90) scale(0.85,1)" font-size="11.6" text-anchor="middle" fill="#1e1e1e" stroke="#1e1e1e" stroke-width="0.22">300</text>
<line x1="534.85" y1="157.30" x2="534.85" y2="160.60" stroke="#1e1e1e" stroke-width="1"/>
<line x1="544.83" y1="157.30" x2="544.83" y2="160.60" stroke="#1e1e1e" stroke-width="1"/>
<line x1="554.82" y1="157.30" x2="554.82" y2="160.60" stroke="#1e1e1e" stroke-width="1"/>
<line x1="564.80" y1="157.30" x2="564.80" y2="160.60" stroke="#1e1e1e" stroke-width="1"/>
<line x1="574.79" y1="157.30" x2="574.79" y2="162.80" stroke="#1e1e1e" stroke-width="1"/>
<text transform="translate(574.79,174.90) scale(0.85,1)" font-size="11.6" text-anchor="middle" fill="#1e1e1e" stroke="#1e1e1e" stroke-width="0.22">400</text>
<line x1="584.78" y1="157.30" x2="584.78" y2="160.60" stroke="#1e1e1e" stroke-width="1"/>
<line x1="594.76" y1="157.30" x2="594.76" y2="160.60" stroke="#1e1e1e" stroke-width="1"/>
<line x1="604.75" y1="157.30" x2="604.75" y2="160.60" stroke="#1e1e1e" stroke-width="1"/>
<line x1="614.73" y1="157.30" x2="614.73" y2="160.60" stroke="#1e1e1e" stroke-width="1"/>
<line x1="624.72" y1="157.30" x2="624.72" y2="162.80" stroke="#1e1e1e" stroke-width="1"/>
<text transform="translate(624.72,174.90) scale(0.85,1)" font-size="11.6" text-anchor="middle" fill="#1e1e1e" stroke="#1e1e1e" stroke-width="0.22">500</text>
<line x1="634.71" y1="157.30" x2="634.71" y2="160.60" stroke="#1e1e1e" stroke-width="1"/>
<line x1="644.69" y1="157.30" x2="644.69" y2="160.60" stroke="#1e1e1e" stroke-width="1"/>
<line x1="654.68" y1="157.30" x2="654.68" y2="160.60" stroke="#1e1e1e" stroke-width="1"/>
<line x1="664.66" y1="157.30" x2="664.66" y2="160.60" stroke="#1e1e1e" stroke-width="1"/>
<line x1="674.65" y1="157.30" x2="674.65" y2="162.80" stroke="#1e1e1e" stroke-width="1"/>
<text transform="translate(674.65,174.90) scale(0.85,1)" font-size="11.6" text-anchor="middle" fill="#1e1e1e" stroke="#1e1e1e" stroke-width="0.22">600</text>
<text x="537.80" y="186.00" font-size="10" text-anchor="middle" fill="#1e1e1e" stroke="#1e1e1e" stroke-width="0.22">Mass (Da)</text>
<text x="381.70" y="85.80" font-size="10" text-anchor="middle" fill="#1e1e1e" stroke="#1e1e1e" stroke-width="0.22" transform="rotate(-90 381.7 85.8)">Mass defect</text>
<text x="409.10" y="10.20" font-size="10.5" text-anchor="start" fill="#111" stroke="#111" stroke-width="0.4" font-weight="bold">ESI-</text>
<text x="339.80" y="12.60" font-size="13" text-anchor="start" fill="#1e1e1e" stroke="#1e1e1e" stroke-width="0.22">(d)</text>
<line x1="75.86" y1="108.80" x2="208.82" y2="31.87" stroke="#333" stroke-width="0.7" stroke-dasharray="2.4,1.6"/>
<line x1="97.84" y1="102.02" x2="195.82" y2="45.33" stroke="#333" stroke-width="0.7" stroke-dasharray="2.4,1.6"/>
<line x1="82.84" y1="114.16" x2="236.80" y2="25.09" stroke="#333" stroke-width="0.7" stroke-dasharray="2.4,1.6"/>
<line x1="102.83" y1="106.06" x2="228.79" y2="33.19" stroke="#333" stroke-width="0.7" stroke-dasharray="2.4,1.6"/>
<line x1="119.83" y1="95.23" x2="203.80" y2="46.65" stroke="#333" stroke-width="0.7" stroke-dasharray="2.4,1.6"/>
<line x1="141.81" y1="88.45" x2="225.79" y2="39.87" stroke="#333" stroke-width="0.7" stroke-dasharray="2.4,1.6"/>
<line x1="80.34" y1="118.12" x2="248.29" y2="20.96" stroke="#333" stroke-width="0.7" stroke-dasharray="2.4,1.6"/>
<line x1="99.28" y1="135.81" x2="162.26" y2="99.37" stroke="#333" stroke-width="0.7" stroke-dasharray="2.4,1.6"/>
<line x1="461.51" y1="111.58" x2="608.47" y2="26.56" stroke="#333" stroke-width="0.7" stroke-dasharray="2.4,1.6"/>
<line x1="447.00" y1="124.61" x2="572.97" y2="51.73" stroke="#333" stroke-width="0.7" stroke-dasharray="2.4,1.6"/>
<line x1="461.49" y1="120.99" x2="622.44" y2="27.87" stroke="#333" stroke-width="0.7" stroke-dasharray="2.4,1.6"/>
<line x1="443.98" y1="136.75" x2="527.96" y2="88.17" stroke="#333" stroke-width="0.7" stroke-dasharray="2.4,1.6"/>
<line x1="443.47" y1="144.06" x2="576.43" y2="67.14" stroke="#333" stroke-width="0.7" stroke-dasharray="2.4,1.6"/>
<line x1="487.93" y1="131.73" x2="578.91" y2="79.10" stroke="#333" stroke-width="0.7" stroke-dasharray="2.4,1.6"/>
<line x1="502.90" y1="138.41" x2="600.87" y2="81.73" stroke="#333" stroke-width="0.7" stroke-dasharray="2.4,1.6"/>
<line x1="443.47" y1="144.94" x2="527.44" y2="96.35" stroke="#333" stroke-width="0.7" stroke-dasharray="2.4,1.6"/>
<text x="86.60" y="54.00" font-size="7.6" text-anchor="start" fill="#1e1e1e" stroke="#1e1e1e" stroke-width="0.22"><tspan>C</tspan><tspan font-size="5.32" dy="2.13" font-style="italic">n</tspan><tspan dy="-2.13">​</tspan><tspan>H</tspan><tspan font-size="5.32" dy="2.13">2n+3</tspan><tspan dy="-2.13">​</tspan><tspan>N(n=6-25)</tspan></text>
<text x="75.40" y="64.00" font-size="7.6" text-anchor="start" fill="#1e1e1e" stroke="#1e1e1e" stroke-width="0.22"><tspan>C</tspan><tspan font-size="5.32" dy="2.13" font-style="italic">n</tspan><tspan dy="-2.13">​</tspan><tspan>H</tspan><tspan font-size="5.32" dy="2.13">2n+3</tspan><tspan dy="-2.13">​</tspan><tspan>ON(n=8-22)</tspan></text>
<text x="60.00" y="74.50" font-size="7.6" text-anchor="start" fill="#1e1e1e" stroke="#1e1e1e" stroke-width="0.22"><tspan>C</tspan><tspan font-size="5.32" dy="2.13" font-style="italic">n</tspan><tspan dy="-2.13">​</tspan><tspan>H</tspan><tspan font-size="5.32" dy="2.13">2n+1</tspan><tspan dy="-2.13">​</tspan><tspan>ON(n=6-28)</tspan></text>
<text x="257.00" y="57.00" font-size="7.6" text-anchor="start" fill="#1e1e1e" stroke="#1e1e1e" stroke-width="0.22"><tspan>C</tspan><tspan font-size="5.32" dy="2.13" font-style="italic">n</tspan><tspan dy="-2.13">​</tspan><tspan>H</tspan><tspan font-size="5.32" dy="2.13">2n-1</tspan><tspan dy="-2.13">​</tspan><tspan>ON(n=9-27)</tspan></text>
<text x="250.30" y="69.80" font-size="7.6" text-anchor="start" fill="#1e1e1e" stroke="#1e1e1e" stroke-width="0.22"><tspan>C</tspan><tspan font-size="5.32" dy="2.13" font-style="italic">n</tspan><tspan dy="-2.13">​</tspan><tspan>H</tspan><tspan font-size="5.32" dy="2.13">2n+3</tspan><tspan dy="-2.13">​</tspan><tspan>O</tspan><tspan font-size="5.32" dy="2.13">2</tspan><tspan dy="-2.13">​</tspan><tspan>N(n=10-22)</tspan></text>
<text x="244.50" y="80.00" font-size="7.6" text-anchor="start" fill="#1e1e1e" stroke="#1e1e1e" stroke-width="0.22"><tspan>C</tspan><tspan font-size="5.32" dy="2.13" font-style="italic">n</tspan><tspan dy="-2.13">​</tspan><tspan>H</tspan><tspan font-size="5.32" dy="2.13">2n+3</tspan><tspan dy="-2.13">​</tspan><tspan>O</tspan><tspan font-size="5.32" dy="2.13">3</tspan><tspan dy="-2.13">​</tspan><tspan>N(n=12-24)</tspan></text>
<text x="241.80" y="93.40" font-size="7.6" text-anchor="start" fill="#1e1e1e" stroke="#1e1e1e" stroke-width="0.22"><tspan>C</tspan><tspan font-size="5.32" dy="2.13" font-style="italic">n</tspan><tspan dy="-2.13">​</tspan><tspan>H</tspan><tspan font-size="5.32" dy="2.13">2n-2</tspan><tspan dy="-2.13">​</tspan><tspan>N</tspan><tspan font-size="5.32" dy="2.13">2</tspan><tspan dy="-2.13">​</tspan><tspan>(n=6-30)</tspan></text>
<text x="233.70" y="104.80" font-size="7.6" text-anchor="start" fill="#1e1e1e" stroke="#1e1e1e" stroke-width="0.22"><tspan>C</tspan><tspan font-size="5.32" dy="2.13" font-style="italic">n</tspan><tspan dy="-2.13">​</tspan><tspan>H</tspan><tspan font-size="5.32" dy="2.13">2n-12</tspan><tspan dy="-2.13">​</tspan><tspan>O</tspan><tspan font-size="5.32" dy="2.13">3</tspan><tspan dy="-2.13">​</tspan><tspan>(n=8-17)</tspan></text>
<line x1="148.50" y1="51.40" x2="173.80" y2="51.40" stroke="#3a3a3a" stroke-width="0.8"/>
<line x1="143.20" y1="61.70" x2="165.00" y2="61.70" stroke="#3a3a3a" stroke-width="0.8"/>
<line x1="128.00" y1="72.80" x2="152.00" y2="72.80" stroke="#3a3a3a" stroke-width="0.8"/>
<line x1="173.80" y1="55.20" x2="255.50" y2="55.20" stroke="#3a3a3a" stroke-width="0.8"/>
<line x1="170.90" y1="67.70" x2="248.20" y2="67.70" stroke="#3a3a3a" stroke-width="0.8"/>
<line x1="147.50" y1="78.20" x2="242.40" y2="78.20" stroke="#3a3a3a" stroke-width="0.8"/>
<line x1="130.00" y1="91.10" x2="240.40" y2="91.10" stroke="#3a3a3a" stroke-width="0.8"/>
<line x1="157.70" y1="103.40" x2="230.70" y2="103.40" stroke="#3a3a3a" stroke-width="0.8"/>
<text x="452.60" y="57.60" font-size="7.6" text-anchor="start" fill="#1e1e1e" stroke="#1e1e1e" stroke-width="0.22"><tspan>C</tspan><tspan font-size="5.32" dy="2.13" font-style="italic">n</tspan><tspan dy="-2.13">​</tspan><tspan>H</tspan><tspan font-size="5.32" dy="2.13">2n+2</tspan><tspan dy="-2.13">​</tspan><tspan>O</tspan><tspan font-size="5.32" dy="2.13">2</tspan><tspan dy="-2.13">​</tspan><tspan>N</tspan><tspan font-size="5.32" dy="2.13">3</tspan><tspan dy="-2.13">​</tspan><tspan>(n=7-28)</tspan></text>
<text x="427.30" y="70.20" font-size="7.6" text-anchor="start" fill="#1e1e1e" stroke="#1e1e1e" stroke-width="0.22"><tspan>C</tspan><tspan font-size="5.32" dy="2.13" font-style="italic">n</tspan><tspan dy="-2.13">​</tspan><tspan>H</tspan><tspan font-size="5.32" dy="2.13">2n-1</tspan><tspan dy="-2.13">​</tspan><tspan>O</tspan><tspan font-size="5.32" dy="2.13">3</tspan><tspan dy="-2.13">​</tspan><tspan>N(n=6-24)</tspan></text>
<text x="414.00" y="83.90" font-size="7.6" text-anchor="start" fill="#1e1e1e" stroke="#1e1e1e" stroke-width="0.22"><tspan>C</tspan><tspan font-size="5.32" dy="2.13" font-style="italic">n</tspan><tspan dy="-2.13">​</tspan><tspan>H</tspan><tspan font-size="5.32" dy="2.13">2n</tspan><tspan dy="-2.13">​</tspan><tspan>O</tspan><tspan font-size="5.32" dy="2.13">3</tspan><tspan dy="-2.13">​</tspan><tspan>N</tspan><tspan font-size="5.32" dy="2.13">3</tspan><tspan dy="-2.13">​</tspan><tspan>(n=6-29)</tspan></text>
<text x="412.90" y="96.80" font-size="7.6" text-anchor="start" fill="#1e1e1e" stroke="#1e1e1e" stroke-width="0.22"><tspan>C</tspan><tspan font-size="5.32" dy="2.13" font-style="italic">n</tspan><tspan dy="-2.13">​</tspan><tspan>H</tspan><tspan font-size="5.32" dy="2.13">2n-7</tspan><tspan dy="-2.13">​</tspan><tspan>O</tspan><tspan font-size="5.32" dy="2.13">3</tspan><tspan dy="-2.13">​</tspan><tspan>N(n=6-18)</tspan></text>
<text x="584.00" y="105.70" font-size="7.6" text-anchor="start" fill="#1e1e1e" stroke="#1e1e1e" stroke-width="0.22"><tspan>C</tspan><tspan font-size="5.32" dy="2.13" font-style="italic">n</tspan><tspan dy="-2.13">​</tspan><tspan>H</tspan><tspan font-size="5.32" dy="2.13">2n</tspan><tspan dy="-2.13">​</tspan><tspan>O</tspan><tspan font-size="5.32" dy="2.13">4</tspan><tspan dy="-2.13">​</tspan><tspan>S(n=3-22)</tspan></text>
<text x="580.00" y="115.70" font-size="7.6" text-anchor="start" fill="#1e1e1e" stroke="#1e1e1e" stroke-width="0.22"><tspan>C</tspan><tspan font-size="5.32" dy="2.13" font-style="italic">n</tspan><tspan dy="-2.13">​</tspan><tspan>H</tspan><tspan font-size="5.32" dy="2.13">2n+1</tspan><tspan dy="-2.13">​</tspan><tspan>O</tspan><tspan font-size="5.32" dy="2.13">6</tspan><tspan dy="-2.13">​</tspan><tspan>NS(n=6-19)</tspan></text>
<text x="568.20" y="125.40" font-size="7.6" text-anchor="start" fill="#1e1e1e" stroke="#1e1e1e" stroke-width="0.22"><tspan>C</tspan><tspan font-size="5.32" dy="2.13" font-style="italic">n</tspan><tspan dy="-2.13">​</tspan><tspan>H</tspan><tspan font-size="5.32" dy="2.13">2n-1</tspan><tspan dy="-2.13">​</tspan><tspan>O</tspan><tspan font-size="5.32" dy="2.13">8</tspan><tspan dy="-2.13">​</tspan><tspan>NS(n=6-20)</tspan></text>
<text x="540.60" y="134.60" font-size="7.6" text-anchor="start" fill="#1e1e1e" stroke="#1e1e1e" stroke-width="0.22"><tspan>C</tspan><tspan font-size="5.32" dy="2.13" font-style="italic">n</tspan><tspan dy="-2.13">​</tspan><tspan>H</tspan><tspan font-size="5.32" dy="2.13">2n-10</tspan><tspan dy="-2.13">​</tspan><tspan>O</tspan><tspan font-size="5.32" dy="2.13">4</tspan><tspan dy="-2.13">​</tspan><tspan>(n=6-18)</tspan></text>
<line x1="530.60" y1="55.20" x2="555.60" y2="55.20" stroke="#3a3a3a" stroke-width="0.8"/>
<line x1="497.80" y1="69.40" x2="529.30" y2="69.40" stroke="#3a3a3a" stroke-width="0.8"/>
<line x1="484.70" y1="82.00" x2="524.00" y2="82.00" stroke="#3a3a3a" stroke-width="0.8"/>
<line x1="479.40" y1="95.70" x2="511.50" y2="95.70" stroke="#3a3a3a" stroke-width="0.8"/>
<line x1="511.50" y1="103.00" x2="583.20" y2="103.00" stroke="#3a3a3a" stroke-width="0.8"/>
<line x1="543.80" y1="112.30" x2="578.70" y2="112.30" stroke="#3a3a3a" stroke-width="0.8"/>
<line x1="530.60" y1="122.20" x2="567.40" y2="122.20" stroke="#3a3a3a" stroke-width="0.8"/>
<line x1="466.30" y1="131.20" x2="539.80" y2="131.20" stroke="#3a3a3a" stroke-width="0.8"/>
<g transform="translate(0,0)" fill="none" stroke="#111" stroke-width="0.8">
<path d="M203.3,128.8 L206.3,126.9 M207.6,126.1 L212.5,123"/>
<path d="M208.4,123.2 L212.5,123 L210.9,126.6"/>
<path d="M199.2,132.0 L193.9,134.3 L199.2,136.3"/>
<path d="M204.8,136.6 L208.2,137.1 M209.6,137.4 L215.4,138.3"/>
<path d="M212.0,135.9 L215.4,138.3 L211.6,139.9"/>
</g>
<text transform="translate(189.5,129.8) rotate(-33)" font-size="10.6" fill="#111" stroke="#111" stroke-width="0.2">+CH<tspan font-size="7.4" dy="2.4">2</tspan></text>
<text x="194.4" y="148.3" font-size="11" fill="#111" stroke="#111" stroke-width="0.2">+O</text>
<g transform="translate(448.5,-47.5)" fill="none" stroke="#111" stroke-width="0.8">
<path d="M203.3,128.8 L206.3,126.9 M207.6,126.1 L212.5,123"/>
<path d="M208.4,123.2 L212.5,123 L210.9,126.6"/>
<path d="M199.2,132.0 L193.9,134.3 L199.2,136.3"/>
<path d="M204.8,136.6 L208.2,137.1 M209.6,137.4 L215.4,138.3"/>
<path d="M212.0,135.9 L215.4,138.3 L211.6,139.9"/>
</g>
<text transform="translate(638.0,82.30000000000001) rotate(-33)" font-size="10.6" fill="#111" stroke="#111" stroke-width="0.2">+CH<tspan font-size="7.4" dy="2.4">2</tspan></text>
<text x="642.9" y="100.80000000000001" font-size="11" fill="#111" stroke="#111" stroke-width="0.2">+O</text>
<text x="68.20" y="24.70" font-size="10.5" text-anchor="start" fill="#222" stroke="#222" stroke-width="0.15"><tspan fill="#F0939B" stroke="#F0939B">CHO</tspan> <tspan fill="#DAAA38" stroke="#DAAA38">CHN</tspan> <tspan fill="#8FD8F8" stroke="#8FD8F8">CHON</tspan> <tspan fill="#CC99FF" stroke="#CC99FF">CHONS</tspan></text>
<text x="68.20" y="38.60" font-size="10.5" text-anchor="start" fill="#8a8a8a" stroke="#8a8a8a" stroke-width="0.22">others</text>
<text x="418.50" y="24.70" font-size="10.5" text-anchor="start" fill="#222" stroke="#222" stroke-width="0.15"><tspan fill="#F0939B" stroke="#F0939B">CHO</tspan> <tspan fill="#8FD8F8" stroke="#8FD8F8">CHON</tspan> <tspan fill="#82EC5A" stroke="#82EC5A">CHOS</tspan> <tspan fill="#CC99FF" stroke="#CC99FF">CHONS</tspan></text>
<circle cx="289.4" cy="119.2" r="0.5" fill="#F2A7AE"/>
<text x="298.00" y="124.70" font-size="7.5" text-anchor="start" fill="#1e1e1e" stroke="#1e1e1e" stroke-width="0.22">1.0E3</text>
<circle cx="289.4" cy="126.8" r="1.6" fill="#F2A7AE"/>
<text x="298.00" y="133.60" font-size="7.5" text-anchor="start" fill="#1e1e1e" stroke="#1e1e1e" stroke-width="0.22">1.0E5</text>
<circle cx="289.4" cy="136.3" r="2.5" fill="#F2A7AE"/>
<text x="298.00" y="142.60" font-size="7.5" text-anchor="start" fill="#1e1e1e" stroke="#1e1e1e" stroke-width="0.22">1.0E6</text>
<circle cx="289.4" cy="147.8" r="3.5" fill="#F2A7AE"/>
<text x="298.00" y="151.20" font-size="7.5" text-anchor="start" fill="#1e1e1e" stroke="#1e1e1e" stroke-width="0.22">1.0E8</text>
<circle cx="642.6" cy="125.4" r="0.5" fill="#F2A7AE"/>
<text x="649.00" y="129.50" font-size="7.5" text-anchor="start" fill="#1e1e1e" stroke="#1e1e1e" stroke-width="0.22">1.0E2</text>
<circle cx="642.6" cy="133.4" r="0.9" fill="#F2A7AE"/>
<text x="649.00" y="137.80" font-size="7.5" text-anchor="start" fill="#1e1e1e" stroke="#1e1e1e" stroke-width="0.22">1.0E3</text>
<circle cx="642.6" cy="142.1" r="1.6" fill="#F2A7AE"/>
<text x="649.00" y="146.50" font-size="7.5" text-anchor="start" fill="#1e1e1e" stroke="#1e1e1e" stroke-width="0.22">1.0E5</text>
<circle cx="642.6" cy="152.0" r="2.6" fill="#F2A7AE"/>
<text x="649.00" y="154.80" font-size="7.5" text-anchor="start" fill="#1e1e1e" stroke="#1e1e1e" stroke-width="0.22">1.0E7</text>
<path d="M250.30,291.20 A40.8,40.8 0 1 1 206.23,250.53 L207.85,270.67 A20.6,20.6 0 1 0 230.10,291.20 Z" fill="#8FD8F8"/>
<path d="M206.23,250.53 A40.8,40.8 0 0 1 213.06,250.56 L211.30,270.68 A20.6,20.6 0 0 0 207.85,270.67 Z" fill="#CC99FF"/>
<path d="M213.06,250.56 A40.8,40.8 0 0 1 216.30,250.97 L212.94,270.89 A20.6,20.6 0 0 0 211.30,270.68 Z" fill="#BBBBBB"/>
<path d="M216.94,251.08 A40.8,40.8 0 0 1 241.39,265.75 L225.60,278.35 A20.6,20.6 0 0 0 213.25,270.94 Z" fill="#F0939B"/>
<path d="M241.39,265.75 A40.8,40.8 0 0 1 250.30,291.20 L230.10,291.20 A20.6,20.6 0 0 0 225.60,278.35 Z" fill="#DAAA38"/>
<line x1="230.10" y1="291.20" x2="250.30" y2="291.20" stroke="#fff" stroke-width="0.7"/>
<line x1="207.85" y1="270.67" x2="206.23" y2="250.53" stroke="#fff" stroke-width="0.7"/>
<line x1="211.30" y1="270.68" x2="213.06" y2="250.56" stroke="#fff" stroke-width="0.7"/>
<line x1="212.94" y1="270.89" x2="216.30" y2="250.97" stroke="#fff" stroke-width="0.7"/>
<line x1="213.25" y1="270.94" x2="216.94" y2="251.08" stroke="#fff" stroke-width="0.7"/>
<line x1="225.60" y1="278.35" x2="241.39" y2="265.75" stroke="#fff" stroke-width="0.7"/>
<path d="M274.00,291.20 A64.5,64.5 0 0 1 230.50,352.19 L226.27,339.89 A51.5,51.5 0 0 0 261.00,291.20 Z" fill="#8fd8f8" stroke="#8fd8f8" stroke-width="0.3"/>
<path d="M230.50,352.19 A64.5,64.5 0 0 1 166.34,339.13 L175.04,329.47 A51.5,51.5 0 0 0 226.27,339.89 Z" fill="#8fd8f8" stroke="#8fd8f8" stroke-width="0.3"/>
<path d="M166.34,339.13 A64.5,64.5 0 0 1 148.89,313.26 L161.11,308.81 A51.5,51.5 0 0 0 175.04,329.47 Z" fill="#8fd8f8" stroke="#8fd8f8" stroke-width="0.3"/>
<path d="M148.89,313.26 A64.5,64.5 0 0 1 146.41,304.61 L159.13,301.91 A51.5,51.5 0 0 0 161.11,308.81 Z" fill="#8fd8f8" stroke="#8fd8f8" stroke-width="0.3"/>
<path d="M146.41,304.61 A64.5,64.5 0 0 1 145.16,295.70 L158.13,294.79 A51.5,51.5 0 0 0 159.13,301.91 Z" fill="#8fd8f8" stroke="#8fd8f8" stroke-width="0.3"/>
<path d="M145.16,295.70 A64.5,64.5 0 0 1 145.16,286.70 L158.13,287.61 A51.5,51.5 0 0 0 158.13,294.79 Z" fill="#8fd8f8" stroke="#8fd8f8" stroke-width="0.3"/>
<path d="M145.16,286.70 A64.5,64.5 0 0 1 146.19,278.89 L158.95,281.37 A51.5,51.5 0 0 0 158.13,287.61 Z" fill="#8fd8f8" stroke="#8fd8f8" stroke-width="0.3"/>
<path d="M146.19,278.89 A64.5,64.5 0 0 1 148.16,271.27 L160.52,275.29 A51.5,51.5 0 0 0 158.95,281.37 Z" fill="#8fd8f8" stroke="#8fd8f8" stroke-width="0.3"/>
<path d="M148.16,271.27 A64.5,64.5 0 0 1 150.58,264.97 L162.45,270.25 A51.5,51.5 0 0 0 160.52,275.29 Z" fill="#8fd8f8" stroke="#8fd8f8" stroke-width="0.3"/>
<path d="M150.58,264.97 A64.5,64.5 0 0 1 153.64,258.95 L164.90,265.45 A51.5,51.5 0 0 0 162.45,270.25 Z" fill="#8fd8f8" stroke="#8fd8f8" stroke-width="0.3"/>
<path d="M153.64,258.95 A64.5,64.5 0 0 1 157.32,253.29 L167.84,260.93 A51.5,51.5 0 0 0 164.90,265.45 Z" fill="#8fd8f8" stroke="#8fd8f8" stroke-width="0.3"/>
<path d="M157.32,253.29 A64.5,64.5 0 0 1 160.82,248.88 L170.63,257.41 A51.5,51.5 0 0 0 167.84,260.93 Z" fill="#96dbf8" stroke="#96dbf8" stroke-width="0.3"/>
<path d="M160.82,248.88 A64.5,64.5 0 0 1 164.69,244.80 L173.73,254.15 A51.5,51.5 0 0 0 170.63,257.41 Z" fill="#9dddf9" stroke="#9dddf9" stroke-width="0.3"/>
<path d="M164.69,244.80 A64.5,64.5 0 0 1 168.04,241.79 L176.40,251.75 A51.5,51.5 0 0 0 173.73,254.15 Z" fill="#a2dff9" stroke="#a2dff9" stroke-width="0.3"/>
<path d="M168.04,241.79 A64.5,64.5 0 0 1 171.59,239.02 L179.23,249.54 A51.5,51.5 0 0 0 176.40,251.75 Z" fill="#a7e0fa" stroke="#a7e0fa" stroke-width="0.3"/>
<path d="M171.59,239.02 A64.5,64.5 0 0 1 175.32,236.50 L182.21,247.53 A51.5,51.5 0 0 0 179.23,249.54 Z" fill="#ace2fa" stroke="#ace2fa" stroke-width="0.3"/>
<path d="M175.32,236.50 A64.5,64.5 0 0 1 178.23,234.79 L184.53,246.16 A51.5,51.5 0 0 0 182.21,247.53 Z" fill="#b1e4fa" stroke="#b1e4fa" stroke-width="0.3"/>
<path d="M178.23,234.79 A64.5,64.5 0 0 1 181.23,233.23 L186.92,244.91 A51.5,51.5 0 0 0 184.53,246.16 Z" fill="#b5e5fa" stroke="#b5e5fa" stroke-width="0.3"/>
<path d="M181.23,233.23 A64.5,64.5 0 0 1 184.30,231.83 L189.38,243.79 A51.5,51.5 0 0 0 186.92,244.91 Z" fill="#b8e6fb" stroke="#b8e6fb" stroke-width="0.3"/>
<path d="M184.30,231.83 A64.5,64.5 0 0 1 187.44,230.59 L191.89,242.81 A51.5,51.5 0 0 0 189.38,243.79 Z" fill="#bce8fb" stroke="#bce8fb" stroke-width="0.3"/>
<path d="M187.44,230.59 A64.5,64.5 0 0 1 189.57,229.86 L193.59,242.22 A51.5,51.5 0 0 0 191.89,242.81 Z" fill="#bfe9fb" stroke="#bfe9fb" stroke-width="0.3"/>
<path d="M189.57,229.86 A64.5,64.5 0 0 1 191.72,229.20 L195.30,241.70 A51.5,51.5 0 0 0 193.59,242.22 Z" fill="#c2eafb" stroke="#c2eafb" stroke-width="0.3"/>
<path d="M191.72,229.20 A64.5,64.5 0 0 1 193.90,228.62 L197.04,241.23 A51.5,51.5 0 0 0 195.30,241.70 Z" fill="#c4ebfb" stroke="#c4ebfb" stroke-width="0.3"/>
<path d="M193.90,228.62 A64.5,64.5 0 0 1 196.09,228.11 L198.79,240.83 A51.5,51.5 0 0 0 197.04,241.23 Z" fill="#c7ebfb" stroke="#c7ebfb" stroke-width="0.3"/>
<path d="M196.09,228.11 A64.5,64.5 0 0 1 198.30,227.68 L200.56,240.48 A51.5,51.5 0 0 0 198.79,240.83 Z" fill="#c9ecfc" stroke="#c9ecfc" stroke-width="0.3"/>
<path d="M198.30,227.68 A64.5,64.5 0 0 1 200.52,227.33 L202.33,240.20 A51.5,51.5 0 0 0 200.56,240.48 Z" fill="#ccedfc" stroke="#ccedfc" stroke-width="0.3"/>
<path d="M200.52,227.33 A64.5,64.5 0 0 1 202.76,227.05 L204.12,239.98 A51.5,51.5 0 0 0 202.33,240.20 Z" fill="#ceeefc" stroke="#ceeefc" stroke-width="0.3"/>
<path d="M202.76,227.05 A64.5,64.5 0 0 1 205.00,226.86 L205.91,239.83 A51.5,51.5 0 0 0 204.12,239.98 Z" fill="#d1effc" stroke="#d1effc" stroke-width="0.3"/>
<line x1="226.27" y1="339.89" x2="230.50" y2="352.19" stroke="#fff" stroke-width="0.4"/>
<line x1="175.04" y1="329.47" x2="166.34" y2="339.13" stroke="#fff" stroke-width="0.4"/>
<line x1="161.11" y1="308.81" x2="148.89" y2="313.26" stroke="#fff" stroke-width="0.4"/>
<line x1="159.13" y1="301.91" x2="146.41" y2="304.61" stroke="#fff" stroke-width="0.4"/>
<line x1="158.13" y1="294.79" x2="145.16" y2="295.70" stroke="#fff" stroke-width="0.4"/>
<line x1="158.13" y1="287.61" x2="145.16" y2="286.70" stroke="#fff" stroke-width="0.4"/>
<line x1="158.95" y1="281.37" x2="146.19" y2="278.89" stroke="#fff" stroke-width="0.4"/>
<line x1="160.52" y1="275.29" x2="148.16" y2="271.27" stroke="#fff" stroke-width="0.4"/>
<line x1="162.45" y1="270.25" x2="150.58" y2="264.97" stroke="#fff" stroke-width="0.4"/>
<line x1="164.90" y1="265.45" x2="153.64" y2="258.95" stroke="#fff" stroke-width="0.4"/>
<line x1="167.84" y1="260.93" x2="157.32" y2="253.29" stroke="#fff" stroke-width="0.4"/>
<line x1="170.63" y1="257.41" x2="160.82" y2="248.88" stroke="#fff" stroke-width="0.4"/>
<line x1="173.73" y1="254.15" x2="164.69" y2="244.80" stroke="#fff" stroke-width="0.4"/>
<line x1="176.40" y1="251.75" x2="168.04" y2="241.79" stroke="#fff" stroke-width="0.4"/>
<line x1="179.23" y1="249.54" x2="171.59" y2="239.02" stroke="#fff" stroke-width="0.4"/>
<line x1="182.21" y1="247.53" x2="175.32" y2="236.50" stroke="#fff" stroke-width="0.4"/>
<line x1="184.53" y1="246.16" x2="178.23" y2="234.79" stroke="#fff" stroke-width="0.4"/>
<line x1="186.92" y1="244.91" x2="181.23" y2="233.23" stroke="#fff" stroke-width="0.4"/>
<line x1="189.38" y1="243.79" x2="184.30" y2="231.83" stroke="#fff" stroke-width="0.4"/>
<line x1="191.89" y1="242.81" x2="187.44" y2="230.59" stroke="#fff" stroke-width="0.4"/>
<line x1="193.59" y1="242.22" x2="189.57" y2="229.86" stroke="#fff" stroke-width="0.4"/>
<line x1="195.30" y1="241.70" x2="191.72" y2="229.20" stroke="#fff" stroke-width="0.4"/>
<line x1="197.04" y1="241.23" x2="193.90" y2="228.62" stroke="#fff" stroke-width="0.4"/>
<line x1="198.79" y1="240.83" x2="196.09" y2="228.11" stroke="#fff" stroke-width="0.4"/>
<line x1="200.56" y1="240.48" x2="198.30" y2="227.68" stroke="#fff" stroke-width="0.4"/>
<line x1="202.33" y1="240.20" x2="200.52" y2="227.33" stroke="#fff" stroke-width="0.4"/>
<line x1="204.12" y1="239.98" x2="202.76" y2="227.05" stroke="#fff" stroke-width="0.4"/>
<path d="M206.12,226.79 A64.5,64.5 0 0 1 208.37,226.71 L208.60,239.71 A51.5,51.5 0 0 0 206.80,239.77 Z" fill="#cc99ff" stroke="#cc99ff" stroke-width="0.3"/>
<path d="M208.37,226.71 A64.5,64.5 0 0 1 210.63,226.71 L210.40,239.71 A51.5,51.5 0 0 0 208.60,239.71 Z" fill="#cc99ff" stroke="#cc99ff" stroke-width="0.3"/>
<path d="M210.63,226.71 A64.5,64.5 0 0 1 212.88,226.79 L212.20,239.77 A51.5,51.5 0 0 0 210.40,239.71 Z" fill="#cd9aff" stroke="#cd9aff" stroke-width="0.3"/>
<path d="M212.88,226.79 A64.5,64.5 0 0 1 215.12,226.95 L213.99,239.90 A51.5,51.5 0 0 0 212.20,239.77 Z" fill="#d4a9ff" stroke="#d4a9ff" stroke-width="0.3"/>
<path d="M215.12,226.95 A64.5,64.5 0 0 1 216.80,227.11 L215.33,240.03 A51.5,51.5 0 0 0 213.99,239.90 Z" fill="#dab5ff" stroke="#dab5ff" stroke-width="0.3"/>
<path d="M216.80,227.11 A64.5,64.5 0 0 1 218.48,227.33 L216.67,240.20 A51.5,51.5 0 0 0 215.33,240.03 Z" fill="#dfc0ff" stroke="#dfc0ff" stroke-width="0.3"/>
<path d="M218.48,227.33 A64.5,64.5 0 0 1 219.59,227.49 L217.56,240.33 A51.5,51.5 0 0 0 216.67,240.20 Z" fill="#e4c8ff" stroke="#e4c8ff" stroke-width="0.3"/>
<line x1="208.60" y1="239.71" x2="208.37" y2="226.71" stroke="#fff" stroke-width="0.4"/>
<line x1="210.40" y1="239.71" x2="210.63" y2="226.71" stroke="#fff" stroke-width="0.4"/>
<line x1="212.20" y1="239.77" x2="212.88" y2="226.79" stroke="#fff" stroke-width="0.4"/>
<line x1="213.99" y1="239.90" x2="215.12" y2="226.95" stroke="#fff" stroke-width="0.4"/>
<line x1="215.33" y1="240.03" x2="216.80" y2="227.11" stroke="#fff" stroke-width="0.4"/>
<line x1="216.67" y1="240.20" x2="218.48" y2="227.33" stroke="#fff" stroke-width="0.4"/>
<path d="M220.26,227.60 A64.5,64.5 0 0 1 223.24,228.18 L220.47,240.88 A51.5,51.5 0 0 0 218.09,240.42 Z" fill="#BBBBBB"/>
<path d="M224.01,228.35 A64.5,64.5 0 0 1 228.36,229.52 L224.56,241.95 A51.5,51.5 0 0 0 221.08,241.02 Z" fill="#f0939b" stroke="#f0939b" stroke-width="0.3"/>
<path d="M228.36,229.52 A64.5,64.5 0 0 1 232.61,230.98 L227.96,243.12 A51.5,51.5 0 0 0 224.56,241.95 Z" fill="#f0939b" stroke="#f0939b" stroke-width="0.3"/>
<path d="M232.61,230.98 A64.5,64.5 0 0 1 235.73,232.28 L230.45,244.15 A51.5,51.5 0 0 0 227.96,243.12 Z" fill="#f0939b" stroke="#f0939b" stroke-width="0.3"/>
<path d="M235.73,232.28 A64.5,64.5 0 0 1 238.78,233.73 L232.88,245.31 A51.5,51.5 0 0 0 230.45,244.15 Z" fill="#f0939b" stroke="#f0939b" stroke-width="0.3"/>
<path d="M238.78,233.73 A64.5,64.5 0 0 1 241.75,235.34 L235.25,246.60 A51.5,51.5 0 0 0 232.88,245.31 Z" fill="#f0939b" stroke="#f0939b" stroke-width="0.3"/>
<path d="M241.75,235.34 A64.5,64.5 0 0 1 244.63,237.11 L237.55,248.01 A51.5,51.5 0 0 0 235.25,246.60 Z" fill="#f0939b" stroke="#f0939b" stroke-width="0.3"/>
<path d="M244.63,237.11 A64.5,64.5 0 0 1 247.41,239.02 L239.77,249.54 A51.5,51.5 0 0 0 237.55,248.01 Z" fill="#f0939b" stroke="#f0939b" stroke-width="0.3"/>
<path d="M247.41,239.02 A64.5,64.5 0 0 1 249.21,240.37 L241.21,250.62 A51.5,51.5 0 0 0 239.77,249.54 Z" fill="#f198a0" stroke="#f198a0" stroke-width="0.3"/>
<path d="M249.21,240.37 A64.5,64.5 0 0 1 250.96,241.79 L242.60,251.75 A51.5,51.5 0 0 0 241.21,250.62 Z" fill="#f2a1a8" stroke="#f2a1a8" stroke-width="0.3"/>
<path d="M250.96,241.79 A64.5,64.5 0 0 1 252.66,243.27 L243.96,252.93 A51.5,51.5 0 0 0 242.60,251.75 Z" fill="#f3a9b0" stroke="#f3a9b0" stroke-width="0.3"/>
<path d="M252.66,243.27 A64.5,64.5 0 0 1 254.31,244.80 L245.27,254.15 A51.5,51.5 0 0 0 243.96,252.93 Z" fill="#f4b2b7" stroke="#f4b2b7" stroke-width="0.3"/>
<path d="M254.31,244.80 A64.5,64.5 0 0 1 255.90,246.39 L246.55,255.43 A51.5,51.5 0 0 0 245.27,254.15 Z" fill="#f5babf" stroke="#f5babf" stroke-width="0.3"/>
<path d="M255.90,246.39 A64.5,64.5 0 0 1 257.43,248.04 L247.77,256.74 A51.5,51.5 0 0 0 246.55,255.43 Z" fill="#f7c3c7" stroke="#f7c3c7" stroke-width="0.3"/>
<path d="M257.43,248.04 A64.5,64.5 0 0 1 258.55,249.31 L248.66,257.75 A51.5,51.5 0 0 0 247.77,256.74 Z" fill="#f8cace" stroke="#f8cace" stroke-width="0.3"/>
<path d="M258.55,249.31 A64.5,64.5 0 0 1 259.63,250.61 L249.52,258.79 A51.5,51.5 0 0 0 248.66,257.75 Z" fill="#f9d1d4" stroke="#f9d1d4" stroke-width="0.3"/>
<line x1="224.56" y1="241.95" x2="228.36" y2="229.52" stroke="#fff" stroke-width="0.4"/>
<line x1="227.96" y1="243.12" x2="232.61" y2="230.98" stroke="#fff" stroke-width="0.4"/>
<line x1="230.45" y1="244.15" x2="235.73" y2="232.28" stroke="#fff" stroke-width="0.4"/>
<line x1="232.88" y1="245.31" x2="238.78" y2="233.73" stroke="#fff" stroke-width="0.4"/>
<line x1="235.25" y1="246.60" x2="241.75" y2="235.34" stroke="#fff" stroke-width="0.4"/>
<line x1="237.55" y1="248.01" x2="244.63" y2="237.11" stroke="#fff" stroke-width="0.4"/>
<line x1="239.77" y1="249.54" x2="247.41" y2="239.02" stroke="#fff" stroke-width="0.4"/>
<line x1="241.21" y1="250.62" x2="249.21" y2="240.37" stroke="#fff" stroke-width="0.4"/>
<line x1="242.60" y1="251.75" x2="250.96" y2="241.79" stroke="#fff" stroke-width="0.4"/>
<line x1="243.96" y1="252.93" x2="252.66" y2="243.27" stroke="#fff" stroke-width="0.4"/>
<line x1="245.27" y1="254.15" x2="254.31" y2="244.80" stroke="#fff" stroke-width="0.4"/>
<line x1="246.55" y1="255.43" x2="255.90" y2="246.39" stroke="#fff" stroke-width="0.4"/>
<line x1="247.77" y1="256.74" x2="257.43" y2="248.04" stroke="#fff" stroke-width="0.4"/>
<line x1="248.66" y1="257.75" x2="258.55" y2="249.31" stroke="#fff" stroke-width="0.4"/>
<path d="M260.60,251.85 A64.5,64.5 0 0 1 263.59,256.07 L252.69,263.15 A51.5,51.5 0 0 0 250.30,259.78 Z" fill="#daaa38" stroke="#daaa38" stroke-width="0.3"/>
<path d="M263.59,256.07 A64.5,64.5 0 0 1 265.91,259.93 L254.54,266.23 A51.5,51.5 0 0 0 252.69,263.15 Z" fill="#daaa38" stroke="#daaa38" stroke-width="0.3"/>
<path d="M265.91,259.93 A64.5,64.5 0 0 1 267.96,263.94 L256.17,269.44 A51.5,51.5 0 0 0 254.54,266.23 Z" fill="#daaa38" stroke="#daaa38" stroke-width="0.3"/>
<path d="M267.96,263.94 A64.5,64.5 0 0 1 269.72,268.09 L257.58,272.74 A51.5,51.5 0 0 0 256.17,269.44 Z" fill="#daaa38" stroke="#daaa38" stroke-width="0.3"/>
<path d="M269.72,268.09 A64.5,64.5 0 0 1 271.18,272.34 L258.75,276.14 A51.5,51.5 0 0 0 257.58,272.74 Z" fill="#daaa38" stroke="#daaa38" stroke-width="0.3"/>
<path d="M271.18,272.34 A64.5,64.5 0 0 1 272.35,276.69 L259.68,279.62 A51.5,51.5 0 0 0 258.75,276.14 Z" fill="#daaa38" stroke="#daaa38" stroke-width="0.3"/>
<path d="M272.35,276.69 A64.5,64.5 0 0 1 273.02,280.00 L260.22,282.26 A51.5,51.5 0 0 0 259.68,279.62 Z" fill="#ddb24a" stroke="#ddb24a" stroke-width="0.3"/>
<path d="M273.02,280.00 A64.5,64.5 0 0 1 273.52,283.34 L260.62,284.92 A51.5,51.5 0 0 0 260.22,282.26 Z" fill="#e3bf69" stroke="#e3bf69" stroke-width="0.3"/>
<path d="M273.52,283.34 A64.5,64.5 0 0 1 273.75,285.58 L260.80,286.71 A51.5,51.5 0 0 0 260.62,284.92 Z" fill="#e8ca84" stroke="#e8ca84" stroke-width="0.3"/>
<path d="M273.75,285.58 A64.5,64.5 0 0 1 273.91,287.82 L260.93,288.50 A51.5,51.5 0 0 0 260.80,286.71 Z" fill="#ecd399" stroke="#ecd399" stroke-width="0.3"/>
<path d="M273.91,287.82 A64.5,64.5 0 0 1 273.98,289.51 L260.98,289.85 A51.5,51.5 0 0 0 260.93,288.50 Z" fill="#efdbab" stroke="#efdbab" stroke-width="0.3"/>
<path d="M273.98,289.51 A64.5,64.5 0 0 1 274.00,291.20 L261.00,291.20 A51.5,51.5 0 0 0 260.98,289.85 Z" fill="#f2e2bb" stroke="#f2e2bb" stroke-width="0.3"/>
<line x1="252.69" y1="263.15" x2="263.59" y2="256.07" stroke="#fff" stroke-width="0.4"/>
<line x1="254.54" y1="266.23" x2="265.91" y2="259.93" stroke="#fff" stroke-width="0.4"/>
<line x1="256.17" y1="269.44" x2="267.96" y2="263.94" stroke="#fff" stroke-width="0.4"/>
<line x1="257.58" y1="272.74" x2="269.72" y2="268.09" stroke="#fff" stroke-width="0.4"/>
<line x1="258.75" y1="276.14" x2="271.18" y2="272.34" stroke="#fff" stroke-width="0.4"/>
<line x1="259.68" y1="279.62" x2="272.35" y2="276.69" stroke="#fff" stroke-width="0.4"/>
<line x1="260.22" y1="282.26" x2="273.02" y2="280.00" stroke="#fff" stroke-width="0.4"/>
<line x1="260.62" y1="284.92" x2="273.52" y2="283.34" stroke="#fff" stroke-width="0.4"/>
<line x1="260.80" y1="286.71" x2="273.75" y2="285.58" stroke="#fff" stroke-width="0.4"/>
<line x1="260.93" y1="288.50" x2="273.91" y2="287.82" stroke="#fff" stroke-width="0.4"/>
<line x1="260.98" y1="289.85" x2="273.98" y2="289.51" stroke="#fff" stroke-width="0.4"/>
<text x="210.70" y="296.70" font-size="10.5" text-anchor="middle" fill="#111" stroke="#111" stroke-width="0.4" font-weight="bold">ESI+</text>
<text x="210.80" y="254.50" font-size="8.7" text-anchor="middle" fill="#1e1e1e" stroke="#1e1e1e" stroke-width="0.22">4.6%</text>
<text x="230.00" y="267.70" font-size="8.7" text-anchor="middle" fill="#1e1e1e" stroke="#1e1e1e" stroke-width="0.22">11.0%</text>
<text x="239.00" y="286.00" font-size="8.7" text-anchor="middle" fill="#1e1e1e" stroke="#1e1e1e" stroke-width="0.22">10.2%</text>
<text x="186.30" y="308.80" font-size="8.7" text-anchor="middle" fill="#1e1e1e" stroke="#1e1e1e" stroke-width="0.22">72.8%</text>
<rect x="26.70" y="199.20" width="11.60" height="7.00" fill="#F0939B"/>
<text x="44.90" y="206.40" font-size="10.4" text-anchor="start" fill="#1e1e1e" stroke="#1e1e1e" stroke-width="0.22">CHO</text>
<rect x="26.70" y="217.55" width="11.60" height="7.00" fill="#DAAA38"/>
<text x="44.90" y="224.75" font-size="10.4" text-anchor="start" fill="#1e1e1e" stroke="#1e1e1e" stroke-width="0.22">CHN</text>
<rect x="26.70" y="235.90" width="11.60" height="7.00" fill="#8FD8F8"/>
<text x="44.90" y="243.10" font-size="10.4" text-anchor="start" fill="#1e1e1e" stroke="#1e1e1e" stroke-width="0.22">CHON</text>
<rect x="26.70" y="254.25" width="11.60" height="7.00" fill="#CC99FF"/>
<text x="44.90" y="261.45" font-size="10.4" text-anchor="start" fill="#1e1e1e" stroke="#1e1e1e" stroke-width="0.22">CHONS</text>
<rect x="26.70" y="272.60" width="11.60" height="7.00" fill="#BBBBBB"/>
<text x="44.90" y="279.80" font-size="10.4" text-anchor="start" fill="#1e1e1e" stroke="#1e1e1e" stroke-width="0.22">others</text>
<text x="2.20" y="199.20" font-size="13" text-anchor="start" fill="#1e1e1e" stroke="#1e1e1e" stroke-width="0.22">(b)</text>
<path d="M565.86,250.40 A40.8,40.8 0 0 1 606.26,292.98 L586.08,292.10 A20.6,20.6 0 0 0 565.68,270.60 Z" fill="#F0939B"/>
<path d="M606.26,292.98 A40.8,40.8 0 0 1 524.70,290.84 L544.90,291.02 A20.6,20.6 0 0 0 586.08,292.10 Z" fill="#8FD8F8"/>
<path d="M524.70,290.84 A40.8,40.8 0 0 1 561.24,250.62 L563.35,270.71 A20.6,20.6 0 0 0 544.90,291.02 Z" fill="#82EC5A"/>
<path d="M561.24,250.62 A40.8,40.8 0 0 1 565.14,250.40 L565.32,270.60 A20.6,20.6 0 0 0 563.35,270.71 Z" fill="#CC99FF"/>
<line x1="565.68" y1="270.60" x2="565.86" y2="250.40" stroke="#fff" stroke-width="0.7"/>
<line x1="586.08" y1="292.10" x2="606.26" y2="292.98" stroke="#fff" stroke-width="0.7"/>
<line x1="544.90" y1="291.02" x2="524.70" y2="290.84" stroke="#fff" stroke-width="0.7"/>
<line x1="563.35" y1="270.71" x2="561.24" y2="250.62" stroke="#fff" stroke-width="0.7"/>
<line x1="565.32" y1="270.60" x2="565.14" y2="250.40" stroke="#fff" stroke-width="0.7"/>
<path d="M566.06,226.70 A64.5,64.5 0 0 1 578.91,228.11 L576.21,240.83 A51.5,51.5 0 0 0 565.95,239.70 Z" fill="#f0939b" stroke="#f0939b" stroke-width="0.3"/>
<path d="M578.91,228.11 A64.5,64.5 0 0 1 589.24,231.23 L584.46,243.32 A51.5,51.5 0 0 0 576.21,240.83 Z" fill="#f0939b" stroke="#f0939b" stroke-width="0.3"/>
<path d="M589.24,231.23 A64.5,64.5 0 0 1 601.57,237.73 L594.30,248.50 A51.5,51.5 0 0 0 584.46,243.32 Z" fill="#f0939b" stroke="#f0939b" stroke-width="0.3"/>
<path d="M601.57,237.73 A64.5,64.5 0 0 1 611.11,245.59 L601.92,254.78 A51.5,51.5 0 0 0 594.30,248.50 Z" fill="#f0939b" stroke="#f0939b" stroke-width="0.3"/>
<path d="M611.11,245.59 A64.5,64.5 0 0 1 617.01,252.38 L606.63,260.21 A51.5,51.5 0 0 0 601.92,254.78 Z" fill="#f0939b" stroke="#f0939b" stroke-width="0.3"/>
<path d="M617.01,252.38 A64.5,64.5 0 0 1 621.91,259.93 L610.54,266.23 A51.5,51.5 0 0 0 606.63,260.21 Z" fill="#f0939b" stroke="#f0939b" stroke-width="0.3"/>
<path d="M621.91,259.93 A64.5,64.5 0 0 1 624.42,264.97 L612.55,270.25 A51.5,51.5 0 0 0 610.54,266.23 Z" fill="#f0939b" stroke="#f0939b" stroke-width="0.3"/>
<path d="M624.42,264.97 A64.5,64.5 0 0 1 626.11,269.14 L613.89,273.59 A51.5,51.5 0 0 0 612.55,270.25 Z" fill="#f198a0" stroke="#f198a0" stroke-width="0.3"/>
<path d="M626.11,269.14 A64.5,64.5 0 0 1 627.18,272.34 L614.75,276.14 A51.5,51.5 0 0 0 613.89,273.59 Z" fill="#f2a1a8" stroke="#f2a1a8" stroke-width="0.3"/>
<path d="M627.18,272.34 A64.5,64.5 0 0 1 628.08,275.60 L615.47,278.74 A51.5,51.5 0 0 0 614.75,276.14 Z" fill="#f3a9af" stroke="#f3a9af" stroke-width="0.3"/>
<path d="M628.08,275.60 A64.5,64.5 0 0 1 628.59,277.79 L615.87,280.49 A51.5,51.5 0 0 0 615.47,278.74 Z" fill="#f4afb5" stroke="#f4afb5" stroke-width="0.3"/>
<path d="M628.59,277.79 A64.5,64.5 0 0 1 629.02,280.00 L616.22,282.26 A51.5,51.5 0 0 0 615.87,280.49 Z" fill="#f5b4ba" stroke="#f5b4ba" stroke-width="0.3"/>
<path d="M629.02,280.00 A64.5,64.5 0 0 1 629.37,282.22 L616.50,284.03 A51.5,51.5 0 0 0 616.22,282.26 Z" fill="#f5b9be" stroke="#f5b9be" stroke-width="0.3"/>
<path d="M629.37,282.22 A64.5,64.5 0 0 1 629.65,284.46 L616.72,285.82 A51.5,51.5 0 0 0 616.50,284.03 Z" fill="#f6bec3" stroke="#f6bec3" stroke-width="0.3"/>
<path d="M629.65,284.46 A64.5,64.5 0 0 1 629.80,286.14 L616.84,287.16 A51.5,51.5 0 0 0 616.72,285.82 Z" fill="#f7c3c7" stroke="#f7c3c7" stroke-width="0.3"/>
<path d="M629.80,286.14 A64.5,64.5 0 0 1 629.91,287.82 L616.93,288.50 A51.5,51.5 0 0 0 616.84,287.16 Z" fill="#f7c6cb" stroke="#f7c6cb" stroke-width="0.3"/>
<path d="M629.91,287.82 A64.5,64.5 0 0 1 629.98,289.51 L616.98,289.85 A51.5,51.5 0 0 0 616.93,288.50 Z" fill="#f8cace" stroke="#f8cace" stroke-width="0.3"/>
<path d="M629.98,289.51 A64.5,64.5 0 0 1 630.00,291.20 L617.00,291.20 A51.5,51.5 0 0 0 616.98,289.85 Z" fill="#f8ced2" stroke="#f8ced2" stroke-width="0.3"/>
<path d="M630.00,291.20 A64.5,64.5 0 0 1 629.98,292.89 L616.98,292.55 A51.5,51.5 0 0 0 617.00,291.20 Z" fill="#f9d2d5" stroke="#f9d2d5" stroke-width="0.3"/>
<line x1="576.21" y1="240.83" x2="578.91" y2="228.11" stroke="#fff" stroke-width="0.4"/>
<line x1="584.46" y1="243.32" x2="589.24" y2="231.23" stroke="#fff" stroke-width="0.4"/>
<line x1="594.30" y1="248.50" x2="601.57" y2="237.73" stroke="#fff" stroke-width="0.4"/>
<line x1="601.92" y1="254.78" x2="611.11" y2="245.59" stroke="#fff" stroke-width="0.4"/>
<line x1="606.63" y1="260.21" x2="617.01" y2="252.38" stroke="#fff" stroke-width="0.4"/>
<line x1="610.54" y1="266.23" x2="621.91" y2="259.93" stroke="#fff" stroke-width="0.4"/>
<line x1="612.55" y1="270.25" x2="624.42" y2="264.97" stroke="#fff" stroke-width="0.4"/>
<line x1="613.89" y1="273.59" x2="626.11" y2="269.14" stroke="#fff" stroke-width="0.4"/>
<line x1="614.75" y1="276.14" x2="627.18" y2="272.34" stroke="#fff" stroke-width="0.4"/>
<line x1="615.47" y1="278.74" x2="628.08" y2="275.60" stroke="#fff" stroke-width="0.4"/>
<line x1="615.87" y1="280.49" x2="628.59" y2="277.79" stroke="#fff" stroke-width="0.4"/>
<line x1="616.22" y1="282.26" x2="629.02" y2="280.00" stroke="#fff" stroke-width="0.4"/>
<line x1="616.50" y1="284.03" x2="629.37" y2="282.22" stroke="#fff" stroke-width="0.4"/>
<line x1="616.72" y1="285.82" x2="629.65" y2="284.46" stroke="#fff" stroke-width="0.4"/>
<line x1="616.84" y1="287.16" x2="629.80" y2="286.14" stroke="#fff" stroke-width="0.4"/>
<line x1="616.93" y1="288.50" x2="629.91" y2="287.82" stroke="#fff" stroke-width="0.4"/>
<line x1="616.98" y1="289.85" x2="629.98" y2="289.51" stroke="#fff" stroke-width="0.4"/>
<line x1="617.00" y1="291.20" x2="630.00" y2="291.20" stroke="#fff" stroke-width="0.4"/>
<path d="M629.91,294.58 A64.5,64.5 0 0 1 584.90,352.71 L580.99,340.32 A51.5,51.5 0 0 0 616.93,293.90 Z" fill="#8fd8f8" stroke="#8fd8f8" stroke-width="0.3"/>
<path d="M584.90,352.71 A64.5,64.5 0 0 1 549.90,353.78 L553.04,341.17 A51.5,51.5 0 0 0 580.99,340.32 Z" fill="#8fd8f8" stroke="#8fd8f8" stroke-width="0.3"/>
<path d="M549.90,353.78 A64.5,64.5 0 0 1 542.39,351.42 L547.04,339.28 A51.5,51.5 0 0 0 553.04,341.17 Z" fill="#8fd8f8" stroke="#8fd8f8" stroke-width="0.3"/>
<path d="M542.39,351.42 A64.5,64.5 0 0 1 533.25,347.06 L539.75,335.80 A51.5,51.5 0 0 0 547.04,339.28 Z" fill="#8fd8f8" stroke="#8fd8f8" stroke-width="0.3"/>
<path d="M533.25,347.06 A64.5,64.5 0 0 1 527.59,343.38 L535.23,332.86 A51.5,51.5 0 0 0 539.75,335.80 Z" fill="#8fd8f8" stroke="#8fd8f8" stroke-width="0.3"/>
<path d="M527.59,343.38 A64.5,64.5 0 0 1 521.51,338.37 L530.38,328.86 A51.5,51.5 0 0 0 535.23,332.86 Z" fill="#8fd8f8" stroke="#8fd8f8" stroke-width="0.3"/>
<path d="M521.51,338.37 A64.5,64.5 0 0 1 516.82,333.52 L526.63,324.99 A51.5,51.5 0 0 0 530.38,328.86 Z" fill="#8fd8f8" stroke="#8fd8f8" stroke-width="0.3"/>
<path d="M516.82,333.52 A64.5,64.5 0 0 1 513.32,329.11 L523.84,321.47 A51.5,51.5 0 0 0 526.63,324.99 Z" fill="#8fd8f8" stroke="#8fd8f8" stroke-width="0.3"/>
<path d="M513.32,329.11 A64.5,64.5 0 0 1 510.80,325.38 L521.83,318.49 A51.5,51.5 0 0 0 523.84,321.47 Z" fill="#8fd8f8" stroke="#8fd8f8" stroke-width="0.3"/>
<path d="M510.80,325.38 A64.5,64.5 0 0 1 508.55,321.48 L520.03,315.38 A51.5,51.5 0 0 0 521.83,318.49 Z" fill="#92d9f8" stroke="#92d9f8" stroke-width="0.3"/>
<path d="M508.55,321.48 A64.5,64.5 0 0 1 506.58,317.43 L518.45,312.15 A51.5,51.5 0 0 0 520.03,315.38 Z" fill="#9cddf9" stroke="#9cddf9" stroke-width="0.3"/>
<path d="M506.58,317.43 A64.5,64.5 0 0 1 505.28,314.31 L517.42,309.66 A51.5,51.5 0 0 0 518.45,312.15 Z" fill="#a5e0f9" stroke="#a5e0f9" stroke-width="0.3"/>
<path d="M505.28,314.31 A64.5,64.5 0 0 1 504.16,311.13 L516.52,307.11 A51.5,51.5 0 0 0 517.42,309.66 Z" fill="#ade3fa" stroke="#ade3fa" stroke-width="0.3"/>
<path d="M504.16,311.13 A64.5,64.5 0 0 1 503.20,307.89 L515.75,304.53 A51.5,51.5 0 0 0 516.52,307.11 Z" fill="#b5e5fa" stroke="#b5e5fa" stroke-width="0.3"/>
<path d="M503.20,307.89 A64.5,64.5 0 0 1 502.65,305.71 L515.32,302.78 A51.5,51.5 0 0 0 515.75,304.53 Z" fill="#bce8fb" stroke="#bce8fb" stroke-width="0.3"/>
<path d="M502.65,305.71 A64.5,64.5 0 0 1 502.19,303.51 L514.95,301.03 A51.5,51.5 0 0 0 515.32,302.78 Z" fill="#c1e9fb" stroke="#c1e9fb" stroke-width="0.3"/>
<path d="M502.19,303.51 A64.5,64.5 0 0 1 501.79,301.29 L514.63,299.26 A51.5,51.5 0 0 0 514.95,301.03 Z" fill="#c6ebfb" stroke="#c6ebfb" stroke-width="0.3"/>
<path d="M501.79,301.29 A64.5,64.5 0 0 1 501.48,299.06 L514.38,297.48 A51.5,51.5 0 0 0 514.63,299.26 Z" fill="#cbedfc" stroke="#cbedfc" stroke-width="0.3"/>
<path d="M501.48,299.06 A64.5,64.5 0 0 1 501.25,296.82 L514.20,295.69 A51.5,51.5 0 0 0 514.38,297.48 Z" fill="#d1effc" stroke="#d1effc" stroke-width="0.3"/>
<path d="M501.25,296.82 A64.5,64.5 0 0 1 501.09,294.58 L514.07,293.90 A51.5,51.5 0 0 0 514.20,295.69 Z" fill="#d6f1fc" stroke="#d6f1fc" stroke-width="0.3"/>
<path d="M501.09,294.58 A64.5,64.5 0 0 1 501.01,292.33 L514.01,292.10 A51.5,51.5 0 0 0 514.07,293.90 Z" fill="#dbf3fd" stroke="#dbf3fd" stroke-width="0.3"/>
<path d="M501.01,292.33 A64.5,64.5 0 0 1 501.01,290.07 L514.01,290.30 A51.5,51.5 0 0 0 514.01,292.10 Z" fill="#e0f4fd" stroke="#e0f4fd" stroke-width="0.3"/>
<line x1="580.99" y1="340.32" x2="584.90" y2="352.71" stroke="#fff" stroke-width="0.4"/>
<line x1="553.04" y1="341.17" x2="549.90" y2="353.78" stroke="#fff" stroke-width="0.4"/>
<line x1="547.04" y1="339.28" x2="542.39" y2="351.42" stroke="#fff" stroke-width="0.4"/>
<line x1="539.75" y1="335.80" x2="533.25" y2="347.06" stroke="#fff" stroke-width="0.4"/>
<line x1="535.23" y1="332.86" x2="527.59" y2="343.38" stroke="#fff" stroke-width="0.4"/>
<line x1="530.38" y1="328.86" x2="521.51" y2="338.37" stroke="#fff" stroke-width="0.4"/>
<line x1="526.63" y1="324.99" x2="516.82" y2="333.52" stroke="#fff" stroke-width="0.4"/>
<line x1="523.84" y1="321.47" x2="513.32" y2="329.11" stroke="#fff" stroke-width="0.4"/>
<line x1="521.83" y1="318.49" x2="510.80" y2="325.38" stroke="#fff" stroke-width="0.4"/>
<line x1="520.03" y1="315.38" x2="508.55" y2="321.48" stroke="#fff" stroke-width="0.4"/>
<line x1="518.45" y1="312.15" x2="506.58" y2="317.43" stroke="#fff" stroke-width="0.4"/>
<line x1="517.42" y1="309.66" x2="505.28" y2="314.31" stroke="#fff" stroke-width="0.4"/>
<line x1="516.52" y1="307.11" x2="504.16" y2="311.13" stroke="#fff" stroke-width="0.4"/>
<line x1="515.75" y1="304.53" x2="503.20" y2="307.89" stroke="#fff" stroke-width="0.4"/>
<line x1="515.32" y1="302.78" x2="502.65" y2="305.71" stroke="#fff" stroke-width="0.4"/>
<line x1="514.95" y1="301.03" x2="502.19" y2="303.51" stroke="#fff" stroke-width="0.4"/>
<line x1="514.63" y1="299.26" x2="501.79" y2="301.29" stroke="#fff" stroke-width="0.4"/>
<line x1="514.38" y1="297.48" x2="501.48" y2="299.06" stroke="#fff" stroke-width="0.4"/>
<line x1="514.20" y1="295.69" x2="501.25" y2="296.82" stroke="#fff" stroke-width="0.4"/>
<line x1="514.07" y1="293.90" x2="501.09" y2="294.58" stroke="#fff" stroke-width="0.4"/>
<line x1="514.01" y1="292.10" x2="501.01" y2="292.33" stroke="#fff" stroke-width="0.4"/>
<path d="M501.02,289.51 A64.5,64.5 0 0 1 503.20,274.51 L515.75,277.87 A51.5,51.5 0 0 0 514.02,289.85 Z" fill="#82ec5a" stroke="#82ec5a" stroke-width="0.3"/>
<path d="M503.20,274.51 A64.5,64.5 0 0 1 509.64,258.95 L520.90,265.45 A51.5,51.5 0 0 0 515.75,277.87 Z" fill="#82ec5a" stroke="#82ec5a" stroke-width="0.3"/>
<path d="M509.64,258.95 A64.5,64.5 0 0 1 516.09,249.74 L526.05,258.10 A51.5,51.5 0 0 0 520.90,265.45 Z" fill="#82ec5a" stroke="#82ec5a" stroke-width="0.3"/>
<path d="M516.09,249.74 A64.5,64.5 0 0 1 522.34,243.27 L531.04,252.93 A51.5,51.5 0 0 0 526.05,258.10 Z" fill="#82ec5a" stroke="#82ec5a" stroke-width="0.3"/>
<path d="M522.34,243.27 A64.5,64.5 0 0 1 527.59,239.02 L535.23,249.54 A51.5,51.5 0 0 0 531.04,252.93 Z" fill="#82ec5a" stroke="#82ec5a" stroke-width="0.3"/>
<path d="M527.59,239.02 A64.5,64.5 0 0 1 532.28,235.91 L538.98,247.06 A51.5,51.5 0 0 0 535.23,249.54 Z" fill="#82ec5a" stroke="#82ec5a" stroke-width="0.3"/>
<path d="M532.28,235.91 A64.5,64.5 0 0 1 536.22,233.73 L542.12,245.31 A51.5,51.5 0 0 0 538.98,247.06 Z" fill="#82ec5a" stroke="#82ec5a" stroke-width="0.3"/>
<path d="M536.22,233.73 A64.5,64.5 0 0 1 539.27,232.28 L544.55,244.15 A51.5,51.5 0 0 0 542.12,245.31 Z" fill="#83ec5b" stroke="#83ec5b" stroke-width="0.3"/>
<path d="M539.27,232.28 A64.5,64.5 0 0 1 542.39,230.98 L547.04,243.12 A51.5,51.5 0 0 0 544.55,244.15 Z" fill="#8dee69" stroke="#8dee69" stroke-width="0.3"/>
<path d="M542.39,230.98 A64.5,64.5 0 0 1 544.50,230.21 L548.73,242.51 A51.5,51.5 0 0 0 547.04,243.12 Z" fill="#96ef75" stroke="#96ef75" stroke-width="0.3"/>
<path d="M544.50,230.21 A64.5,64.5 0 0 1 546.64,229.52 L550.44,241.95 A51.5,51.5 0 0 0 548.73,242.51 Z" fill="#9df07e" stroke="#9df07e" stroke-width="0.3"/>
<path d="M546.64,229.52 A64.5,64.5 0 0 1 548.81,228.90 L552.17,241.45 A51.5,51.5 0 0 0 550.44,241.95 Z" fill="#a4f187" stroke="#a4f187" stroke-width="0.3"/>
<path d="M548.81,228.90 A64.5,64.5 0 0 1 550.99,228.35 L553.92,241.02 A51.5,51.5 0 0 0 552.17,241.45 Z" fill="#abf291" stroke="#abf291" stroke-width="0.3"/>
<path d="M550.99,228.35 A64.5,64.5 0 0 1 553.19,227.89 L555.67,240.65 A51.5,51.5 0 0 0 553.92,241.02 Z" fill="#b2f39a" stroke="#b2f39a" stroke-width="0.3"/>
<path d="M553.19,227.89 A64.5,64.5 0 0 1 554.85,227.58 L557.00,240.41 A51.5,51.5 0 0 0 555.67,240.65 Z" fill="#b9f4a2" stroke="#b9f4a2" stroke-width="0.3"/>
<path d="M554.85,227.58 A64.5,64.5 0 0 1 556.52,227.33 L558.33,240.20 A51.5,51.5 0 0 0 557.00,240.41 Z" fill="#bef5a9" stroke="#bef5a9" stroke-width="0.3"/>
<line x1="515.75" y1="277.87" x2="503.20" y2="274.51" stroke="#fff" stroke-width="0.4"/>
<line x1="520.90" y1="265.45" x2="509.64" y2="258.95" stroke="#fff" stroke-width="0.4"/>
<line x1="526.05" y1="258.10" x2="516.09" y2="249.74" stroke="#fff" stroke-width="0.4"/>
<line x1="531.04" y1="252.93" x2="522.34" y2="243.27" stroke="#fff" stroke-width="0.4"/>
<line x1="535.23" y1="249.54" x2="527.59" y2="239.02" stroke="#fff" stroke-width="0.4"/>
<line x1="538.98" y1="247.06" x2="532.28" y2="235.91" stroke="#fff" stroke-width="0.4"/>
<line x1="542.12" y1="245.31" x2="536.22" y2="233.73" stroke="#fff" stroke-width="0.4"/>
<line x1="544.55" y1="244.15" x2="539.27" y2="232.28" stroke="#fff" stroke-width="0.4"/>
<line x1="547.04" y1="243.12" x2="542.39" y2="230.98" stroke="#fff" stroke-width="0.4"/>
<line x1="548.73" y1="242.51" x2="544.50" y2="230.21" stroke="#fff" stroke-width="0.4"/>
<line x1="550.44" y1="241.95" x2="546.64" y2="229.52" stroke="#fff" stroke-width="0.4"/>
<line x1="552.17" y1="241.45" x2="548.81" y2="228.90" stroke="#fff" stroke-width="0.4"/>
<line x1="553.92" y1="241.02" x2="550.99" y2="228.35" stroke="#fff" stroke-width="0.4"/>
<line x1="555.67" y1="240.65" x2="553.19" y2="227.89" stroke="#fff" stroke-width="0.4"/>
<line x1="557.00" y1="240.41" x2="554.85" y2="227.58" stroke="#fff" stroke-width="0.4"/>
<path d="M556.75,227.30 A64.5,64.5 0 0 1 563.70,226.73 L564.06,239.72 A51.5,51.5 0 0 0 558.51,240.18 Z" fill="#cc99ff" stroke="#cc99ff" stroke-width="0.3"/>
<text x="566.00" y="295.40" font-size="10.5" text-anchor="middle" fill="#111" stroke="#111" stroke-width="0.4" font-weight="bold">ESI-</text>
<text x="566.70" y="256.70" font-size="8.7" text-anchor="middle" fill="#1e1e1e" stroke="#1e1e1e" stroke-width="0.22">2.2%</text>
<text x="593.30" y="280.20" font-size="8.7" text-anchor="middle" fill="#1e1e1e" stroke="#1e1e1e" stroke-width="0.22">27.1%</text>
<text x="538.40" y="279.00" font-size="8.7" text-anchor="middle" fill="#1e1e1e" stroke="#1e1e1e" stroke-width="0.22">22.6%</text>
<text x="559.60" y="322.70" font-size="8.7" text-anchor="middle" fill="#1e1e1e" stroke="#1e1e1e" stroke-width="0.22">50.3%</text>
<rect x="384.00" y="201.00" width="11.80" height="7.00" fill="#F0939B"/>
<text x="399.90" y="208.40" font-size="10.4" text-anchor="start" fill="#1e1e1e" stroke="#1e1e1e" stroke-width="0.22">CHO</text>
<rect x="384.00" y="217.95" width="11.80" height="7.00" fill="#8FD8F8"/>
<text x="399.90" y="225.35" font-size="10.4" text-anchor="start" fill="#1e1e1e" stroke="#1e1e1e" stroke-width="0.22">CHON</text>
<rect x="384.00" y="234.90" width="11.80" height="7.00" fill="#82EC5A"/>
<text x="399.90" y="242.30" font-size="10.4" text-anchor="start" fill="#1e1e1e" stroke="#1e1e1e" stroke-width="0.22">CHOS</text>
<rect x="384.00" y="251.85" width="11.80" height="7.00" fill="#CC99FF"/>
<text x="399.90" y="259.25" font-size="10.4" text-anchor="start" fill="#1e1e1e" stroke="#1e1e1e" stroke-width="0.22">CHONS</text>
<text x="341.80" y="198.80" font-size="13" text-anchor="start" fill="#1e1e1e" stroke="#1e1e1e" stroke-width="0.22">(e)</text>
<text x="133.70" y="221.70" font-size="10.0" text-anchor="start" fill="#1e1e1e" stroke="#1e1e1e" stroke-width="0.22"><tspan>C</tspan><tspan font-size="6.8" dy="2.5">n</tspan><tspan dy="-2.5">​</tspan><tspan> H</tspan><tspan font-size="6.8" dy="2.5">2n</tspan><tspan dy="-2.5">​</tspan><tspan> O</tspan><tspan font-size="6.8" dy="2.5">2</tspan><tspan dy="-2.5">​</tspan><tspan> N </tspan><tspan font-size="6.8" dy="2.5">2</tspan><tspan dy="-2.5">​</tspan><tspan> S</tspan><tspan font-size="6.8" dy="2.5">2</tspan><tspan dy="-2.5">​</tspan></text>
<text x="96.70" y="246.80" font-size="10.0" text-anchor="start" fill="#1e1e1e" stroke="#1e1e1e" stroke-width="0.22"><tspan>C</tspan><tspan font-size="6.8" dy="2.5">n</tspan><tspan dy="-2.5">​</tspan><tspan> H</tspan><tspan font-size="6.8" dy="2.5">2n-3</tspan><tspan dy="-2.5">​</tspan><tspan> O</tspan><tspan font-size="6.8" dy="2.5">4</tspan><tspan dy="-2.5">​</tspan><tspan> N</tspan></text>
<text x="85.70" y="261.90" font-size="10.0" text-anchor="start" fill="#1e1e1e" stroke="#1e1e1e" stroke-width="0.22"><tspan>C</tspan><tspan font-size="6.8" dy="2.5">n</tspan><tspan dy="-2.5">​</tspan><tspan> H</tspan><tspan font-size="6.8" dy="2.5">2n+3</tspan><tspan dy="-2.5">​</tspan><tspan> O</tspan><tspan font-size="6.8" dy="2.5">3</tspan><tspan dy="-2.5">​</tspan><tspan> N</tspan></text>
<text x="85.70" y="275.20" font-size="10.0" text-anchor="start" fill="#1e1e1e" stroke="#1e1e1e" stroke-width="0.22"><tspan>C</tspan><tspan font-size="6.8" dy="2.5">n</tspan><tspan dy="-2.5">​</tspan><tspan> H</tspan><tspan font-size="6.8" dy="2.5">2n-3</tspan><tspan dy="-2.5">​</tspan><tspan> O</tspan><tspan font-size="6.8" dy="2.5">5</tspan><tspan dy="-2.5">​</tspan><tspan> N</tspan></text>
<text x="81.90" y="291.40" font-size="10.0" text-anchor="start" fill="#1e1e1e" stroke="#1e1e1e" stroke-width="0.22"><tspan>C</tspan><tspan font-size="6.8" dy="2.5">n</tspan><tspan dy="-2.5">​</tspan><tspan> H</tspan><tspan font-size="6.8" dy="2.5">2n+3</tspan><tspan dy="-2.5">​</tspan><tspan> O N</tspan></text>
<text x="218.80" y="211.30" font-size="10.0" text-anchor="start" fill="#1e1e1e" stroke="#1e1e1e" stroke-width="0.22"><tspan>C</tspan><tspan font-size="6.8" dy="2.5">n</tspan><tspan dy="-2.5">​</tspan><tspan> H</tspan><tspan font-size="6.8" dy="2.5">2n-6</tspan><tspan dy="-2.5">​</tspan><tspan> O</tspan><tspan font-size="6.8" dy="2.5">4</tspan><tspan dy="-2.5">​</tspan></text>
<text x="243.40" y="226.70" font-size="10.0" text-anchor="start" fill="#1e1e1e" stroke="#1e1e1e" stroke-width="0.22"><tspan>C</tspan><tspan font-size="6.8" dy="2.5">n</tspan><tspan dy="-2.5">​</tspan><tspan> H</tspan><tspan font-size="6.8" dy="2.5">2n-8</tspan><tspan dy="-2.5">​</tspan><tspan> O</tspan><tspan font-size="6.8" dy="2.5">5</tspan><tspan dy="-2.5">​</tspan></text>
<text x="258.90" y="239.90" font-size="10.0" text-anchor="start" fill="#1e1e1e" stroke="#1e1e1e" stroke-width="0.22"><tspan>C</tspan><tspan font-size="6.8" dy="2.5">n</tspan><tspan dy="-2.5">​</tspan><tspan> H</tspan><tspan font-size="6.8" dy="2.5">2n-10</tspan><tspan dy="-2.5">​</tspan><tspan> O</tspan><tspan font-size="6.8" dy="2.5">4</tspan><tspan dy="-2.5">​</tspan></text>
<text x="266.80" y="251.80" font-size="10.0" text-anchor="start" fill="#1e1e1e" stroke="#1e1e1e" stroke-width="0.22"><tspan>C</tspan><tspan font-size="6.8" dy="2.5">n</tspan><tspan dy="-2.5">​</tspan><tspan> H</tspan><tspan font-size="6.8" dy="2.5">2n-13</tspan><tspan dy="-2.5">​</tspan><tspan> N</tspan></text>
<text x="277.70" y="263.90" font-size="10.0" text-anchor="start" fill="#1e1e1e" stroke="#1e1e1e" stroke-width="0.22"><tspan>C</tspan><tspan font-size="6.8" dy="2.5">n</tspan><tspan dy="-2.5">​</tspan><tspan> H</tspan><tspan font-size="6.8" dy="2.5">2n+3</tspan><tspan dy="-2.5">​</tspan><tspan> N</tspan></text>
<text x="281.00" y="277.50" font-size="10.0" text-anchor="start" fill="#1e1e1e" stroke="#1e1e1e" stroke-width="0.22"><tspan>C</tspan><tspan font-size="6.8" dy="2.5">n</tspan><tspan dy="-2.5">​</tspan><tspan> H</tspan><tspan font-size="6.8" dy="2.5">2n-2</tspan><tspan dy="-2.5">​</tspan><tspan> N</tspan><tspan font-size="6.8" dy="2.5">2</tspan><tspan dy="-2.5">​</tspan></text>
<text x="88.00" y="327.40" font-size="10.0" text-anchor="start" fill="#1e1e1e" stroke="#1e1e1e" stroke-width="0.22"><tspan>C</tspan><tspan font-size="6.8" dy="2.5">n</tspan><tspan dy="-2.5">​</tspan><tspan> H</tspan><tspan font-size="6.8" dy="2.5">2n+3</tspan><tspan dy="-2.5">​</tspan><tspan> O</tspan><tspan font-size="6.8" dy="2.5">2</tspan><tspan dy="-2.5">​</tspan><tspan> N</tspan></text>
<text x="263.20" y="342.70" font-size="10.0" text-anchor="start" fill="#1e1e1e" stroke="#1e1e1e" stroke-width="0.22"><tspan>C</tspan><tspan font-size="6.8" dy="2.5">n</tspan><tspan dy="-2.5">​</tspan><tspan> H</tspan><tspan font-size="6.8" dy="2.5">2n+1</tspan><tspan dy="-2.5">​</tspan><tspan> ON</tspan></text>
<text x="148.60" y="366.40" font-size="10.0" text-anchor="start" fill="#1e1e1e" stroke="#1e1e1e" stroke-width="0.22"><tspan>C</tspan><tspan font-size="6.8" dy="2.5">n</tspan><tspan dy="-2.5">​</tspan><tspan> H</tspan><tspan font-size="6.8" dy="2.5">2n-1</tspan><tspan dy="-2.5">​</tspan><tspan> ON</tspan></text>
<text x="516.50" y="219.20" font-size="10.0" text-anchor="start" fill="#1e1e1e" stroke="#1e1e1e" stroke-width="0.22"><tspan>C</tspan><tspan font-size="6.8" dy="2.5">n</tspan><tspan dy="-2.5">​</tspan><tspan> H</tspan><tspan font-size="6.8" dy="2.5">2n-3</tspan><tspan dy="-2.5">​</tspan><tspan> O</tspan><tspan font-size="6.8" dy="2.5">7</tspan><tspan dy="-2.5">​</tspan><tspan> NS</tspan></text>
<text x="474.40" y="237.80" font-size="10.0" text-anchor="start" fill="#1e1e1e" stroke="#1e1e1e" stroke-width="0.22"><tspan>C</tspan><tspan font-size="6.8" dy="2.5">n</tspan><tspan dy="-2.5">​</tspan><tspan> H</tspan><tspan font-size="6.8" dy="2.5">2n</tspan><tspan dy="-2.5">​</tspan><tspan> O</tspan><tspan font-size="6.8" dy="2.5">4</tspan><tspan dy="-2.5">​</tspan><tspan> S</tspan></text>
<text x="452.50" y="252.70" font-size="10.0" text-anchor="start" fill="#1e1e1e" stroke="#1e1e1e" stroke-width="0.22"><tspan>C</tspan><tspan font-size="6.8" dy="2.5">n</tspan><tspan dy="-2.5">​</tspan><tspan> H</tspan><tspan font-size="6.8" dy="2.5">2n-6</tspan><tspan dy="-2.5">​</tspan><tspan> O</tspan><tspan font-size="6.8" dy="2.5">3</tspan><tspan dy="-2.5">​</tspan><tspan> S</tspan></text>
<text x="441.60" y="275.10" font-size="10.0" text-anchor="start" fill="#1e1e1e" stroke="#1e1e1e" stroke-width="0.22"><tspan>C</tspan><tspan font-size="6.8" dy="2.5">n</tspan><tspan dy="-2.5">​</tspan><tspan> H</tspan><tspan font-size="6.8" dy="2.5">2n+2</tspan><tspan dy="-2.5">​</tspan><tspan> O</tspan><tspan font-size="6.8" dy="2.5">4</tspan><tspan dy="-2.5">​</tspan><tspan> S</tspan></text>
<text x="586.80" y="212.60" font-size="10.0" text-anchor="start" fill="#1e1e1e" stroke="#1e1e1e" stroke-width="0.22"><tspan>C</tspan><tspan font-size="6.8" dy="2.5">n</tspan><tspan dy="-2.5">​</tspan><tspan> H</tspan><tspan font-size="6.8" dy="2.5">2n-10</tspan><tspan dy="-2.5">​</tspan><tspan> O</tspan><tspan font-size="6.8" dy="2.5">4</tspan><tspan dy="-2.5">​</tspan></text>
<text x="597.70" y="227.20" font-size="10.0" text-anchor="start" fill="#1e1e1e" stroke="#1e1e1e" stroke-width="0.22"><tspan>C</tspan><tspan font-size="6.8" dy="2.5">n</tspan><tspan dy="-2.5">​</tspan><tspan> H</tspan><tspan font-size="6.8" dy="2.5">2n-2</tspan><tspan dy="-2.5">​</tspan><tspan> O</tspan><tspan font-size="6.8" dy="2.5">4</tspan><tspan dy="-2.5">​</tspan></text>
<text x="614.50" y="242.00" font-size="10.0" text-anchor="start" fill="#1e1e1e" stroke="#1e1e1e" stroke-width="0.22"><tspan>C</tspan><tspan font-size="6.8" dy="2.5">n</tspan><tspan dy="-2.5">​</tspan><tspan> H</tspan><tspan font-size="6.8" dy="2.5">2n-14</tspan><tspan dy="-2.5">​</tspan><tspan> O</tspan><tspan font-size="6.8" dy="2.5">3</tspan><tspan dy="-2.5">​</tspan></text>
<text x="440.50" y="329.30" font-size="10.0" text-anchor="start" fill="#1e1e1e" stroke="#1e1e1e" stroke-width="0.22"><tspan>C</tspan><tspan font-size="6.8" dy="2.5">n</tspan><tspan dy="-2.5">​</tspan><tspan> H</tspan><tspan font-size="6.8" dy="2.5">2n-9</tspan><tspan dy="-2.5">​</tspan><tspan> O</tspan><tspan font-size="6.8" dy="2.5">5</tspan><tspan dy="-2.5">​</tspan><tspan> N</tspan></text>
<text x="452.50" y="341.40" font-size="10.0" text-anchor="start" fill="#1e1e1e" stroke="#1e1e1e" stroke-width="0.22"><tspan>C</tspan><tspan font-size="6.8" dy="2.5">n</tspan><tspan dy="-2.5">​</tspan><tspan> H</tspan><tspan font-size="6.8" dy="2.5">2n-8</tspan><tspan dy="-2.5">​</tspan><tspan> O</tspan><tspan font-size="6.8" dy="2.5">5</tspan><tspan dy="-2.5">​</tspan><tspan> N</tspan><tspan font-size="6.8" dy="2.5">2</tspan><tspan dy="-2.5">​</tspan></text>
<text x="472.60" y="353.10" font-size="10.0" text-anchor="start" fill="#1e1e1e" stroke="#1e1e1e" stroke-width="0.22"><tspan>C</tspan><tspan font-size="6.8" dy="2.5">n</tspan><tspan dy="-2.5">​</tspan><tspan> H</tspan><tspan font-size="6.8" dy="2.5">2n-1</tspan><tspan dy="-2.5">​</tspan><tspan> O</tspan><tspan font-size="6.8" dy="2.5">3</tspan><tspan dy="-2.5">​</tspan><tspan> N</tspan></text>
<text x="497.80" y="366.60" font-size="10.0" text-anchor="start" fill="#1e1e1e" stroke="#1e1e1e" stroke-width="0.22"><tspan>C</tspan><tspan font-size="6.8" dy="2.5">n</tspan><tspan dy="-2.5">​</tspan><tspan> H</tspan><tspan font-size="6.8" dy="2.5">2n</tspan><tspan dy="-2.5">​</tspan><tspan> O</tspan><tspan font-size="6.8" dy="2.5">3</tspan><tspan dy="-2.5">​</tspan><tspan> N</tspan><tspan font-size="6.8" dy="2.5">3</tspan><tspan dy="-2.5">​</tspan></text>
<text x="559.80" y="364.70" font-size="10.0" text-anchor="start" fill="#1e1e1e" stroke="#1e1e1e" stroke-width="0.22"><tspan>C</tspan><tspan font-size="6.8" dy="2.5">n</tspan><tspan dy="-2.5">​</tspan><tspan> H</tspan><tspan font-size="6.8" dy="2.5">2n-7</tspan><tspan dy="-2.5">​</tspan><tspan> O</tspan><tspan font-size="6.8" dy="2.5">4</tspan><tspan dy="-2.5">​</tspan><tspan>N</tspan></text>
<text x="621.10" y="337.40" font-size="10.0" text-anchor="start" fill="#1e1e1e" stroke="#1e1e1e" stroke-width="0.22"><tspan>C</tspan><tspan font-size="6.8" dy="2.5">n</tspan><tspan dy="-2.5">​</tspan><tspan> H</tspan><tspan font-size="6.8" dy="2.5">2n-7</tspan><tspan dy="-2.5">​</tspan><tspan> O</tspan><tspan font-size="6.8" dy="2.5">3</tspan><tspan dy="-2.5">​</tspan><tspan> N</tspan></text>
<line x1="202.00" y1="222.50" x2="208.00" y2="229.00" stroke="#555" stroke-width="0.45"/>
<line x1="148.30" y1="248.70" x2="154.00" y2="263.80" stroke="#555" stroke-width="0.45"/>
<line x1="145.50" y1="263.80" x2="152.10" y2="270.50" stroke="#555" stroke-width="0.45"/>
<line x1="145.50" y1="276.50" x2="150.20" y2="280.90" stroke="#555" stroke-width="0.45"/>
<line x1="136.50" y1="289.50" x2="148.30" y2="290.40" stroke="#555" stroke-width="0.45"/>
<line x1="232.40" y1="213.50" x2="228.20" y2="230.50" stroke="#555" stroke-width="0.45"/>
<line x1="242.80" y1="227.50" x2="236.50" y2="235.70" stroke="#555" stroke-width="0.45"/>
<line x1="257.40" y1="236.80" x2="239.70" y2="238.40" stroke="#555" stroke-width="0.45"/>
<line x1="265.10" y1="254.50" x2="260.50" y2="256.60" stroke="#555" stroke-width="0.45"/>
<line x1="275.20" y1="261.80" x2="262.60" y2="263.50" stroke="#555" stroke-width="0.45"/>
<line x1="278.30" y1="278.50" x2="265.80" y2="268.00" stroke="#555" stroke-width="0.45"/>
<line x1="554.30" y1="221.40" x2="557.60" y2="229.00" stroke="#555" stroke-width="0.45"/>
<line x1="519.30" y1="239.00" x2="529.20" y2="242.20" stroke="#555" stroke-width="0.45"/>
<line x1="510.50" y1="247.70" x2="518.20" y2="249.90" stroke="#555" stroke-width="0.45"/>
<line x1="589.30" y1="216.00" x2="578.40" y2="232.80" stroke="#555" stroke-width="0.45"/>
<line x1="605.30" y1="229.40" x2="594.30" y2="239.50" stroke="#555" stroke-width="0.45"/>
<line x1="617.00" y1="242.80" x2="606.90" y2="247.40" stroke="#555" stroke-width="0.45"/>
<line x1="498.20" y1="330.80" x2="519.20" y2="334.30" stroke="#555" stroke-width="0.45"/>
<line x1="513.90" y1="339.50" x2="529.10" y2="341.60" stroke="#555" stroke-width="0.45"/>
<line x1="530.30" y1="348.30" x2="536.70" y2="342.40" stroke="#555" stroke-width="0.45"/>
<line x1="538.50" y1="357.60" x2="544.90" y2="348.30" stroke="#555" stroke-width="0.45"/>
<line x1="263.30" y1="403.40" x2="263.30" y2="548.10" stroke="#333" stroke-width="0.8" stroke-dasharray="2.2,2.2"/>
<rect x="60.80" y="440.10" width="10.10" height="108.00" fill="#8FD8F8"/>
<rect x="60.80" y="405.90" width="10.10" height="34.20" fill="#DAAA38"/>
<line x1="65.85" y1="548.10" x2="65.85" y2="551.70" stroke="#1e1e1e" stroke-width="1.2"/>
<text x="70.25" y="559.30" font-size="9.4" text-anchor="end" fill="#1e1e1e" stroke="#1e1e1e" stroke-width="0.22" transform="rotate(-45 70.25 559.3000000000001)">Amine</text>
<rect x="73.46" y="531.80" width="10.10" height="16.30" fill="#F0939B"/>
<rect x="73.46" y="453.00" width="10.10" height="78.80" fill="#8FD8F8"/>
<line x1="78.51" y1="548.10" x2="78.51" y2="551.70" stroke="#1e1e1e" stroke-width="1.2"/>
<text x="82.91" y="559.30" font-size="9.4" text-anchor="end" fill="#1e1e1e" stroke="#1e1e1e" stroke-width="0.22" transform="rotate(-45 82.91 559.3000000000001)">Alcohol</text>
<rect x="86.12" y="522.30" width="10.10" height="25.80" fill="#F0939B"/>
<rect x="86.12" y="495.00" width="10.10" height="27.30" fill="#8FD8F8"/>
<rect x="86.12" y="468.80" width="10.10" height="26.20" fill="#DAAA38"/>
<line x1="91.17" y1="548.10" x2="91.17" y2="551.70" stroke="#1e1e1e" stroke-width="1.2"/>
<text x="95.57" y="559.30" font-size="9.4" text-anchor="end" fill="#1e1e1e" stroke="#1e1e1e" stroke-width="0.22" transform="rotate(-45 95.57000000000001 559.3000000000001)">Aromatic ring</text>
<rect x="98.78" y="529.30" width="10.10" height="18.80" fill="#F0939B"/>
<rect x="98.78" y="489.30" width="10.10" height="40.00" fill="#8FD8F8"/>
<line x1="103.83" y1="548.10" x2="103.83" y2="551.70" stroke="#1e1e1e" stroke-width="1.2"/>
<text x="108.23" y="559.30" font-size="9.4" text-anchor="end" fill="#1e1e1e" stroke="#1e1e1e" stroke-width="0.22" transform="rotate(-45 108.23 559.3000000000001)">Ether</text>
<rect x="111.44" y="527.10" width="10.10" height="21.00" fill="#F0939B"/>
<rect x="111.44" y="502.30" width="10.10" height="24.80" fill="#8FD8F8"/>
<rect x="111.44" y="491.00" width="10.10" height="11.30" fill="#DAAA38"/>
<line x1="116.49" y1="548.10" x2="116.49" y2="551.70" stroke="#1e1e1e" stroke-width="1.2"/>
<text x="120.89" y="559.30" font-size="9.4" text-anchor="end" fill="#1e1e1e" stroke="#1e1e1e" stroke-width="0.22" transform="rotate(-45 120.89 559.3000000000001)">Non-aromatic ring</text>
<rect x="124.10" y="506.30" width="10.10" height="41.80" fill="#8FD8F8"/>
<line x1="129.15" y1="548.10" x2="129.15" y2="551.70" stroke="#1e1e1e" stroke-width="1.2"/>
<text x="133.55" y="559.30" font-size="9.4" text-anchor="end" fill="#1e1e1e" stroke="#1e1e1e" stroke-width="0.22" transform="rotate(-45 133.55 559.3000000000001)">Amide</text>
<rect x="136.76" y="541.80" width="10.10" height="6.30" fill="#F0939B"/>
<rect x="136.76" y="523.80" width="10.10" height="18.00" fill="#8FD8F8"/>
<line x1="141.81" y1="548.10" x2="141.81" y2="551.70" stroke="#1e1e1e" stroke-width="1.2"/>
<text x="146.21" y="559.30" font-size="9.4" text-anchor="end" fill="#1e1e1e" stroke="#1e1e1e" stroke-width="0.22" transform="rotate(-45 146.21 559.3000000000001)">Ester</text>
<rect x="149.42" y="533.00" width="10.10" height="15.10" fill="#F0939B"/>
<rect x="149.42" y="527.10" width="10.10" height="5.90" fill="#8FD8F8"/>
<rect x="149.42" y="526.60" width="10.10" height="0.50" fill="#CC99FF"/>
<line x1="154.47" y1="548.10" x2="154.47" y2="551.70" stroke="#1e1e1e" stroke-width="1.2"/>
<text x="158.87" y="559.30" font-size="9.4" text-anchor="end" fill="#1e1e1e" stroke="#1e1e1e" stroke-width="0.22" transform="rotate(-45 158.87000000000003 559.3000000000001)">Carboxylic acid</text>
<rect x="162.08" y="536.40" width="10.10" height="11.70" fill="#F0939B"/>
<rect x="162.08" y="534.10" width="10.10" height="2.30" fill="#8FD8F8"/>
<line x1="167.13" y1="548.10" x2="167.13" y2="551.70" stroke="#1e1e1e" stroke-width="1.2"/>
<text x="171.53" y="559.30" font-size="9.4" text-anchor="end" fill="#1e1e1e" stroke="#1e1e1e" stroke-width="0.22" transform="rotate(-45 171.53 559.3000000000001)">Ketone</text>
<rect x="174.74" y="545.00" width="10.10" height="3.10" fill="#F0939B"/>
<rect x="174.74" y="537.10" width="10.10" height="7.90" fill="#8FD8F8"/>
<line x1="179.79" y1="548.10" x2="179.79" y2="551.70" stroke="#1e1e1e" stroke-width="1.2"/>
<text x="184.19" y="559.30" font-size="9.4" text-anchor="end" fill="#1e1e1e" stroke="#1e1e1e" stroke-width="0.22" transform="rotate(-45 184.19000000000003 559.3000000000001)">Phenol</text>
<rect x="187.40" y="543.40" width="10.10" height="4.70" fill="#8FD8F8"/>
<rect x="187.40" y="541.00" width="10.10" height="2.40" fill="#DAAA38"/>
<line x1="192.45" y1="548.10" x2="192.45" y2="551.70" stroke="#1e1e1e" stroke-width="1.2"/>
<text x="196.85" y="559.30" font-size="9.4" text-anchor="end" fill="#1e1e1e" stroke="#1e1e1e" stroke-width="0.22" transform="rotate(-45 196.85 559.3000000000001)">Azole</text>
<rect x="200.06" y="544.40" width="10.10" height="3.70" fill="#8FD8F8"/>
<rect x="200.06" y="541.00" width="10.10" height="3.40" fill="#DAAA38"/>
<line x1="205.11" y1="548.10" x2="205.11" y2="551.70" stroke="#1e1e1e" stroke-width="1.2"/>
<text x="209.51" y="559.30" font-size="9.4" text-anchor="end" fill="#1e1e1e" stroke="#1e1e1e" stroke-width="0.22" transform="rotate(-45 209.51000000000002 559.3000000000001)">Pyridine</text>
<rect x="212.72" y="544.20" width="10.10" height="3.90" fill="#F0939B"/>
<rect x="212.72" y="542.90" width="10.10" height="1.30" fill="#8FD8F8"/>
<line x1="217.77" y1="548.10" x2="217.77" y2="551.70" stroke="#1e1e1e" stroke-width="1.2"/>
<text x="222.17" y="559.30" font-size="9.4" text-anchor="end" fill="#1e1e1e" stroke="#1e1e1e" stroke-width="0.22" transform="rotate(-45 222.17000000000004 559.3000000000001)">Alkylaryl</text>
<rect x="225.38" y="545.00" width="10.10" height="3.10" fill="#8FD8F8"/>
<rect x="225.38" y="543.90" width="10.10" height="1.10" fill="#DAAA38"/>
<line x1="230.43" y1="548.10" x2="230.43" y2="551.70" stroke="#1e1e1e" stroke-width="1.2"/>
<text x="234.83" y="559.30" font-size="9.4" text-anchor="end" fill="#1e1e1e" stroke="#1e1e1e" stroke-width="0.22" transform="rotate(-45 234.83 559.3000000000001)">N-N</text>
<rect x="238.04" y="544.20" width="10.10" height="3.90" fill="#8FD8F8"/>
<line x1="243.09" y1="548.10" x2="243.09" y2="551.70" stroke="#1e1e1e" stroke-width="1.2"/>
<text x="247.49" y="559.30" font-size="9.4" text-anchor="end" fill="#1e1e1e" stroke="#1e1e1e" stroke-width="0.22" transform="rotate(-45 247.49000000000004 559.3000000000001)">Aldehyde</text>
<rect x="250.70" y="544.20" width="10.10" height="3.90" fill="#DAAA38"/>
<line x1="255.75" y1="548.10" x2="255.75" y2="551.70" stroke="#1e1e1e" stroke-width="1.2"/>
<text x="260.15" y="559.30" font-size="9.4" text-anchor="end" fill="#1e1e1e" stroke="#1e1e1e" stroke-width="0.22" transform="rotate(-45 260.15 559.3000000000001)">Nitrile</text>
<rect x="263.36" y="538.90" width="10.10" height="9.20" fill="#8FD8F8"/>
<line x1="268.41" y1="548.10" x2="268.41" y2="551.70" stroke="#1e1e1e" stroke-width="1.2"/>
<text x="272.81" y="559.30" font-size="9.4" text-anchor="end" fill="#1e1e1e" stroke="#1e1e1e" stroke-width="0.22" transform="rotate(-45 272.81 559.3000000000001)">Isocyanate</text>
<rect x="276.02" y="542.60" width="10.10" height="5.50" fill="#CC99FF"/>
<line x1="281.07" y1="548.10" x2="281.07" y2="551.70" stroke="#1e1e1e" stroke-width="1.2"/>
<text x="285.47" y="559.30" font-size="9.4" text-anchor="end" fill="#1e1e1e" stroke="#1e1e1e" stroke-width="0.22" transform="rotate(-45 285.46999999999997 559.3000000000001)">Sulfide</text>
<rect x="288.68" y="542.90" width="10.10" height="5.20" fill="#DAAA38"/>
<line x1="293.73" y1="548.10" x2="293.73" y2="551.70" stroke="#1e1e1e" stroke-width="1.2"/>
<text x="298.13" y="559.30" font-size="9.4" text-anchor="end" fill="#1e1e1e" stroke="#1e1e1e" stroke-width="0.22" transform="rotate(-45 298.13 559.3000000000001)">N=N</text>
<rect x="301.34" y="546.00" width="10.10" height="2.10" fill="#CC99FF"/>
<line x1="306.39" y1="548.10" x2="306.39" y2="551.70" stroke="#1e1e1e" stroke-width="1.2"/>
<text x="310.79" y="559.30" font-size="9.4" text-anchor="end" fill="#1e1e1e" stroke="#1e1e1e" stroke-width="0.22" transform="rotate(-45 310.78999999999996 559.3000000000001)">Sulfone</text>
<rect x="314.00" y="546.30" width="10.10" height="1.80" fill="#CC99FF"/>
<line x1="319.05" y1="548.10" x2="319.05" y2="551.70" stroke="#1e1e1e" stroke-width="1.2"/>
<text x="323.45" y="559.30" font-size="9.4" text-anchor="end" fill="#1e1e1e" stroke="#1e1e1e" stroke-width="0.22" transform="rotate(-45 323.45 559.3000000000001)">Nitro-aromatic</text>
<rect x="59.90" y="463.70" width="26.00" height="2.40" fill="#fff"/>
<rect x="59.5" y="403.4" width="266.0" height="144.70000000000005" fill="none" stroke="#1e1e1e" stroke-width="1"/>
<rect x="57.00" y="463.60" width="5.00" height="2.60" fill="#fff"/>
<line x1="54.10" y1="464.80" x2="65.40" y2="459.80" stroke="#1e1e1e" stroke-width="0.9"/>
<line x1="54.10" y1="467.80" x2="65.40" y2="462.80" stroke="#1e1e1e" stroke-width="0.9"/>
<line x1="54.10" y1="548.10" x2="59.50" y2="548.10" stroke="#1e1e1e" stroke-width="1"/>
<text transform="translate(50.30,551.10) scale(0.85,1)" font-size="11.6" text-anchor="end" fill="#1e1e1e" stroke="#1e1e1e" stroke-width="0.22">0.0</text>
<line x1="56.60" y1="539.00" x2="59.50" y2="539.00" stroke="#1e1e1e" stroke-width="1"/>
<line x1="56.60" y1="529.90" x2="59.50" y2="529.90" stroke="#1e1e1e" stroke-width="1"/>
<line x1="56.60" y1="520.80" x2="59.50" y2="520.80" stroke="#1e1e1e" stroke-width="1"/>
<line x1="54.10" y1="511.70" x2="59.50" y2="511.70" stroke="#1e1e1e" stroke-width="1"/>
<text transform="translate(50.30,514.70) scale(0.85,1)" font-size="11.6" text-anchor="end" fill="#1e1e1e" stroke="#1e1e1e" stroke-width="0.22">0.2</text>
<line x1="56.60" y1="502.60" x2="59.50" y2="502.60" stroke="#1e1e1e" stroke-width="1"/>
<line x1="56.60" y1="493.50" x2="59.50" y2="493.50" stroke="#1e1e1e" stroke-width="1"/>
<line x1="56.60" y1="484.40" x2="59.50" y2="484.40" stroke="#1e1e1e" stroke-width="1"/>
<line x1="54.10" y1="475.30" x2="59.50" y2="475.30" stroke="#1e1e1e" stroke-width="1"/>
<text transform="translate(50.30,478.30) scale(0.85,1)" font-size="11.6" text-anchor="end" fill="#1e1e1e" stroke="#1e1e1e" stroke-width="0.22">0.4</text>
<line x1="56.60" y1="466.20" x2="59.50" y2="466.20" stroke="#1e1e1e" stroke-width="1"/>
<line x1="56.60" y1="453.50" x2="59.50" y2="453.50" stroke="#1e1e1e" stroke-width="1"/>
<line x1="56.60" y1="443.50" x2="59.50" y2="443.50" stroke="#1e1e1e" stroke-width="1"/>
<line x1="56.60" y1="433.50" x2="59.50" y2="433.50" stroke="#1e1e1e" stroke-width="1"/>
<line x1="54.10" y1="423.50" x2="59.50" y2="423.50" stroke="#1e1e1e" stroke-width="1"/>
<text transform="translate(50.30,426.50) scale(0.85,1)" font-size="11.6" text-anchor="end" fill="#1e1e1e" stroke="#1e1e1e" stroke-width="0.22">1.0</text>
<line x1="56.60" y1="413.50" x2="59.50" y2="413.50" stroke="#1e1e1e" stroke-width="1"/>
<text x="59.10" y="399.20" font-size="9.5" text-anchor="start" fill="#1e1e1e" stroke="#1e1e1e" stroke-width="0.22">×10<tspan font-size="6.5" dy="-3.6">9</tspan></text>
<text x="264.10" y="399.60" font-size="9.5" text-anchor="start" fill="#1e1e1e" stroke="#1e1e1e" stroke-width="0.22">×10<tspan font-size="6.5" dy="-3.6">8</tspan></text>
<text x="293.80" y="420.20" font-size="10.5" text-anchor="start" fill="#111" stroke="#111" stroke-width="0.4" font-weight="bold">ESI+</text>
<text x="31.00" y="475.80" font-size="10" text-anchor="middle" fill="#1e1e1e" stroke="#1e1e1e" stroke-width="0.22" transform="rotate(-90 31.0 475.8)">Peak area</text>
<text x="179.30" y="606.60" font-size="10" text-anchor="middle" fill="#1e1e1e" stroke="#1e1e1e" stroke-width="0.22">Functional group</text>
<text x="2.40" y="403.00" font-size="13" text-anchor="start" fill="#1e1e1e" stroke="#1e1e1e" stroke-width="0.22">(c)</text>
<line x1="564.50" y1="403.60" x2="564.50" y2="547.80" stroke="#333" stroke-width="0.8" stroke-dasharray="2.2,2.2"/>
<rect x="410.80" y="490.80" width="8.80" height="57.00" fill="#F0939B"/>
<rect x="410.80" y="415.50" width="8.80" height="75.30" fill="#8FD8F8"/>
<rect x="410.80" y="413.20" width="8.80" height="2.30" fill="#CC99FF"/>
<line x1="415.20" y1="547.80" x2="415.20" y2="551.40" stroke="#1e1e1e" stroke-width="1.2"/>
<text x="419.20" y="558.40" font-size="8.9" text-anchor="end" fill="#1e1e1e" stroke="#1e1e1e" stroke-width="0.22" transform="rotate(-45 419.2 558.4)">Aromatic ring</text>
<rect x="421.90" y="469.70" width="8.80" height="78.10" fill="#F0939B"/>
<rect x="421.90" y="465.90" width="8.80" height="3.80" fill="#82EC5A"/>
<rect x="421.90" y="449.80" width="8.80" height="16.10" fill="#8FD8F8"/>
<rect x="421.90" y="449.00" width="8.80" height="0.80" fill="#CC99FF"/>
<line x1="426.30" y1="547.80" x2="426.30" y2="551.40" stroke="#1e1e1e" stroke-width="1.2"/>
<text x="430.24" y="558.32" font-size="8.9" text-anchor="end" fill="#1e1e1e" stroke="#1e1e1e" stroke-width="0.22" transform="rotate(-45 430.24 558.3199999999999)">Carboxylic acid</text>
<rect x="433.00" y="521.80" width="8.80" height="26.00" fill="#F0939B"/>
<rect x="433.00" y="452.80" width="8.80" height="69.00" fill="#8FD8F8"/>
<rect x="433.00" y="452.00" width="8.80" height="0.80" fill="#CC99FF"/>
<line x1="437.40" y1="547.80" x2="437.40" y2="551.40" stroke="#1e1e1e" stroke-width="1.2"/>
<text x="441.28" y="558.24" font-size="8.9" text-anchor="end" fill="#1e1e1e" stroke="#1e1e1e" stroke-width="0.22" transform="rotate(-45 441.28 558.24)">Phenol</text>
<rect x="444.10" y="477.80" width="8.80" height="70.00" fill="#8FD8F8"/>
<rect x="444.10" y="476.90" width="8.80" height="0.90" fill="#CC99FF"/>
<line x1="448.50" y1="547.80" x2="448.50" y2="551.40" stroke="#1e1e1e" stroke-width="1.2"/>
<text x="452.32" y="558.16" font-size="8.9" text-anchor="end" fill="#1e1e1e" stroke="#1e1e1e" stroke-width="0.22" transform="rotate(-45 452.32 558.16)">Nitro-aromatic</text>
<rect x="455.20" y="514.00" width="8.80" height="33.80" fill="#82EC5A"/>
<rect x="455.20" y="510.00" width="8.80" height="4.00" fill="#CC99FF"/>
<line x1="459.60" y1="547.80" x2="459.60" y2="551.40" stroke="#1e1e1e" stroke-width="1.2"/>
<text x="463.36" y="558.08" font-size="8.9" text-anchor="end" fill="#1e1e1e" stroke="#1e1e1e" stroke-width="0.22" transform="rotate(-45 463.35999999999996 558.0799999999999)">Organosulfate</text>
<rect x="466.30" y="534.70" width="8.80" height="13.10" fill="#F0939B"/>
<rect x="466.30" y="526.60" width="8.80" height="8.10" fill="#8FD8F8"/>
<rect x="466.30" y="517.90" width="8.80" height="8.70" fill="#CC99FF"/>
<line x1="470.70" y1="547.80" x2="470.70" y2="551.40" stroke="#1e1e1e" stroke-width="1.2"/>
<text x="474.40" y="558.00" font-size="8.9" text-anchor="end" fill="#1e1e1e" stroke="#1e1e1e" stroke-width="0.22" transform="rotate(-45 474.4 558.0)">Alcohol</text>
<rect x="477.40" y="545.00" width="8.80" height="2.80" fill="#F0939B"/>
<rect x="477.40" y="537.50" width="8.80" height="7.50" fill="#82EC5A"/>
<rect x="477.40" y="529.80" width="8.80" height="7.70" fill="#8FD8F8"/>
<rect x="477.40" y="521.00" width="8.80" height="8.80" fill="#CC99FF"/>
<line x1="481.80" y1="547.80" x2="481.80" y2="551.40" stroke="#1e1e1e" stroke-width="1.2"/>
<text x="485.44" y="557.92" font-size="8.9" text-anchor="end" fill="#1e1e1e" stroke="#1e1e1e" stroke-width="0.22" transform="rotate(-45 485.43999999999994 557.92)">Ether</text>
<rect x="488.50" y="536.40" width="8.80" height="11.40" fill="#F0939B"/>
<rect x="488.50" y="536.00" width="8.80" height="0.40" fill="#82EC5A"/>
<rect x="488.50" y="529.80" width="8.80" height="6.20" fill="#8FD8F8"/>
<rect x="488.50" y="522.20" width="8.80" height="7.60" fill="#CC99FF"/>
<line x1="492.90" y1="547.80" x2="492.90" y2="551.40" stroke="#1e1e1e" stroke-width="1.2"/>
<text x="496.48" y="557.84" font-size="8.9" text-anchor="end" fill="#1e1e1e" stroke="#1e1e1e" stroke-width="0.22" transform="rotate(-45 496.47999999999996 557.84)">Ketone</text>
<rect x="499.60" y="543.80" width="8.80" height="4.00" fill="#F0939B"/>
<rect x="499.60" y="540.30" width="8.80" height="3.50" fill="#82EC5A"/>
<rect x="499.60" y="538.50" width="8.80" height="1.80" fill="#8FD8F8"/>
<rect x="499.60" y="526.60" width="8.80" height="11.90" fill="#CC99FF"/>
<line x1="504.00" y1="547.80" x2="504.00" y2="551.40" stroke="#1e1e1e" stroke-width="1.2"/>
<text x="507.52" y="557.76" font-size="8.9" text-anchor="end" fill="#1e1e1e" stroke="#1e1e1e" stroke-width="0.22" transform="rotate(-45 507.52 557.76)">Non-aromatic ring</text>
<rect x="510.70" y="537.80" width="8.80" height="10.00" fill="#F0939B"/>
<rect x="510.70" y="532.40" width="8.80" height="5.40" fill="#82EC5A"/>
<rect x="510.70" y="530.70" width="8.80" height="1.70" fill="#CC99FF"/>
<line x1="515.10" y1="547.80" x2="515.10" y2="551.40" stroke="#1e1e1e" stroke-width="1.2"/>
<text x="518.56" y="557.68" font-size="8.9" text-anchor="end" fill="#1e1e1e" stroke="#1e1e1e" stroke-width="0.22" transform="rotate(-45 518.5600000000001 557.68)">Ester</text>
<rect x="521.80" y="542.00" width="8.80" height="5.80" fill="#82EC5A"/>
<rect x="521.80" y="532.60" width="8.80" height="9.40" fill="#CC99FF"/>
<line x1="526.20" y1="547.80" x2="526.20" y2="551.40" stroke="#1e1e1e" stroke-width="1.2"/>
<text x="529.60" y="557.60" font-size="8.9" text-anchor="end" fill="#1e1e1e" stroke="#1e1e1e" stroke-width="0.22" transform="rotate(-45 529.5999999999999 557.6)">Sulfonate</text>
<rect x="532.90" y="541.70" width="8.80" height="6.10" fill="#8FD8F8"/>
<rect x="532.90" y="532.80" width="8.80" height="8.90" fill="#CC99FF"/>
<line x1="537.30" y1="547.80" x2="537.30" y2="551.40" stroke="#1e1e1e" stroke-width="1.2"/>
<text x="540.64" y="557.52" font-size="8.9" text-anchor="end" fill="#1e1e1e" stroke="#1e1e1e" stroke-width="0.22" transform="rotate(-45 540.64 557.52)">Amine</text>
<rect x="544.00" y="546.40" width="8.80" height="1.40" fill="#F0939B"/>
<rect x="544.00" y="538.90" width="8.80" height="7.50" fill="#8FD8F8"/>
<rect x="544.00" y="538.20" width="8.80" height="0.70" fill="#CC99FF"/>
<line x1="548.40" y1="547.80" x2="548.40" y2="551.40" stroke="#1e1e1e" stroke-width="1.2"/>
<text x="551.68" y="557.44" font-size="8.9" text-anchor="end" fill="#1e1e1e" stroke="#1e1e1e" stroke-width="0.22" transform="rotate(-45 551.68 557.4399999999999)">Alkylaryl</text>
<rect x="555.10" y="541.00" width="8.80" height="6.80" fill="#8FD8F8"/>
<rect x="555.10" y="539.10" width="8.80" height="1.90" fill="#CC99FF"/>
<line x1="559.50" y1="547.80" x2="559.50" y2="551.40" stroke="#1e1e1e" stroke-width="1.2"/>
<text x="562.72" y="557.36" font-size="8.9" text-anchor="end" fill="#1e1e1e" stroke="#1e1e1e" stroke-width="0.22" transform="rotate(-45 562.72 557.36)">Amide</text>
<rect x="566.20" y="537.70" width="8.80" height="10.10" fill="#82EC5A"/>
<rect x="566.20" y="521.60" width="8.80" height="16.10" fill="#CC99FF"/>
<line x1="570.60" y1="547.80" x2="570.60" y2="551.40" stroke="#1e1e1e" stroke-width="1.2"/>
<text x="573.76" y="557.28" font-size="8.9" text-anchor="end" fill="#1e1e1e" stroke="#1e1e1e" stroke-width="0.22" transform="rotate(-45 573.76 557.28)">Sulfone</text>
<rect x="577.30" y="532.80" width="8.80" height="15.00" fill="#F0939B"/>
<rect x="577.30" y="531.70" width="8.80" height="1.10" fill="#82EC5A"/>
<rect x="577.30" y="528.90" width="8.80" height="2.80" fill="#8FD8F8"/>
<line x1="581.70" y1="547.80" x2="581.70" y2="551.40" stroke="#1e1e1e" stroke-width="1.2"/>
<text x="584.80" y="557.20" font-size="8.9" text-anchor="end" fill="#1e1e1e" stroke="#1e1e1e" stroke-width="0.22" transform="rotate(-45 584.8 557.1999999999999)">Aldehyde</text>
<rect x="588.40" y="539.10" width="8.80" height="8.70" fill="#8FD8F8"/>
<rect x="588.40" y="534.70" width="8.80" height="4.40" fill="#CC99FF"/>
<line x1="592.80" y1="547.80" x2="592.80" y2="551.40" stroke="#1e1e1e" stroke-width="1.2"/>
<text x="595.84" y="557.12" font-size="8.9" text-anchor="end" fill="#1e1e1e" stroke="#1e1e1e" stroke-width="0.22" transform="rotate(-45 595.8399999999999 557.12)">Azole</text>
<rect x="599.50" y="536.80" width="8.80" height="11.00" fill="#8FD8F8"/>
<rect x="599.50" y="535.40" width="8.80" height="1.40" fill="#CC99FF"/>
<line x1="603.90" y1="547.80" x2="603.90" y2="551.40" stroke="#1e1e1e" stroke-width="1.2"/>
<text x="606.88" y="557.04" font-size="8.9" text-anchor="end" fill="#1e1e1e" stroke="#1e1e1e" stroke-width="0.22" transform="rotate(-45 606.88 557.04)">Pyridine</text>
<rect x="610.60" y="540.80" width="8.80" height="7.00" fill="#82EC5A"/>
<rect x="610.60" y="537.50" width="8.80" height="3.30" fill="#CC99FF"/>
<line x1="615.00" y1="547.80" x2="615.00" y2="551.40" stroke="#1e1e1e" stroke-width="1.2"/>
<text x="617.92" y="556.96" font-size="8.9" text-anchor="end" fill="#1e1e1e" stroke="#1e1e1e" stroke-width="0.22" transform="rotate(-45 617.92 556.9599999999999)">Sulfide</text>
<rect x="621.70" y="541.00" width="8.80" height="6.80" fill="#8FD8F8"/>
<line x1="626.10" y1="547.80" x2="626.10" y2="551.40" stroke="#1e1e1e" stroke-width="1.2"/>
<text x="628.96" y="556.88" font-size="8.9" text-anchor="end" fill="#1e1e1e" stroke="#1e1e1e" stroke-width="0.22" transform="rotate(-45 628.96 556.88)">Isocyanate</text>
<rect x="632.80" y="544.20" width="8.80" height="3.60" fill="#82EC5A"/>
<line x1="637.20" y1="547.80" x2="637.20" y2="551.40" stroke="#1e1e1e" stroke-width="1.2"/>
<text x="640.00" y="556.80" font-size="8.9" text-anchor="end" fill="#1e1e1e" stroke="#1e1e1e" stroke-width="0.22" transform="rotate(-45 639.9999999999999 556.8)">Thiol</text>
<rect x="643.90" y="546.00" width="8.80" height="1.80" fill="#8FD8F8"/>
<rect x="643.90" y="545.00" width="8.80" height="1.00" fill="#CC99FF"/>
<line x1="648.30" y1="547.80" x2="648.30" y2="551.40" stroke="#1e1e1e" stroke-width="1.2"/>
<text x="651.04" y="556.72" font-size="8.9" text-anchor="end" fill="#1e1e1e" stroke="#1e1e1e" stroke-width="0.22" transform="rotate(-45 651.04 556.72)">Nitrile</text>
<rect x="655.00" y="545.90" width="8.80" height="1.90" fill="#CC99FF"/>
<line x1="659.40" y1="547.80" x2="659.40" y2="551.40" stroke="#1e1e1e" stroke-width="1.2"/>
<text x="662.08" y="556.64" font-size="8.9" text-anchor="end" fill="#1e1e1e" stroke="#1e1e1e" stroke-width="0.22" transform="rotate(-45 662.0799999999999 556.64)">N-N</text>
<rect x="666.10" y="547.30" width="8.80" height="0.50" fill="#8FD8F8"/>
<line x1="670.50" y1="547.80" x2="670.50" y2="551.40" stroke="#1e1e1e" stroke-width="1.2"/>
<text x="673.12" y="556.56" font-size="8.9" text-anchor="end" fill="#1e1e1e" stroke="#1e1e1e" stroke-width="0.22" transform="rotate(-45 673.12 556.56)">N=N</text>
<rect x="410.0" y="403.6" width="265.5" height="144.19999999999993" fill="none" stroke="#1e1e1e" stroke-width="1"/>
<line x1="404.60" y1="547.80" x2="410.00" y2="547.80" stroke="#1e1e1e" stroke-width="1"/>
<text transform="translate(400.80,550.80) scale(0.85,1)" font-size="11.6" text-anchor="end" fill="#1e1e1e" stroke="#1e1e1e" stroke-width="0.22">0.0</text>
<line x1="407.10" y1="541.79" x2="410.00" y2="541.79" stroke="#1e1e1e" stroke-width="1"/>
<line x1="407.10" y1="535.78" x2="410.00" y2="535.78" stroke="#1e1e1e" stroke-width="1"/>
<line x1="407.10" y1="529.77" x2="410.00" y2="529.77" stroke="#1e1e1e" stroke-width="1"/>
<line x1="404.60" y1="523.76" x2="410.00" y2="523.76" stroke="#1e1e1e" stroke-width="1"/>
<text transform="translate(400.80,526.76) scale(0.85,1)" font-size="11.6" text-anchor="end" fill="#1e1e1e" stroke="#1e1e1e" stroke-width="0.22">0.2</text>
<line x1="407.10" y1="517.75" x2="410.00" y2="517.75" stroke="#1e1e1e" stroke-width="1"/>
<line x1="407.10" y1="511.74" x2="410.00" y2="511.74" stroke="#1e1e1e" stroke-width="1"/>
<line x1="407.10" y1="505.73" x2="410.00" y2="505.73" stroke="#1e1e1e" stroke-width="1"/>
<line x1="404.60" y1="499.72" x2="410.00" y2="499.72" stroke="#1e1e1e" stroke-width="1"/>
<text transform="translate(400.80,502.72) scale(0.85,1)" font-size="11.6" text-anchor="end" fill="#1e1e1e" stroke="#1e1e1e" stroke-width="0.22">0.4</text>
<line x1="407.10" y1="493.71" x2="410.00" y2="493.71" stroke="#1e1e1e" stroke-width="1"/>
<line x1="407.10" y1="487.70" x2="410.00" y2="487.70" stroke="#1e1e1e" stroke-width="1"/>
<line x1="407.10" y1="481.69" x2="410.00" y2="481.69" stroke="#1e1e1e" stroke-width="1"/>
<line x1="404.60" y1="475.68" x2="410.00" y2="475.68" stroke="#1e1e1e" stroke-width="1"/>
<text transform="translate(400.80,478.68) scale(0.85,1)" font-size="11.6" text-anchor="end" fill="#1e1e1e" stroke="#1e1e1e" stroke-width="0.22">0.6</text>
<line x1="407.10" y1="469.67" x2="410.00" y2="469.67" stroke="#1e1e1e" stroke-width="1"/>
<line x1="407.10" y1="463.66" x2="410.00" y2="463.66" stroke="#1e1e1e" stroke-width="1"/>
<line x1="407.10" y1="457.65" x2="410.00" y2="457.65" stroke="#1e1e1e" stroke-width="1"/>
<line x1="404.60" y1="451.64" x2="410.00" y2="451.64" stroke="#1e1e1e" stroke-width="1"/>
<text transform="translate(400.80,454.64) scale(0.85,1)" font-size="11.6" text-anchor="end" fill="#1e1e1e" stroke="#1e1e1e" stroke-width="0.22">0.8</text>
<line x1="407.10" y1="445.63" x2="410.00" y2="445.63" stroke="#1e1e1e" stroke-width="1"/>
<line x1="407.10" y1="439.62" x2="410.00" y2="439.62" stroke="#1e1e1e" stroke-width="1"/>
<line x1="407.10" y1="433.61" x2="410.00" y2="433.61" stroke="#1e1e1e" stroke-width="1"/>
<line x1="404.60" y1="427.60" x2="410.00" y2="427.60" stroke="#1e1e1e" stroke-width="1"/>
<text transform="translate(400.80,430.60) scale(0.85,1)" font-size="11.6" text-anchor="end" fill="#1e1e1e" stroke="#1e1e1e" stroke-width="0.22">1.0</text>
<line x1="407.10" y1="421.59" x2="410.00" y2="421.59" stroke="#1e1e1e" stroke-width="1"/>
<line x1="407.10" y1="415.58" x2="410.00" y2="415.58" stroke="#1e1e1e" stroke-width="1"/>
<line x1="407.10" y1="409.57" x2="410.00" y2="409.57" stroke="#1e1e1e" stroke-width="1"/>
<line x1="404.60" y1="403.56" x2="410.00" y2="403.56" stroke="#1e1e1e" stroke-width="1"/>
<text transform="translate(400.80,406.56) scale(0.85,1)" font-size="11.6" text-anchor="end" fill="#1e1e1e" stroke="#1e1e1e" stroke-width="0.22">1.2</text>
<text x="411.20" y="399.40" font-size="9.5" text-anchor="start" fill="#1e1e1e" stroke="#1e1e1e" stroke-width="0.22">×10<tspan font-size="6.5" dy="-3.6">8</tspan></text>
<text x="567.00" y="399.40" font-size="9.5" text-anchor="start" fill="#1e1e1e" stroke="#1e1e1e" stroke-width="0.22">×10<tspan font-size="6.5" dy="-3.6">7</tspan></text>
<text x="643.80" y="420.20" font-size="10.5" text-anchor="start" fill="#111" stroke="#111" stroke-width="0.4" font-weight="bold">ESI-</text>
<text x="381.00" y="475.80" font-size="10" text-anchor="middle" fill="#1e1e1e" stroke="#1e1e1e" stroke-width="0.22" transform="rotate(-90 381.0 475.8)">Peak area</text>
<text x="538.70" y="611.20" font-size="10" text-anchor="middle" fill="#1e1e1e" stroke="#1e1e1e" stroke-width="0.22">Functional group</text>
<text x="346.60" y="403.30" font-size="13" text-anchor="start" fill="#1e1e1e" stroke="#1e1e1e" stroke-width="0.22">(f)</text>
<path d="M151.52,434.96 A26.6,26.6 0 1 1 113.62,429.64 L121.26,439.41 A14.2,14.2 0 1 0 141.49,442.25 Z" fill="#72B4AE" stroke="#72B4AE" stroke-width="0.3"/>
<path d="M113.62,429.64 A26.6,26.6 0 0 1 138.22,425.30 L134.39,437.09 A14.2,14.2 0 0 0 121.26,439.41 Z" fill="#8CC6C1" stroke="#8CC6C1" stroke-width="0.3"/>
<path d="M138.22,425.30 A26.6,26.6 0 0 1 140.82,426.30 L135.78,437.63 A14.2,14.2 0 0 0 134.39,437.09 Z" fill="#8CC6C1" stroke="#8CC6C1" stroke-width="0.3"/>
<path d="M140.82,426.30 A26.6,26.6 0 0 1 143.30,427.56 L137.10,438.30 A14.2,14.2 0 0 0 135.78,437.63 Z" fill="#8CC6C1" stroke="#8CC6C1" stroke-width="0.3"/>
<path d="M143.30,427.56 A26.6,26.6 0 0 1 145.64,429.08 L138.35,439.11 A14.2,14.2 0 0 0 137.10,438.30 Z" fill="#A8D5D1" stroke="#A8D5D1" stroke-width="0.3"/>
<path d="M145.64,429.08 A26.6,26.6 0 0 1 147.80,430.83 L139.50,440.05 A14.2,14.2 0 0 0 138.35,439.11 Z" fill="#A8D5D1" stroke="#A8D5D1" stroke-width="0.3"/>
<path d="M147.80,430.83 A26.6,26.6 0 0 1 149.77,432.80 L140.55,441.10 A14.2,14.2 0 0 0 139.50,440.05 Z" fill="#A8D5D1" stroke="#A8D5D1" stroke-width="0.3"/>
<path d="M149.77,432.80 A26.6,26.6 0 0 1 151.52,434.96 L141.49,442.25 A14.2,14.2 0 0 0 140.55,441.10 Z" fill="#A8D5D1" stroke="#A8D5D1" stroke-width="0.3"/>
<line x1="141.49" y1="442.25" x2="151.52" y2="434.96" stroke="#fff" stroke-width="0.6"/>
<line x1="121.26" y1="439.41" x2="113.62" y2="429.64" stroke="#fff" stroke-width="0.6"/>
<line x1="134.39" y1="437.09" x2="138.22" y2="425.30" stroke="#fff" stroke-width="0.6"/>
<line x1="135.78" y1="437.63" x2="140.82" y2="426.30" stroke="#fff" stroke-width="0.6"/>
<line x1="137.10" y1="438.30" x2="143.30" y2="427.56" stroke="#fff" stroke-width="0.6"/>
<line x1="138.35" y1="439.11" x2="145.64" y2="429.08" stroke="#fff" stroke-width="0.6"/>
<line x1="139.50" y1="440.05" x2="147.80" y2="430.83" stroke="#fff" stroke-width="0.6"/>
<line x1="140.55" y1="441.10" x2="149.77" y2="432.80" stroke="#fff" stroke-width="0.6"/>
<text x="130.00" y="453.80" font-size="8.8" text-anchor="middle" fill="#111" stroke="#111" stroke-width="0.4" font-weight="bold">ONs+</text>
<text x="107.30" y="420.40" font-size="8.8" text-anchor="start" fill="#1e1e1e" stroke="#1e1e1e" stroke-width="0.22">Amide</text>
<text x="135.60" y="417.80" font-size="8.8" text-anchor="start" fill="#1e1e1e" stroke="#1e1e1e" stroke-width="0.22">Aazole</text>
<text x="156.00" y="427.40" font-size="8.8" text-anchor="start" fill="#1e1e1e" stroke="#1e1e1e" stroke-width="0.22">Pyridine</text>
<text x="164.70" y="436.70" font-size="8.8" text-anchor="start" fill="#1e1e1e" stroke="#1e1e1e" stroke-width="0.22">N-N</text>
<text x="163.70" y="447.60" font-size="8.8" text-anchor="start" fill="#1e1e1e" stroke="#1e1e1e" stroke-width="0.22">Aitrile</text>
<text x="161.20" y="457.70" font-size="8.8" text-anchor="start" fill="#1e1e1e" stroke="#1e1e1e" stroke-width="0.22">Isocyanate</text>
<text x="159.00" y="468.60" font-size="8.8" text-anchor="start" fill="#1e1e1e" stroke="#1e1e1e" stroke-width="0.22">N=N</text>
<text x="116.00" y="485.20" font-size="8.8" text-anchor="start" fill="#1e1e1e" stroke="#1e1e1e" stroke-width="0.22">Amine</text>
<line x1="148.40" y1="419.50" x2="140.90" y2="426.20" stroke="#555" stroke-width="0.45"/>
<line x1="155.40" y1="424.80" x2="145.80" y2="427.40" stroke="#555" stroke-width="0.45"/>
<line x1="163.30" y1="433.20" x2="146.70" y2="430.00" stroke="#555" stroke-width="0.45"/>
<line x1="162.40" y1="444.00" x2="148.40" y2="432.70" stroke="#555" stroke-width="0.45"/>
<line x1="160.20" y1="452.80" x2="150.20" y2="434.40" stroke="#555" stroke-width="0.45"/>
<line x1="158.40" y1="465.00" x2="151.00" y2="435.60" stroke="#555" stroke-width="0.45"/>
<line x1="122.00" y1="421.50" x2="130.00" y2="423.50" stroke="#555" stroke-width="0.45"/>
<path d="M220.35,466.99 A26.6,26.6 0 0 1 251.88,473.55 L242.52,481.68 A14.2,14.2 0 0 0 225.69,478.18 Z" fill="#8CC6C1" stroke="#8CC6C1" stroke-width="0.3"/>
<path d="M251.88,473.55 A26.6,26.6 0 0 1 258.09,495.02 L245.84,493.15 A14.2,14.2 0 0 0 242.52,481.68 Z" fill="#A8D5D1" stroke="#A8D5D1" stroke-width="0.3"/>
<path d="M258.09,495.02 A26.6,26.6 0 1 1 220.35,466.99 L225.69,478.18 A14.2,14.2 0 1 0 245.84,493.15 Z" fill="#72B4AE" stroke="#72B4AE" stroke-width="0.3"/>
<line x1="225.69" y1="478.18" x2="220.35" y2="466.99" stroke="#fff" stroke-width="0.6"/>
<line x1="242.52" y1="481.68" x2="251.88" y2="473.55" stroke="#fff" stroke-width="0.6"/>
<line x1="245.84" y1="493.15" x2="258.09" y2="495.02" stroke="#fff" stroke-width="0.6"/>
<text x="231.80" y="494.20" font-size="8.8" text-anchor="middle" fill="#111" stroke="#111" stroke-width="0.4" font-weight="bold">ONs+</text>
<text x="217.20" y="460.50" font-size="8.8" text-anchor="start" fill="#1e1e1e" stroke="#1e1e1e" stroke-width="0.22">Aromatic ring</text>
<text x="253.80" y="486.10" font-size="8.8" text-anchor="start" fill="#1e1e1e" stroke="#1e1e1e" stroke-width="0.22">Non-aromatic ring</text>
<text x="186.60" y="519.60" font-size="8.8" text-anchor="start" fill="#1e1e1e" stroke="#1e1e1e" stroke-width="0.22">No ring</text>
<line x1="255.00" y1="462.50" x2="241.00" y2="465.50" stroke="#555" stroke-width="0.45"/>
<line x1="214.50" y1="514.50" x2="218.50" y2="509.50" stroke="#555" stroke-width="0.45"/>
<path d="M515.60,450.80 A26.6,26.6 0 1 1 484.38,424.60 L486.53,436.82 A14.2,14.2 0 1 0 503.20,450.80 Z" fill="#72B4AE" stroke="#72B4AE" stroke-width="0.3"/>
<path d="M484.38,424.60 A26.6,26.6 0 0 1 507.81,431.99 L499.04,440.76 A14.2,14.2 0 0 0 486.53,436.82 Z" fill="#8CC6C1" stroke="#8CC6C1" stroke-width="0.3"/>
<path d="M507.81,431.99 A26.6,26.6 0 0 1 515.02,445.27 L502.89,447.85 A14.2,14.2 0 0 0 499.04,440.76 Z" fill="#A8D5D1" stroke="#A8D5D1" stroke-width="0.3"/>
<path d="M515.02,445.27 A26.6,26.6 0 0 1 515.34,447.10 L503.06,448.82 A14.2,14.2 0 0 0 502.89,447.85 Z" fill="#A8D5D1" stroke="#A8D5D1" stroke-width="0.3"/>
<path d="M515.34,447.10 A26.6,26.6 0 0 1 515.54,448.94 L503.17,449.81 A14.2,14.2 0 0 0 503.06,448.82 Z" fill="#A8D5D1" stroke="#A8D5D1" stroke-width="0.3"/>
<path d="M515.54,448.94 A26.6,26.6 0 0 1 515.60,450.80 L503.20,450.80 A14.2,14.2 0 0 0 503.17,449.81 Z" fill="#A8D5D1" stroke="#A8D5D1" stroke-width="0.3"/>
<line x1="503.20" y1="450.80" x2="515.60" y2="450.80" stroke="#fff" stroke-width="0.6"/>
<line x1="486.53" y1="436.82" x2="484.38" y2="424.60" stroke="#fff" stroke-width="0.6"/>
<line x1="499.04" y1="440.76" x2="507.81" y2="431.99" stroke="#fff" stroke-width="0.6"/>
<line x1="502.89" y1="447.85" x2="515.02" y2="445.27" stroke="#fff" stroke-width="0.6"/>
<line x1="503.06" y1="448.82" x2="515.34" y2="447.10" stroke="#fff" stroke-width="0.6"/>
<line x1="503.17" y1="449.81" x2="515.54" y2="448.94" stroke="#fff" stroke-width="0.6"/>
<text x="489.00" y="454.00" font-size="8.8" text-anchor="middle" fill="#111" stroke="#111" stroke-width="0.4" font-weight="bold">ONs-</text>
<text x="485.00" y="421.80" font-size="8.8" text-anchor="start" fill="#1e1e1e" stroke="#1e1e1e" stroke-width="0.22">Amine</text>
<text x="515.10" y="432.00" font-size="8.8" text-anchor="start" fill="#1e1e1e" stroke="#1e1e1e" stroke-width="0.22">Amide</text>
<text x="526.30" y="446.60" font-size="8.8" text-anchor="start" fill="#1e1e1e" stroke="#1e1e1e" stroke-width="0.22">Azole</text>
<text x="526.60" y="459.70" font-size="8.8" text-anchor="start" fill="#1e1e1e" stroke="#1e1e1e" stroke-width="0.22">Pyridine</text>
<text x="521.20" y="470.30" font-size="8.8" text-anchor="start" fill="#1e1e1e" stroke="#1e1e1e" stroke-width="0.22">Isocyanate</text>
<text x="461.90" y="483.50" font-size="8.8" text-anchor="start" fill="#1e1e1e" stroke="#1e1e1e" stroke-width="0.22">Nitro-aromatic</text>
<line x1="514.80" y1="432.40" x2="511.10" y2="438.80" stroke="#555" stroke-width="0.45"/>
<line x1="525.70" y1="443.70" x2="514.80" y2="446.60" stroke="#555" stroke-width="0.45"/>
<line x1="526.30" y1="456.10" x2="513.90" y2="448.40" stroke="#555" stroke-width="0.45"/>
<line x1="520.30" y1="463.40" x2="514.20" y2="449.70" stroke="#555" stroke-width="0.45"/>
<path d="M595.74,465.25 A26.6,26.6 0 0 1 616.10,468.20 L609.71,478.83 A14.2,14.2 0 0 0 598.84,477.25 Z" fill="#8CC6C1" stroke="#8CC6C1" stroke-width="0.3"/>
<path d="M616.10,468.20 A26.6,26.6 0 0 1 627.40,481.90 L615.74,486.14 A14.2,14.2 0 0 0 609.71,478.83 Z" fill="#A8D5D1" stroke="#A8D5D1" stroke-width="0.3"/>
<path d="M627.40,481.90 A26.6,26.6 0 1 1 595.74,465.25 L598.84,477.25 A14.2,14.2 0 1 0 615.74,486.14 Z" fill="#72B4AE" stroke="#72B4AE" stroke-width="0.3"/>
<line x1="598.84" y1="477.25" x2="595.74" y2="465.25" stroke="#fff" stroke-width="0.6"/>
<line x1="609.71" y1="478.83" x2="616.10" y2="468.20" stroke="#fff" stroke-width="0.6"/>
<line x1="615.74" y1="486.14" x2="627.40" y2="481.90" stroke="#fff" stroke-width="0.6"/>
<text x="602.40" y="494.20" font-size="8.8" text-anchor="middle" fill="#111" stroke="#111" stroke-width="0.4" font-weight="bold">ONs-</text>
<text x="577.60" y="460.50" font-size="8.8" text-anchor="start" fill="#1e1e1e" stroke="#1e1e1e" stroke-width="0.22">Non-aromatic ring</text>
<text x="626.70" y="477.20" font-size="8.8" text-anchor="start" fill="#1e1e1e" stroke="#1e1e1e" stroke-width="0.22">No ring</text>
<text x="581.90" y="524.00" font-size="8.8" text-anchor="start" fill="#1e1e1e" stroke="#1e1e1e" stroke-width="0.22">Aromatic ring</text>
<line x1="613.20" y1="462.30" x2="606.20" y2="464.20" stroke="#555" stroke-width="0.45"/>
</svg>
</body></html>
